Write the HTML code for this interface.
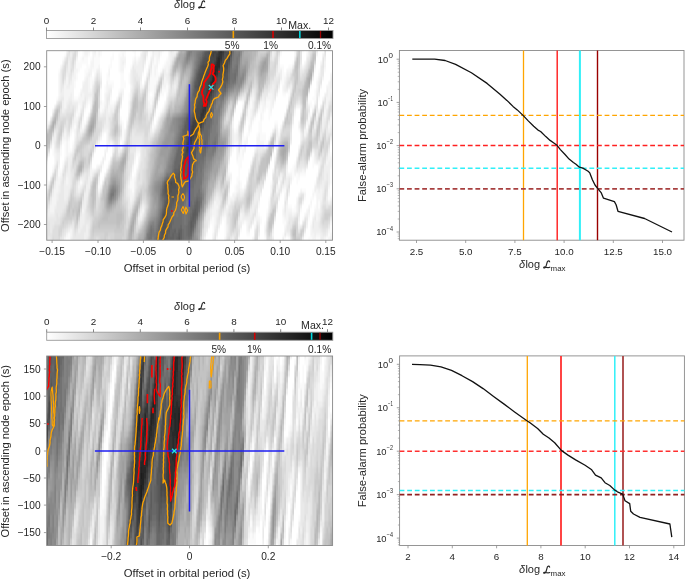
<!DOCTYPE html><html><head><meta charset="utf-8"><style>html,body{margin:0;padding:0;background:#fff;overflow:hidden}svg{display:block;will-change:transform}</style></head><body><svg width="685" height="579" viewBox="0 0 685 579" style="font-family:&quot;Liberation Sans&quot;,sans-serif" fill="#262626">
<rect width="685" height="579" fill="#fff"/>
<text x="174" y="8" font-size="11" font-style="italic">δ</text>
<text x="180.38" y="8" font-size="11">log</text>
<path transform="translate(198.35,0.6) scale(1)" d="M6.3 1.2 C6.0 -0.1 4.4 -0.1 3.9 1.4 L2.7 5.6 C2.4 6.7 1.4 7.6 0.6 7.3 C-0.1 7.0 0.6 6.1 1.8 6.4 C3.2 6.8 4.6 7.5 6.5 6.6" fill="none" stroke="#262626" stroke-width="1.15" stroke-linecap="round"/>
<linearGradient id="cbA" x1="0" x2="1" y1="0" y2="0"><stop offset="0" stop-color="#ffffff"/><stop offset="1" stop-color="#000000"/></linearGradient>
<rect x="46.5" y="30.5" width="286.5" height="8" fill="url(#cbA)" stroke="#9a9a9a" stroke-width="0.9"/>
<line x1="233.33" x2="233.33" y1="31" y2="38" stroke="#f5a000" stroke-width="1.6"/>
<line x1="273.04" x2="273.04" y1="31" y2="38" stroke="#d40000" stroke-width="1.6"/>
<line x1="299.83" x2="299.83" y1="31" y2="38" stroke="#00d8e0" stroke-width="1.6"/>
<line x1="320.51" x2="320.51" y1="31" y2="38" stroke="#a00000" stroke-width="1.3"/>
<line x1="46.5" x2="46.5" y1="27.5" y2="30.5" stroke="#707070" stroke-width="0.85"/>
<text x="46.5" y="24" font-size="9.9" text-anchor="middle" >0</text>
<line x1="93.5" x2="93.5" y1="27.5" y2="30.5" stroke="#707070" stroke-width="0.85"/>
<text x="93.5" y="24" font-size="9.9" text-anchor="middle" >2</text>
<line x1="140.5" x2="140.5" y1="27.5" y2="30.5" stroke="#707070" stroke-width="0.85"/>
<text x="140.5" y="24" font-size="9.9" text-anchor="middle" >4</text>
<line x1="187.5" x2="187.5" y1="27.5" y2="30.5" stroke="#707070" stroke-width="0.85"/>
<text x="187.5" y="24" font-size="9.9" text-anchor="middle" >6</text>
<line x1="234.5" x2="234.5" y1="27.5" y2="30.5" stroke="#707070" stroke-width="0.85"/>
<text x="234.5" y="24" font-size="9.9" text-anchor="middle" >8</text>
<line x1="281.5" x2="281.5" y1="27.5" y2="30.5" stroke="#707070" stroke-width="0.85"/>
<text x="281.5" y="24" font-size="9.9" text-anchor="middle" >10</text>
<line x1="328.5" x2="328.5" y1="27.5" y2="30.5" stroke="#707070" stroke-width="0.85"/>
<text x="328.5" y="24" font-size="9.9" text-anchor="middle" >12</text>
<text x="239.6" y="48.8" font-size="10.2" text-anchor="end" >5%</text>
<text x="278" y="48.8" font-size="10.2" text-anchor="end" >1%</text>
<text x="331.2" y="48.8" font-size="10.2" text-anchor="end" >0.1%</text>
<text x="288.3" y="28.7" font-size="10.6" text-anchor="start" >Max.</text>
<clipPath id="hA"><rect x="46.7" y="50.7" width="285.8" height="189.5"/></clipPath>
<filter id="hAf" x="-2%" y="-2%" width="104%" height="104%"><feGaussianBlur stdDeviation="0.6 1.2"/></filter>
<g clip-path="url(#hA)"><rect x="46.7" y="50.7" width="285.8" height="189.5" fill="#cccccc"/>
<g filter="url(#hAf)" stroke-width="4.5">
<path stroke="#262626" d="M214 70.7h2.4M214 74.7h2.4M212 78.7h2.4M212 82.7h2.4"/>
<path stroke="#2b2b2b" d="M220 50.7h2.4M218 58.7h2.4M216 62.7h4.4M214 66.7h6.4M216 70.7h2.4M212 74.7h2.4M214 78.7h2.4M210 82.7h2.4M210 86.7h2.4"/>
<path stroke="#313131" d="M218 50.7h2.4M222 50.7h2.4M218 54.7h4.4M216 58.7h2.4M220 58.7h2.4M210 90.7h2.4M204 106.7h2.4M202 110.7h2.4"/>
<path stroke="#363636" d="M216 74.7h2.4M212 86.7h2.4M208 90.7h2.4M208 94.7h2.4M206 98.7h2.4M204 102.7h2.4M204 110.7h2.4M200 114.7h4.4M200 118.7h2.4"/>
<path stroke="#3c3c3c" d="M216 54.7h2.4M222 54.7h2.4M214 62.7h2.4M220 62.7h2.4M212 70.7h2.4M210 78.7h2.4M208 86.7h2.4M206 94.7h2.4M208 98.7h2.4M206 102.7h2.4M202 106.7h2.4M202 118.7h2.4M200 122.7h2.4M192 126.7h2.4M192 130.7h2.4M190 134.7h2.4M188 138.7h4.4M188 142.7h2.4M186 150.7h2.4"/>
<path stroke="#414141" d="M212 50.7h4.4M230 50.7h2.4M212 54.7h2.4M228 58.7h2.4M218 70.7h2.4M210 74.7h2.4M208 82.7h2.4M214 82.7h2.4M206 90.7h2.4M210 94.7h2.4M204 98.7h2.4M206 106.7h2.4M200 110.7h2.4M204 114.7h2.4M194 118.7h2.4M198 118.7h2.4M192 122.7h4.4M198 122.7h2.4M194 126.7h2.4M198 126.7h2.4M190 130.7h2.4M192 134.7h2.4M190 142.7h2.4M186 146.7h4.4"/>
<path stroke="#474747" d="M216 50.7h2.4M224 50.7h2.4M210 54.7h2.4M214 54.7h2.4M228 54.7h2.4M210 58.7h6.4M222 58.7h2.4M208 62.7h4.4M226 62.7h2.4M208 66.7h2.4M212 66.7h2.4M220 66.7h2.4M224 66.7h4.4M204 70.7h2.4M208 70.7h4.4M222 70.7h2.4M202 74.7h2.4M206 74.7h4.4M200 78.7h4.4M206 78.7h4.4M200 82.7h2.4M206 82.7h2.4M206 86.7h2.4M212 90.7h2.4M204 94.7h2.4M202 102.7h2.4M208 102.7h2.4M200 106.7h2.4M196 110.7h4.4M194 114.7h6.4M196 118.7h2.4M196 122.7h2.4M190 126.7h2.4M196 126.7h2.4M200 126.7h2.4M194 130.7h2.4M188 134.7h2.4M192 138.7h2.4M186 142.7h2.4M188 150.7h2.4M184 154.7h4.4M184 158.7h2.4"/>
<path stroke="#4c4c4c" d="M210 50.7h2.4M228 50.7h2.4M226 54.7h2.4M208 58.7h2.4M226 58.7h2.4M206 62.7h2.4M212 62.7h2.4M222 62.7h4.4M202 66.7h6.4M210 66.7h2.4M222 66.7h2.4M202 70.7h2.4M206 70.7h2.4M220 70.7h2.4M224 70.7h2.4M200 74.7h2.4M204 74.7h2.4M218 74.7h6.4M204 78.7h2.4M216 78.7h2.4M220 78.7h2.4M198 82.7h2.4M202 82.7h4.4M198 86.7h8.4M214 86.7h2.4M200 90.7h6.4M202 94.7h2.4M200 98.7h4.4M210 98.7h2.4M198 102.7h4.4M196 106.7h4.4M194 110.7h2.4M206 110.7h2.4M192 118.7h2.4M202 122.7h2.4M196 130.7h4.4M194 134.7h4.4M190 146.7h2.4M184 150.7h2.4M182 162.7h2.4M170 182.7h2.4"/>
<path stroke="#515151" d="M208 50.7h2.4M226 50.7h2.4M208 54.7h2.4M224 54.7h2.4M230 54.7h2.4M204 58.7h4.4M224 58.7h2.4M202 62.7h4.4M228 62.7h2.4M200 66.7h2.4M200 70.7h2.4M226 70.7h2.4M198 74.7h2.4M224 74.7h2.4M198 78.7h2.4M218 78.7h2.4M222 78.7h2.4M216 82.7h2.4M196 86.7h2.4M198 90.7h2.4M198 94.7h4.4M212 94.7h2.4M198 98.7h2.4M196 102.7h2.4M208 106.7h2.4M204 118.7h2.4M190 122.7h2.4M188 130.7h2.4M198 134.7h2.4M186 138.7h2.4M194 138.7h4.4M192 142.7h2.4M188 154.7h2.4M182 158.7h2.4M186 158.7h2.4M184 162.7h2.4M182 166.7h2.4M180 170.7h2.4M188 170.7h2.4M172 182.7h4.4M168 186.7h8.4M168 190.7h4.4M168 194.7h2.4M164 210.7h2.4M162 214.7h4.4M162 218.7h4.4M162 222.7h4.4M162 226.7h4.4M162 230.7h2.4M162 234.7h2.4M160 238.7h2.4M160 242.7h4.4"/>
<path stroke="#575757" d="M206 50.7h2.4M204 54.7h4.4M202 58.7h2.4M198 70.7h2.4M226 74.7h2.4M196 78.7h2.4M224 78.7h4.4M196 82.7h2.4M218 82.7h4.4M194 86.7h2.4M216 86.7h2.4M196 90.7h2.4M214 90.7h2.4M196 94.7h2.4M196 98.7h2.4M212 98.7h2.4M210 102.7h2.4M208 110.7h2.4M192 114.7h2.4M206 114.7h2.4M190 118.7h2.4M188 122.7h2.4M188 126.7h2.4M202 126.7h2.4M200 130.7h2.4M186 134.7h2.4M194 142.7h4.4M184 146.7h2.4M192 146.7h4.4M190 150.7h6.4M182 154.7h2.4M190 154.7h6.4M188 158.7h6.4M186 162.7h8.4M180 166.7h2.4M184 166.7h8.4M182 170.7h6.4M190 170.7h2.4M178 174.7h4.4M186 174.7h4.4M172 178.7h8.4M186 178.7h2.4M166 182.7h4.4M176 182.7h4.4M164 186.7h4.4M176 186.7h2.4M164 190.7h4.4M172 190.7h6.4M166 194.7h2.4M170 194.7h6.4M166 198.7h4.4M172 198.7h2.4M166 202.7h2.4M164 206.7h4.4M166 210.7h2.4M166 214.7h2.4M166 218.7h2.4M166 222.7h2.4M160 230.7h2.4M164 230.7h2.4M160 234.7h2.4M164 234.7h2.4M162 238.7h4.4M178 238.7h2.4M158 242.7h2.4M164 242.7h2.4M176 242.7h4.4"/>
<path stroke="#5c5c5c" d="M204 50.7h2.4M200 62.7h2.4M228 66.7h2.4M196 74.7h2.4M194 82.7h2.4M222 82.7h4.4M218 86.7h2.4M224 86.7h2.4M194 90.7h2.4M216 90.7h2.4M194 94.7h2.4M214 94.7h2.4M212 102.7h2.4M194 106.7h2.4M210 106.7h2.4M210 110.7h2.4M208 114.7h2.4M186 118.7h4.4M186 122.7h2.4M204 122.7h2.4M184 126.7h4.4M184 130.7h4.4M184 134.7h2.4M198 138.7h2.4M184 142.7h2.4M196 146.7h2.4M194 158.7h2.4M180 162.7h2.4M192 166.7h2.4M178 170.7h2.4M192 170.7h2.4M174 174.7h4.4M182 174.7h4.4M190 174.7h2.4M170 178.7h2.4M180 178.7h2.4M188 178.7h2.4M164 182.7h2.4M186 182.7h2.4M178 186.7h2.4M184 186.7h2.4M178 190.7h2.4M164 194.7h2.4M176 194.7h4.4M170 198.7h2.4M174 198.7h2.4M164 202.7h2.4M168 202.7h6.4M168 206.7h4.4M162 210.7h2.4M168 210.7h2.4M194 210.7h2.4M168 214.7h2.4M192 214.7h4.4M168 218.7h2.4M192 218.7h2.4M160 222.7h2.4M168 222.7h2.4M190 222.7h2.4M160 226.7h2.4M166 226.7h4.4M190 226.7h2.4M166 230.7h4.4M166 234.7h2.4M178 234.7h2.4M158 238.7h2.4M166 238.7h2.4"/>
<path stroke="#626262" d="M202 54.7h2.4M230 58.7h2.4M198 66.7h2.4M228 70.7h2.4M226 82.7h2.4M220 86.7h4.4M192 94.7h2.4M194 98.7h2.4M194 102.7h2.4M192 110.7h2.4M190 114.7h2.4M210 114.7h2.4M206 118.7h2.4M184 122.7h2.4M182 130.7h2.4M202 130.7h2.4M182 134.7h2.4M200 134.7h2.4M182 138.7h4.4M182 142.7h2.4M204 142.7h2.4M182 146.7h2.4M204 146.7h2.4M182 150.7h2.4M196 150.7h2.4M180 158.7h2.4M194 162.7h2.4M178 166.7h2.4M194 166.7h2.4M174 170.7h4.4M172 174.7h2.4M192 174.7h2.4M168 178.7h2.4M182 178.7h4.4M180 182.7h2.4M184 182.7h2.4M180 186.7h4.4M186 186.7h2.4M162 190.7h2.4M180 190.7h6.4M162 194.7h2.4M180 194.7h4.4M164 198.7h2.4M176 198.7h4.4M174 202.7h4.4M196 202.7h2.4M172 206.7h2.4M194 206.7h4.4M170 210.7h2.4M192 210.7h2.4M196 210.7h2.4M170 214.7h2.4M196 214.7h2.4M160 218.7h2.4M170 218.7h2.4M190 218.7h2.4M194 218.7h2.4M170 222.7h2.4M192 222.7h2.4M170 226.7h2.4M192 226.7h2.4M174 230.7h2.4M178 230.7h4.4M190 230.7h2.4M158 234.7h2.4M168 234.7h2.4M172 234.7h2.4M180 234.7h2.4M168 238.7h6.4M176 238.7h2.4M180 238.7h2.4M156 242.7h2.4M166 242.7h2.4M170 242.7h4.4M180 242.7h2.4"/>
<path stroke="#676767" d="M232 50.7h2.4M200 58.7h2.4M230 62.7h2.4M196 70.7h2.4M228 74.7h2.4M194 78.7h2.4M228 78.7h2.4M192 90.7h2.4M218 90.7h2.4M222 90.7h4.4M216 94.7h2.4M192 98.7h2.4M214 98.7h2.4M192 102.7h2.4M192 106.7h2.4M212 106.7h2.4M212 110.7h2.4M188 114.7h2.4M208 118.7h4.4M206 122.7h4.4M204 126.7h6.4M204 130.7h4.4M204 134.7h4.4M180 138.7h2.4M200 138.7h2.4M204 138.7h4.4M180 142.7h2.4M198 142.7h2.4M206 142.7h2.4M178 146.7h4.4M198 146.7h2.4M202 146.7h2.4M178 150.7h4.4M202 150.7h4.4M176 154.7h6.4M196 154.7h2.4M202 154.7h2.4M176 158.7h4.4M196 158.7h2.4M174 162.7h6.4M196 162.7h2.4M174 166.7h4.4M194 170.7h2.4M194 174.7h2.4M166 178.7h2.4M190 178.7h4.4M182 182.7h2.4M188 182.7h2.4M162 186.7h2.4M186 190.7h2.4M184 194.7h2.4M180 198.7h4.4M196 198.7h2.4M178 202.7h6.4M194 202.7h2.4M198 202.7h2.4M162 206.7h2.4M174 206.7h4.4M180 206.7h2.4M198 206.7h2.4M172 210.7h4.4M180 210.7h2.4M160 214.7h2.4M172 214.7h2.4M190 214.7h2.4M172 218.7h2.4M172 222.7h2.4M188 222.7h2.4M194 222.7h2.4M158 226.7h2.4M180 226.7h2.4M188 226.7h2.4M158 230.7h2.4M170 230.7h4.4M188 230.7h2.4M170 234.7h2.4M174 234.7h4.4M188 234.7h4.4M156 238.7h2.4M174 238.7h2.4M168 242.7h2.4M174 242.7h2.4"/>
<path stroke="#6d6d6d" d="M202 50.7h2.4M198 62.7h2.4M230 66.7h2.4M234 74.7h2.4M234 78.7h2.4M228 82.7h2.4M192 86.7h2.4M226 86.7h2.4M220 90.7h2.4M222 94.7h2.4M190 102.7h2.4M214 102.7h2.4M190 106.7h2.4M190 110.7h2.4M186 114.7h2.4M184 118.7h2.4M210 122.7h2.4M182 126.7h2.4M208 130.7h2.4M180 134.7h2.4M202 134.7h2.4M208 134.7h2.4M202 138.7h2.4M178 142.7h2.4M200 142.7h4.4M200 146.7h2.4M206 146.7h2.4M176 150.7h2.4M198 150.7h4.4M198 154.7h4.4M204 154.7h2.4M174 158.7h2.4M198 158.7h6.4M198 162.7h2.4M196 166.7h2.4M172 170.7h2.4M196 170.7h2.4M170 174.7h2.4M194 178.7h2.4M190 182.7h4.4M188 186.7h6.4M162 198.7h2.4M184 198.7h2.4M198 198.7h2.4M162 202.7h2.4M190 202.7h2.4M178 206.7h2.4M182 206.7h2.4M190 206.7h4.4M176 210.7h4.4M190 210.7h2.4M198 210.7h2.4M174 214.7h2.4M178 214.7h4.4M188 214.7h2.4M174 218.7h8.4M188 218.7h2.4M158 222.7h2.4M174 222.7h8.4M172 226.7h8.4M186 226.7h2.4M176 230.7h2.4M182 230.7h2.4M186 230.7h2.4M192 230.7h2.4M156 234.7h2.4M182 234.7h2.4M186 234.7h2.4M182 238.7h2.4M188 238.7h2.4M154 242.7h2.4M188 242.7h2.4"/>
<path stroke="#727272" d="M200 54.7h2.4M232 54.7h2.4M198 58.7h2.4M196 66.7h2.4M236 66.7h2.4M230 70.7h2.4M234 70.7h4.4M194 74.7h2.4M230 74.7h4.4M230 78.7h4.4M192 82.7h2.4M232 82.7h2.4M218 94.7h4.4M190 98.7h2.4M188 110.7h2.4M212 114.7h2.4M182 122.7h2.4M210 126.7h2.4M180 130.7h2.4M178 138.7h2.4M208 138.7h2.4M214 142.7h2.4M214 146.7h2.4M200 162.7h4.4M172 166.7h2.4M198 166.7h4.4M200 170.7h2.4M196 174.7h2.4M164 178.7h2.4M162 182.7h2.4M194 182.7h2.4M188 190.7h6.4M198 190.7h2.4M160 194.7h2.4M186 194.7h2.4M190 194.7h4.4M196 194.7h4.4M190 198.7h6.4M200 198.7h2.4M184 202.7h2.4M192 202.7h2.4M200 202.7h2.4M188 206.7h2.4M160 210.7h2.4M182 210.7h2.4M188 210.7h2.4M176 214.7h2.4M182 214.7h2.4M186 214.7h2.4M182 218.7h2.4M186 218.7h2.4M196 218.7h2.4M182 222.7h2.4M186 222.7h2.4M182 226.7h4.4M150 230.7h2.4M156 230.7h2.4M184 230.7h2.4M150 234.7h2.4M184 234.7h2.4M148 238.7h4.4M154 238.7h2.4M184 238.7h4.4M190 238.7h2.4M148 242.7h2.4M182 242.7h2.4M186 242.7h2.4"/>
<path stroke="#777777" d="M200 50.7h2.4M198 54.7h2.4M238 54.7h2.4M232 58.7h2.4M236 58.7h2.4M196 62.7h2.4M236 62.7h2.4M234 66.7h2.4M194 70.7h2.4M232 70.7h2.4M236 74.7h2.4M230 82.7h2.4M234 82.7h2.4M228 86.7h2.4M226 90.7h2.4M190 94.7h2.4M224 94.7h2.4M216 98.7h2.4M220 98.7h4.4M188 106.7h2.4M214 106.7h2.4M182 118.7h2.4M212 118.7h2.4M212 122.7h2.4M180 126.7h2.4M210 130.7h2.4M178 134.7h2.4M214 138.7h2.4M176 142.7h2.4M208 142.7h2.4M212 142.7h2.4M176 146.7h2.4M208 146.7h2.4M212 146.7h2.4M206 150.7h2.4M212 150.7h2.4M174 154.7h2.4M204 158.7h2.4M172 162.7h2.4M202 166.7h2.4M198 170.7h2.4M166 174.7h4.4M198 174.7h4.4M196 178.7h6.4M196 182.7h6.4M194 186.7h6.4M160 190.7h2.4M194 190.7h4.4M110 194.7h4.4M188 194.7h2.4M194 194.7h2.4M200 194.7h2.4M160 198.7h2.4M186 198.7h4.4M188 202.7h2.4M184 206.7h2.4M186 210.7h2.4M184 214.7h2.4M158 218.7h2.4M184 218.7h2.4M184 222.7h2.4M150 226.7h2.4M156 226.7h2.4M194 226.7h2.4M152 230.7h2.4M148 234.7h2.4M152 234.7h4.4M146 242.7h2.4M152 242.7h2.4M184 242.7h2.4"/>
<path stroke="#7d7d7d" d="M188 50.7h4.4M198 50.7h2.4M234 50.7h2.4M238 50.7h2.4M188 54.7h2.4M196 54.7h2.4M234 54.7h4.4M196 58.7h2.4M234 58.7h2.4M238 58.7h2.4M232 62.7h4.4M232 66.7h2.4M192 78.7h2.4M230 86.7h2.4M190 90.7h2.4M218 98.7h2.4M188 102.7h2.4M216 102.7h2.4M220 102.7h2.4M218 106.7h2.4M214 110.7h6.4M184 114.7h2.4M214 114.7h4.4M180 118.7h2.4M214 118.7h4.4M180 122.7h2.4M214 122.7h4.4M178 126.7h2.4M212 126.7h4.4M178 130.7h2.4M212 130.7h4.4M210 134.7h8.4M176 138.7h2.4M210 138.7h4.4M216 138.7h2.4M210 142.7h2.4M216 142.7h2.4M174 146.7h2.4M210 146.7h2.4M174 150.7h2.4M208 150.7h4.4M214 150.7h2.4M206 154.7h8.4M172 158.7h2.4M204 162.7h2.4M170 166.7h2.4M170 170.7h2.4M202 170.7h2.4M202 174.7h2.4M160 186.7h2.4M200 186.7h2.4M112 190.7h2.4M200 190.7h2.4M110 198.7h2.4M160 202.7h2.4M186 202.7h2.4M160 206.7h2.4M186 206.7h2.4M200 206.7h2.4M184 210.7h2.4M158 214.7h2.4M156 222.7h2.4M152 226.7h2.4M148 230.7h2.4M154 230.7h2.4M146 234.7h2.4M192 234.7h2.4M146 238.7h2.4M152 238.7h2.4M150 242.7h2.4M190 242.7h2.4"/>
<path stroke="#828282" d="M196 50.7h2.4M236 50.7h2.4M186 54.7h2.4M186 58.7h2.4M194 62.7h2.4M238 62.7h2.4M194 66.7h2.4M236 78.7h2.4M190 86.7h2.4M232 86.7h2.4M188 98.7h2.4M218 102.7h2.4M216 106.7h2.4M220 106.7h2.4M186 110.7h2.4M218 114.7h2.4M178 118.7h2.4M178 122.7h2.4M216 126.7h2.4M216 130.7h2.4M176 134.7h2.4M174 142.7h2.4M172 150.7h2.4M172 154.7h2.4M170 158.7h2.4M206 158.7h6.4M170 162.7h2.4M168 166.7h2.4M204 166.7h2.4M168 170.7h2.4M202 178.7h2.4M110 190.7h2.4M114 190.7h2.4M202 194.7h2.4M202 198.7h2.4M158 210.7h2.4M198 214.7h2.4M156 218.7h2.4M152 222.7h2.4M154 226.7h2.4M144 242.7h2.4"/>
<path stroke="#888888" d="M192 50.7h4.4M240 50.7h2.4M190 54.7h2.4M194 54.7h2.4M188 58.7h2.4M194 58.7h2.4M238 66.7h2.4M192 74.7h2.4M242 74.7h2.4M240 78.7h4.4M190 82.7h2.4M236 82.7h2.4M240 82.7h2.4M228 90.7h2.4M188 94.7h2.4M226 94.7h2.4M222 102.7h2.4M186 106.7h2.4M182 114.7h2.4M176 118.7h2.4M218 118.7h2.4M176 122.7h2.4M176 126.7h2.4M176 130.7h2.4M174 138.7h2.4M172 146.7h2.4M216 146.7h2.4M170 154.7h2.4M168 162.7h2.4M206 162.7h4.4M206 166.7h2.4M166 170.7h2.4M204 170.7h2.4M164 174.7h2.4M162 178.7h2.4M160 182.7h2.4M202 182.7h2.4M112 186.7h2.4M158 186.7h2.4M158 190.7h2.4M202 190.7h2.4M114 194.7h2.4M158 194.7h2.4M108 198.7h2.4M112 198.7h2.4M158 198.7h2.4M158 202.7h2.4M158 206.7h2.4M150 222.7h2.4M154 222.7h2.4M196 222.7h2.4M148 226.7h2.4M194 230.7h2.4M192 238.7h2.4"/>
<path stroke="#8d8d8d" d="M186 50.7h2.4M192 54.7h2.4M240 54.7h2.4M186 62.7h2.4M192 70.7h2.4M238 70.7h2.4M238 74.7h2.4M238 78.7h2.4M238 82.7h2.4M234 86.7h2.4M238 86.7h2.4M188 90.7h2.4M230 90.7h2.4M224 98.7h2.4M186 102.7h2.4M184 110.7h2.4M220 110.7h2.4M174 118.7h2.4M172 122.7h4.4M218 122.7h2.4M174 126.7h2.4M218 126.7h2.4M174 130.7h2.4M218 130.7h2.4M174 134.7h2.4M218 134.7h2.4M170 150.7h2.4M214 154.7h2.4M168 158.7h2.4M212 158.7h2.4M210 162.7h2.4M166 166.7h2.4M208 166.7h2.4M206 170.7h2.4M204 174.7h2.4M204 178.7h2.4M158 182.7h2.4M114 186.7h2.4M156 186.7h2.4M202 186.7h2.4M156 190.7h2.4M108 194.7h2.4M202 202.7h2.4M200 210.7h2.4M156 214.7h2.4M154 218.7h2.4M146 230.7h2.4M192 242.7h2.4"/>
<path stroke="#929292" d="M184 58.7h2.4M190 58.7h4.4M184 62.7h2.4M192 62.7h2.4M192 66.7h2.4M242 70.7h4.4M240 74.7h2.4M244 74.7h2.4M190 78.7h2.4M236 86.7h2.4M232 90.7h2.4M186 98.7h2.4M184 106.7h2.4M222 106.7h2.4M180 114.7h2.4M220 114.7h2.4M172 118.7h2.4M170 126.7h4.4M170 130.7h4.4M172 138.7h2.4M218 138.7h2.4M172 142.7h2.4M218 142.7h2.4M170 146.7h2.4M216 150.7h2.4M168 154.7h2.4M166 162.7h2.4M210 166.7h2.4M164 170.7h2.4M208 170.7h2.4M206 174.7h2.4M160 178.7h2.4M206 178.7h2.4M156 182.7h2.4M204 182.7h2.4M110 186.7h2.4M154 186.7h2.4M204 186.7h2.4M116 190.7h2.4M154 190.7h2.4M204 190.7h2.4M156 194.7h2.4M204 194.7h2.4M114 198.7h2.4M108 202.7h4.4M202 206.7h2.4M156 210.7h2.4M152 218.7h2.4M198 218.7h2.4M148 222.7h2.4M196 226.7h2.4M194 234.7h2.4M144 238.7h2.4M194 238.7h2.4M194 242.7h2.4"/>
<path stroke="#989898" d="M240 58.7h2.4M188 62.7h2.4M184 66.7h2.4M244 66.7h2.4M240 70.7h2.4M242 82.7h2.4M188 86.7h2.4M240 86.7h2.4M236 90.7h2.4M186 94.7h2.4M228 94.7h2.4M226 98.7h2.4M184 102.7h2.4M224 102.7h2.4M182 110.7h2.4M178 114.7h2.4M170 122.7h2.4M168 130.7h2.4M168 134.7h6.4M166 138.7h6.4M164 142.7h8.4M220 142.7h4.4M164 146.7h4.4M218 146.7h6.4M168 150.7h2.4M218 150.7h4.4M216 154.7h2.4M166 158.7h2.4M214 158.7h2.4M212 162.7h2.4M210 170.7h2.4M162 174.7h2.4M208 174.7h2.4M158 178.7h2.4M112 182.7h4.4M154 182.7h2.4M206 182.7h2.4M116 186.7h2.4M108 190.7h2.4M116 194.7h2.4M154 194.7h2.4M154 198.7h4.4M204 198.7h2.4M156 202.7h2.4M156 206.7h2.4M154 214.7h2.4M200 214.7h2.4M150 218.7h2.4M146 226.7h2.4M196 230.7h2.4M196 238.7h2.4M196 242.7h2.4"/>
<path stroke="#9d9d9d" d="M242 50.7h2.4M184 54.7h2.4M182 62.7h2.4M190 62.7h2.4M240 62.7h2.4M264 62.7h2.4M182 66.7h2.4M240 66.7h4.4M262 66.7h2.4M190 74.7h2.4M244 78.7h2.4M234 90.7h2.4M238 90.7h2.4M222 110.7h2.4M176 114.7h2.4M220 118.7h2.4M168 126.7h2.4M166 134.7h2.4M164 138.7h2.4M220 138.7h2.4M162 142.7h2.4M224 142.7h2.4M162 146.7h2.4M168 146.7h2.4M160 150.7h8.4M222 150.7h2.4M160 154.7h8.4M218 154.7h4.4M164 158.7h2.4M216 158.7h4.4M164 162.7h2.4M214 162.7h2.4M164 166.7h2.4M212 166.7h2.4M160 174.7h2.4M156 178.7h2.4M208 178.7h2.4M152 186.7h2.4M206 186.7h2.4M152 190.7h2.4M152 194.7h2.4M112 202.7h2.4M154 202.7h2.4M204 202.7h2.4M154 210.7h2.4M202 210.7h2.4M152 214.7h2.4M198 222.7h2.4M144 234.7h2.4M196 234.7h2.4M142 242.7h2.4"/>
<path stroke="#a3a3a3" d="M178 58.7h2.4M182 58.7h2.4M244 62.7h4.4M262 62.7h2.4M186 66.7h2.4M190 66.7h2.4M246 66.7h2.4M264 66.7h2.4M182 70.7h2.4M190 70.7h2.4M246 70.7h2.4M260 70.7h4.4M188 82.7h2.4M186 90.7h2.4M230 94.7h2.4M236 94.7h2.4M184 98.7h2.4M182 106.7h2.4M180 110.7h2.4M174 114.7h2.4M166 118.7h6.4M166 122.7h4.4M220 122.7h2.4M90 126.7h2.4M166 126.7h2.4M220 126.7h2.4M90 130.7h2.4M166 130.7h2.4M164 134.7h2.4M220 134.7h2.4M222 138.7h4.4M160 146.7h2.4M224 146.7h2.4M158 154.7h2.4M222 154.7h2.4M158 158.7h6.4M220 158.7h2.4M158 162.7h6.4M216 162.7h4.4M156 166.7h4.4M162 166.7h2.4M214 166.7h4.4M156 170.7h2.4M162 170.7h2.4M212 170.7h6.4M154 174.7h6.4M210 174.7h2.4M214 174.7h2.4M112 178.7h4.4M154 178.7h2.4M110 182.7h2.4M116 182.7h2.4M152 182.7h2.4M108 186.7h2.4M118 186.7h2.4M118 190.7h2.4M206 190.7h2.4M106 198.7h2.4M116 198.7h2.4M152 198.7h2.4M106 202.7h2.4M152 202.7h2.4M108 206.7h2.4M152 206.7h4.4M152 210.7h2.4M150 214.7h2.4M148 218.7h2.4M200 218.7h2.4M198 226.7h2.4M144 230.7h2.4M198 230.7h2.4"/>
<path stroke="#a8a8a8" d="M184 50.7h2.4M178 54.7h6.4M242 54.7h2.4M176 58.7h2.4M180 58.7h2.4M242 58.7h6.4M264 58.7h4.4M176 62.7h2.4M180 62.7h2.4M242 62.7h2.4M266 62.7h2.4M188 66.7h2.4M260 66.7h2.4M266 66.7h2.4M184 70.7h2.4M264 70.7h2.4M260 74.7h2.4M310 74.7h2.4M308 78.7h2.4M308 82.7h2.4M232 94.7h4.4M234 98.7h2.4M224 106.7h2.4M168 114.7h2.4M172 114.7h2.4M222 114.7h2.4M92 122.7h2.4M92 126.7h2.4M164 126.7h2.4M88 130.7h2.4M164 130.7h2.4M220 130.7h2.4M162 138.7h2.4M160 142.7h2.4M158 150.7h2.4M282 150.7h4.4M282 154.7h2.4M156 158.7h2.4M122 162.7h2.4M156 162.7h2.4M160 166.7h2.4M218 166.7h2.4M154 170.7h2.4M158 170.7h4.4M212 174.7h2.4M110 178.7h2.4M116 178.7h2.4M152 178.7h2.4M210 178.7h2.4M214 178.7h2.4M118 182.7h2.4M208 182.7h2.4M150 186.7h2.4M150 190.7h2.4M106 194.7h2.4M118 194.7h2.4M150 194.7h2.4M206 194.7h2.4M114 202.7h2.4M106 206.7h2.4M110 206.7h2.4M150 210.7h2.4M132 222.7h2.4M146 222.7h2.4M130 226.7h2.4M130 230.7h2.4M198 234.7h2.4M142 238.7h2.4M198 238.7h2.4M138 242.7h4.4"/>
<path stroke="#aeaeae" d="M180 50.7h2.4M244 50.7h4.4M244 54.7h6.4M266 54.7h2.4M248 58.7h2.4M178 62.7h2.4M248 62.7h2.4M260 62.7h2.4M174 66.7h4.4M180 66.7h2.4M248 66.7h2.4M266 70.7h2.4M182 74.7h2.4M246 74.7h2.4M262 74.7h2.4M188 78.7h2.4M244 82.7h2.4M186 86.7h2.4M242 86.7h2.4M228 98.7h2.4M182 102.7h2.4M226 102.7h2.4M180 106.7h2.4M178 110.7h2.4M224 110.7h2.4M92 118.7h2.4M52 122.7h2.4M90 122.7h2.4M164 122.7h2.4M52 126.7h2.4M162 130.7h2.4M88 134.7h2.4M162 134.7h2.4M222 134.7h4.4M160 138.7h2.4M226 138.7h2.4M158 142.7h2.4M226 142.7h2.4M158 146.7h2.4M282 146.7h4.4M156 150.7h2.4M224 150.7h2.4M280 150.7h2.4M156 154.7h2.4M280 154.7h2.4M284 154.7h2.4M122 158.7h4.4M222 158.7h2.4M282 158.7h2.4M120 162.7h2.4M154 162.7h2.4M220 162.7h2.4M80 166.7h2.4M120 166.7h4.4M154 166.7h2.4M78 170.7h2.4M120 170.7h2.4M112 174.7h6.4M152 174.7h2.4M216 174.7h2.4M118 178.7h2.4M212 178.7h2.4M150 182.7h2.4M210 182.7h4.4M208 186.7h2.4M208 190.7h2.4M150 198.7h2.4M206 198.7h2.4M150 202.7h2.4M150 206.7h2.4M204 206.7h2.4M134 214.7h2.4M148 214.7h2.4M202 214.7h2.4M132 218.7h2.4M200 222.7h2.4M132 226.7h2.4M144 226.7h2.4M130 234.7h2.4M142 234.7h2.4M138 238.7h4.4M136 242.7h2.4M198 242.7h2.4"/>
<path stroke="#b3b3b3" d="M182 50.7h2.4M248 50.7h4.4M250 54.7h2.4M250 58.7h2.4M262 58.7h2.4M174 62.7h2.4M258 66.7h2.4M174 70.7h2.4M180 70.7h2.4M186 70.7h4.4M258 70.7h2.4M310 70.7h2.4M180 74.7h2.4M188 74.7h2.4M258 74.7h2.4M264 74.7h2.4M308 74.7h2.4M180 78.7h2.4M260 78.7h4.4M306 78.7h2.4M310 78.7h2.4M180 82.7h2.4M306 82.7h2.4M306 86.7h4.4M306 90.7h2.4M184 94.7h2.4M234 102.7h2.4M178 106.7h2.4M168 110.7h2.4M174 110.7h4.4M94 114.7h2.4M166 114.7h2.4M170 114.7h2.4M54 118.7h2.4M94 118.7h2.4M222 118.7h2.4M54 122.7h2.4M94 122.7h2.4M88 126.7h2.4M92 130.7h2.4M90 134.7h2.4M160 134.7h2.4M226 134.7h2.4M158 138.7h2.4M156 146.7h2.4M286 146.7h2.4M286 150.7h2.4M124 154.7h2.4M154 158.7h2.4M284 158.7h2.4M124 162.7h2.4M78 166.7h2.4M118 166.7h2.4M80 170.7h2.4M112 170.7h2.4M116 170.7h4.4M122 170.7h2.4M152 170.7h2.4M218 170.7h2.4M110 174.7h2.4M118 174.7h4.4M120 178.7h2.4M150 178.7h2.4M222 178.7h2.4M108 182.7h2.4M120 182.7h2.4M120 186.7h2.4M148 186.7h2.4M210 186.7h4.4M106 190.7h2.4M120 190.7h2.4M148 190.7h2.4M210 190.7h2.4M208 194.7h2.4M206 202.7h2.4M112 206.7h2.4M136 206.7h2.4M106 210.7h4.4M134 210.7h4.4M132 214.7h2.4M134 218.7h2.4M146 218.7h2.4M130 222.7h2.4M200 226.7h2.4M132 230.7h2.4M142 230.7h2.4M128 234.7h2.4M140 234.7h2.4M128 238.7h4.4M128 242.7h2.4"/>
<path stroke="#b8b8b8" d="M252 50.7h4.4M252 54.7h4.4M268 54.7h2.4M252 58.7h2.4M250 62.7h2.4M178 66.7h2.4M310 66.7h4.4M172 70.7h2.4M248 70.7h2.4M308 70.7h2.4M184 74.7h4.4M182 78.7h2.4M246 78.7h2.4M258 78.7h2.4M264 78.7h2.4M186 82.7h2.4M258 82.7h6.4M258 86.7h2.4M304 86.7h2.4M184 90.7h2.4M240 90.7h2.4M248 90.7h2.4M304 90.7h2.4M304 94.7h4.4M182 98.7h2.4M230 98.7h4.4M94 102.7h2.4M180 102.7h2.4M94 106.7h2.4M174 106.7h4.4M226 106.7h2.4M232 106.7h2.4M94 110.7h2.4M92 114.7h2.4M90 118.7h2.4M164 118.7h2.4M50 126.7h2.4M162 126.7h2.4M50 130.7h2.4M160 130.7h2.4M222 130.7h6.4M86 134.7h2.4M156 142.7h2.4M284 142.7h4.4M226 146.7h2.4M280 146.7h2.4M154 150.7h2.4M154 154.7h2.4M224 154.7h2.4M270 154.7h2.4M280 158.7h2.4M80 162.7h2.4M222 162.7h2.4M282 162.7h2.4M152 166.7h2.4M220 166.7h2.4M114 170.7h2.4M224 170.7h2.4M150 174.7h2.4M222 174.7h2.4M214 182.7h2.4M148 194.7h2.4M210 194.7h2.4M104 198.7h2.4M118 198.7h2.4M208 198.7h2.4M104 202.7h2.4M116 202.7h2.4M138 202.7h2.4M104 206.7h2.4M114 206.7h2.4M78 210.7h2.4M110 210.7h2.4M148 210.7h2.4M204 210.7h2.4M202 218.7h2.4M144 222.7h2.4M128 230.7h2.4M200 230.7h2.4M138 234.7h2.4M130 242.7h2.4"/>
<path stroke="#bebebe" d="M178 50.7h2.4M256 50.7h2.4M268 50.7h2.4M254 58.7h2.4M260 58.7h2.4M268 58.7h2.4M296 58.7h2.4M312 58.7h2.4M252 62.7h2.4M258 62.7h2.4M296 62.7h2.4M310 62.7h4.4M334 62.7h2.4M172 66.7h2.4M250 66.7h4.4M296 66.7h2.4M334 66.7h2.4M250 70.7h2.4M312 70.7h2.4M172 74.7h2.4M248 74.7h2.4M266 74.7h2.4M186 78.7h2.4M250 82.7h2.4M304 82.7h2.4M158 86.7h2.4M178 86.7h4.4M184 86.7h2.4M250 86.7h2.4M260 86.7h4.4M178 90.7h2.4M258 90.7h4.4M302 90.7h2.4M156 94.7h2.4M178 94.7h2.4M182 94.7h2.4M238 94.7h2.4M248 94.7h2.4M258 94.7h2.4M302 94.7h2.4M96 98.7h2.4M134 98.7h2.4M176 98.7h2.4M180 98.7h2.4M236 98.7h2.4M246 98.7h2.4M302 98.7h4.4M96 102.7h2.4M134 102.7h2.4M176 102.7h4.4M228 102.7h2.4M232 102.7h2.4M302 102.7h4.4M96 106.7h2.4M132 106.7h4.4M56 110.7h2.4M92 110.7h2.4M96 110.7h2.4M132 110.7h2.4M170 110.7h4.4M232 110.7h2.4M54 114.7h4.4M132 114.7h2.4M224 114.7h2.4M162 122.7h2.4M222 122.7h2.4M94 126.7h2.4M222 126.7h2.4M48 130.7h2.4M52 130.7h2.4M86 130.7h2.4M114 130.7h2.4M46 134.7h6.4M158 134.7h2.4M46 138.7h4.4M86 138.7h4.4M272 138.7h2.4M46 142.7h4.4M270 142.7h4.4M282 142.7h2.4M154 146.7h2.4M268 146.7h6.4M124 150.7h2.4M268 150.7h4.4M278 150.7h2.4M122 154.7h2.4M152 154.7h2.4M268 154.7h2.4M278 154.7h2.4M286 154.7h2.4M120 158.7h2.4M152 158.7h2.4M266 158.7h4.4M82 162.7h2.4M118 162.7h2.4M152 162.7h2.4M266 162.7h2.4M280 162.7h2.4M82 166.7h2.4M112 166.7h6.4M222 166.7h4.4M76 170.7h2.4M110 170.7h2.4M150 170.7h2.4M220 170.7h4.4M76 174.7h4.4M122 174.7h2.4M218 174.7h2.4M224 174.7h2.4M108 178.7h2.4M216 178.7h2.4M258 178.7h2.4M94 182.7h2.4M148 182.7h2.4M222 182.7h2.4M92 186.7h4.4M106 186.7h2.4M92 190.7h2.4M212 190.7h2.4M92 194.7h2.4M104 194.7h2.4M120 194.7h2.4M224 194.7h2.4M92 198.7h2.4M138 198.7h2.4M148 198.7h2.4M248 198.7h2.4M92 202.7h2.4M136 202.7h2.4M148 202.7h2.4M78 206.7h2.4M134 206.7h2.4M148 206.7h2.4M104 210.7h2.4M112 210.7h2.4M76 214.7h2.4M104 214.7h6.4M116 214.7h6.4M146 214.7h2.4M76 218.7h2.4M102 218.7h6.4M116 218.7h6.4M130 218.7h2.4M116 222.7h4.4M134 222.7h2.4M142 226.7h2.4M140 230.7h2.4M294 230.7h2.4M132 234.7h2.4M200 234.7h2.4M292 234.7h4.4M136 238.7h2.4M126 242.7h2.4M134 242.7h2.4"/>
<path stroke="#c3c3c3" d="M176 54.7h2.4M256 54.7h2.4M264 54.7h2.4M312 54.7h4.4M314 58.7h2.4M254 62.7h2.4M268 62.7h2.4M254 66.7h4.4M294 66.7h2.4M176 70.7h4.4M252 70.7h2.4M256 70.7h2.4M294 70.7h4.4M250 74.7h2.4M256 74.7h2.4M296 74.7h2.4M306 74.7h2.4M184 78.7h2.4M296 78.7h2.4M178 82.7h2.4M182 82.7h4.4M246 82.7h2.4M264 82.7h2.4M294 82.7h2.4M182 86.7h2.4M244 86.7h2.4M248 86.7h2.4M294 86.7h2.4M96 90.7h2.4M156 90.7h4.4M180 90.7h4.4M242 90.7h2.4M94 94.7h4.4M176 94.7h2.4M180 94.7h2.4M246 94.7h2.4M292 94.7h2.4M94 98.7h2.4M136 98.7h2.4M142 98.7h2.4M178 98.7h2.4M132 102.7h2.4M136 102.7h2.4M142 102.7h2.4M174 102.7h2.4M246 102.7h2.4M290 102.7h2.4M92 106.7h2.4M136 106.7h2.4M168 106.7h4.4M244 106.7h2.4M288 106.7h2.4M302 106.7h4.4M134 110.7h2.4M288 110.7h2.4M302 110.7h2.4M134 114.7h2.4M230 114.7h2.4M242 114.7h2.4M286 114.7h2.4M302 114.7h2.4M314 114.7h2.4M320 114.7h2.4M52 118.7h2.4M56 118.7h2.4M130 118.7h4.4M242 118.7h2.4M286 118.7h2.4M302 118.7h2.4M312 118.7h2.4M318 118.7h2.4M88 122.7h2.4M130 122.7h2.4M284 122.7h2.4M310 122.7h4.4M318 122.7h2.4M114 126.7h4.4M226 126.7h2.4M310 126.7h2.4M318 126.7h2.4M116 130.7h2.4M228 130.7h2.4M310 130.7h2.4M316 130.7h2.4M114 134.7h2.4M228 134.7h2.4M316 134.7h2.4M50 138.7h2.4M84 138.7h2.4M156 138.7h2.4M44 142.7h2.4M154 142.7h2.4M308 142.7h4.4M322 142.7h2.4M46 146.7h2.4M152 146.7h2.4M308 146.7h4.4M320 146.7h2.4M76 150.7h2.4M126 150.7h2.4M152 150.7h2.4M306 150.7h4.4M320 150.7h2.4M90 154.7h2.4M126 154.7h2.4M150 154.7h2.4M266 154.7h2.4M306 154.7h4.4M150 158.7h2.4M224 158.7h2.4M262 158.7h4.4M278 158.7h2.4M78 162.7h2.4M112 162.7h6.4M150 162.7h2.4M224 162.7h2.4M260 162.7h6.4M268 162.7h2.4M284 162.7h2.4M124 166.7h2.4M150 166.7h2.4M260 166.7h8.4M258 170.7h8.4M220 174.7h2.4M258 174.7h4.4M94 178.7h2.4M122 178.7h2.4M148 178.7h2.4M256 178.7h2.4M92 182.7h2.4M104 182.7h2.4M122 182.7h2.4M220 182.7h2.4M50 186.7h2.4M104 186.7h2.4M122 186.7h2.4M214 186.7h2.4M94 190.7h2.4M102 190.7h4.4M146 190.7h2.4M224 190.7h2.4M48 194.7h2.4M90 194.7h2.4M94 194.7h2.4M102 194.7h2.4M146 194.7h2.4M248 194.7h2.4M94 198.7h2.4M102 198.7h2.4M120 198.7h2.4M224 198.7h2.4M246 198.7h2.4M78 202.7h4.4M118 202.7h2.4M246 202.7h4.4M68 206.7h2.4M92 206.7h2.4M116 206.7h4.4M138 206.7h2.4M206 206.7h2.4M68 210.7h2.4M72 210.7h2.4M76 210.7h2.4M102 210.7h2.4M114 210.7h8.4M132 210.7h2.4M272 210.7h2.4M78 214.7h2.4M102 214.7h2.4M110 214.7h6.4M122 214.7h2.4M136 214.7h2.4M236 214.7h2.4M270 214.7h4.4M100 218.7h2.4M108 218.7h8.4M122 218.7h2.4M234 218.7h2.4M270 218.7h4.4M98 222.7h18.4M120 222.7h2.4M234 222.7h2.4M268 222.7h4.4M98 226.7h2.4M116 226.7h4.4M128 226.7h2.4M268 226.7h4.4M292 230.7h2.4M126 238.7h2.4M132 238.7h2.4M294 238.7h2.4M132 242.7h2.4M294 242.7h2.4"/>
<path stroke="#c9c9c9" d="M266 50.7h2.4M298 50.7h2.4M260 54.7h4.4M298 54.7h2.4M174 58.7h2.4M256 58.7h4.4M298 58.7h2.4M334 58.7h2.4M256 62.7h2.4M298 62.7h2.4M268 66.7h2.4M254 70.7h2.4M334 70.7h2.4M174 74.7h2.4M252 74.7h2.4M294 74.7h2.4M248 78.7h6.4M256 78.7h2.4M266 78.7h2.4M294 78.7h2.4M160 82.7h2.4M248 82.7h2.4M296 82.7h2.4M302 86.7h2.4M292 90.7h4.4M134 94.7h4.4M144 94.7h2.4M156 98.7h2.4M258 98.7h2.4M290 98.7h2.4M140 102.7h2.4M154 102.7h2.4M170 102.7h2.4M140 106.7h4.4M172 106.7h2.4M58 110.7h2.4M116 110.7h2.4M136 110.7h2.4M140 110.7h2.4M166 110.7h2.4M226 110.7h2.4M230 110.7h2.4M244 110.7h2.4M314 110.7h2.4M90 114.7h2.4M96 114.7h2.4M114 114.7h2.4M130 114.7h2.4M140 114.7h2.4M312 114.7h2.4M114 118.7h2.4M230 118.7h2.4M300 118.7h2.4M320 118.7h2.4M116 122.7h2.4M132 122.7h2.4M228 122.7h2.4M240 122.7h4.4M286 122.7h4.4M302 122.7h2.4M130 126.7h2.4M160 126.7h2.4M224 126.7h2.4M228 126.7h2.4M240 126.7h2.4M60 130.7h2.4M318 130.7h2.4M84 134.7h2.4M92 134.7h2.4M44 138.7h2.4M82 138.7h2.4M90 138.7h2.4M154 138.7h2.4M228 138.7h2.4M284 138.7h4.4M316 138.7h2.4M322 138.7h2.4M80 142.7h8.4M152 142.7h2.4M228 142.7h2.4M280 142.7h2.4M288 142.7h2.4M48 146.7h2.4M78 146.7h4.4M126 146.7h2.4M278 146.7h2.4M288 146.7h2.4M46 150.7h2.4M78 150.7h2.4M150 150.7h2.4M226 150.7h2.4M266 150.7h2.4M300 150.7h2.4M74 154.7h2.4M264 154.7h2.4M74 158.7h2.4M80 158.7h4.4M88 158.7h2.4M126 158.7h2.4M286 158.7h2.4M306 158.7h2.4M88 162.7h2.4M148 162.7h2.4M76 166.7h2.4M110 166.7h2.4M148 166.7h2.4M258 166.7h2.4M280 166.7h2.4M148 170.7h2.4M252 170.7h2.4M108 174.7h2.4M148 174.7h2.4M52 178.7h2.4M96 178.7h2.4M106 178.7h2.4M218 178.7h4.4M52 182.7h2.4M106 182.7h2.4M216 182.7h2.4M256 182.7h2.4M146 186.7h2.4M220 186.7h2.4M226 186.7h2.4M48 190.7h4.4M90 190.7h2.4M122 190.7h2.4M226 190.7h2.4M248 190.7h2.4M138 194.7h4.4M250 194.7h2.4M70 198.7h2.4M80 198.7h2.4M90 198.7h2.4M100 198.7h2.4M136 198.7h2.4M140 198.7h2.4M146 198.7h2.4M210 198.7h2.4M222 198.7h2.4M250 198.7h2.4M68 202.7h4.4M90 202.7h2.4M94 202.7h2.4M102 202.7h2.4M120 202.7h2.4M208 202.7h2.4M222 202.7h2.4M70 206.7h2.4M74 206.7h4.4M90 206.7h2.4M102 206.7h2.4M120 206.7h2.4M246 206.7h2.4M66 210.7h2.4M74 210.7h2.4M92 210.7h2.4M122 210.7h2.4M146 210.7h2.4M236 210.7h2.4M274 210.7h2.4M66 214.7h4.4M72 214.7h2.4M100 214.7h2.4M234 214.7h2.4M98 218.7h2.4M144 218.7h2.4M236 218.7h2.4M76 222.7h2.4M96 222.7h2.4M122 222.7h2.4M202 222.7h2.4M272 222.7h2.4M92 226.7h6.4M100 226.7h16.4M120 226.7h4.4M134 226.7h2.4M294 226.7h2.4M92 230.7h2.4M114 230.7h8.4M138 230.7h2.4M268 230.7h2.4M126 234.7h2.4M136 234.7h2.4M300 234.7h2.4M134 238.7h2.4M200 238.7h2.4M292 238.7h2.4M296 242.7h2.4"/>
<path stroke="#cecece" d="M258 50.7h2.4M314 50.7h2.4M258 54.7h2.4M296 54.7h2.4M310 58.7h2.4M294 62.7h2.4M298 66.7h2.4M308 66.7h2.4M268 70.7h2.4M170 74.7h2.4M178 74.7h2.4M254 74.7h2.4M292 74.7h2.4M160 78.7h2.4M172 78.7h2.4M178 78.7h2.4M304 78.7h2.4M158 82.7h2.4M252 82.7h2.4M256 82.7h2.4M96 86.7h4.4M246 86.7h2.4M98 90.7h2.4M136 90.7h2.4M144 90.7h2.4M176 90.7h2.4M250 90.7h2.4M298 90.7h4.4M142 94.7h2.4M256 94.7h2.4M260 94.7h2.4M300 94.7h2.4M132 98.7h2.4M144 98.7h2.4M154 98.7h2.4M174 98.7h2.4M256 98.7h2.4M292 98.7h2.4M138 102.7h2.4M172 102.7h2.4M230 102.7h2.4M244 102.7h2.4M58 106.7h2.4M116 106.7h2.4M138 106.7h2.4M154 106.7h2.4M234 106.7h2.4M290 106.7h2.4M54 110.7h2.4M130 110.7h2.4M138 110.7h2.4M142 110.7h2.4M304 110.7h2.4M320 110.7h2.4M116 114.7h2.4M138 114.7h2.4M164 114.7h2.4M232 114.7h2.4M244 114.7h2.4M288 114.7h4.4M304 114.7h2.4M96 118.7h2.4M116 118.7h2.4M134 118.7h2.4M138 118.7h4.4M162 118.7h2.4M224 118.7h2.4M284 118.7h2.4M288 118.7h4.4M304 118.7h2.4M50 122.7h2.4M114 122.7h2.4M300 122.7h2.4M54 126.7h2.4M60 126.7h2.4M86 126.7h2.4M128 126.7h2.4M284 126.7h2.4M316 126.7h2.4M94 130.7h2.4M112 130.7h2.4M128 130.7h2.4M158 130.7h2.4M240 130.7h2.4M308 130.7h2.4M58 134.7h4.4M112 134.7h2.4M116 134.7h2.4M128 134.7h2.4M156 134.7h2.4M308 134.7h4.4M318 134.7h2.4M58 138.7h2.4M282 138.7h2.4M288 138.7h2.4M308 138.7h4.4M314 138.7h2.4M88 142.7h2.4M126 142.7h2.4M316 142.7h2.4M320 142.7h2.4M44 146.7h2.4M76 146.7h2.4M82 146.7h2.4M92 146.7h2.4M124 146.7h2.4M150 146.7h2.4M302 146.7h2.4M306 146.7h2.4M322 146.7h2.4M80 150.7h2.4M90 150.7h2.4M310 150.7h2.4M46 154.7h2.4M76 154.7h2.4M80 154.7h2.4M88 154.7h2.4M148 154.7h2.4M226 154.7h2.4M300 154.7h2.4M318 154.7h2.4M84 158.7h2.4M112 158.7h4.4M118 158.7h2.4M148 158.7h2.4M226 158.7h2.4M260 158.7h2.4M276 158.7h2.4M298 158.7h2.4M84 162.7h2.4M226 162.7h2.4M276 162.7h4.4M252 166.7h2.4M282 166.7h2.4M82 170.7h2.4M124 170.7h2.4M146 170.7h2.4M74 174.7h2.4M96 174.7h2.4M146 174.7h2.4M250 174.7h4.4M256 174.7h2.4M262 174.7h4.4M76 178.7h2.4M146 178.7h2.4M224 178.7h2.4M250 178.7h2.4M260 178.7h2.4M50 182.7h2.4M96 182.7h2.4M146 182.7h2.4M250 182.7h2.4M258 182.7h2.4M90 186.7h2.4M102 186.7h2.4M222 186.7h2.4M248 186.7h4.4M140 190.7h2.4M144 190.7h2.4M250 190.7h2.4M70 194.7h2.4M122 194.7h2.4M212 194.7h2.4M222 194.7h2.4M226 194.7h2.4M246 194.7h2.4M48 198.7h2.4M72 198.7h2.4M72 202.7h6.4M100 202.7h2.4M134 202.7h2.4M146 202.7h2.4M72 206.7h2.4M80 206.7h2.4M94 206.7h2.4M100 206.7h2.4M122 206.7h2.4M234 206.7h2.4M238 206.7h2.4M248 206.7h2.4M274 206.7h2.4M70 210.7h2.4M90 210.7h2.4M100 210.7h2.4M124 210.7h2.4M234 210.7h2.4M238 210.7h2.4M70 214.7h2.4M74 214.7h2.4M92 214.7h2.4M98 214.7h2.4M124 214.7h2.4M130 214.7h2.4M204 214.7h2.4M232 214.7h2.4M324 214.7h6.4M64 218.7h8.4M94 218.7h4.4M124 218.7h2.4M232 218.7h2.4M268 218.7h2.4M324 218.7h4.4M62 222.7h2.4M92 222.7h4.4M124 222.7h2.4M128 222.7h2.4M142 222.7h2.4M232 222.7h2.4M140 226.7h2.4M202 226.7h2.4M232 226.7h4.4M292 226.7h2.4M94 230.7h20.4M122 230.7h2.4M126 230.7h2.4M134 230.7h2.4M270 230.7h2.4M300 230.7h4.4M92 234.7h2.4M104 234.7h4.4M114 234.7h10.4M134 234.7h2.4M268 234.7h2.4M104 238.7h2.4M114 238.7h8.4M296 238.7h4.4M102 242.7h4.4M116 242.7h6.4M124 242.7h2.4M292 242.7h2.4"/>
<path stroke="#d4d4d4" d="M260 50.7h6.4M270 50.7h2.4M276 50.7h2.4M312 50.7h2.4M276 54.7h2.4M334 54.7h2.4M172 62.7h2.4M274 62.7h2.4M314 62.7h2.4M274 66.7h2.4M170 70.7h2.4M292 70.7h2.4M298 70.7h2.4M306 70.7h2.4M268 74.7h2.4M298 74.7h2.4M334 74.7h2.4M170 78.7h2.4M254 78.7h2.4M268 78.7h2.4M298 78.7h2.4M96 82.7h2.4M266 82.7h2.4M298 82.7h6.4M310 82.7h2.4M160 86.7h2.4M256 86.7h2.4M292 86.7h2.4M296 86.7h6.4M94 90.7h2.4M134 90.7h2.4M244 90.7h4.4M256 90.7h2.4M262 90.7h2.4M296 90.7h2.4M98 94.7h2.4M240 94.7h2.4M294 94.7h6.4M138 98.7h4.4M248 98.7h2.4M294 98.7h2.4M300 98.7h2.4M306 98.7h2.4M92 102.7h2.4M118 102.7h2.4M144 102.7h2.4M168 102.7h2.4M256 102.7h2.4M292 102.7h2.4M56 106.7h2.4M118 106.7h2.4M228 106.7h4.4M292 106.7h2.4M322 106.7h2.4M114 110.7h2.4M152 110.7h2.4M286 110.7h2.4M290 110.7h2.4M322 110.7h2.4M58 114.7h2.4M136 114.7h2.4M142 114.7h2.4M152 114.7h2.4M300 114.7h2.4M70 118.7h2.4M112 118.7h2.4M136 118.7h2.4M142 118.7h4.4M150 118.7h2.4M228 118.7h2.4M56 122.7h2.4M60 122.7h4.4M96 122.7h2.4M112 122.7h2.4M128 122.7h2.4M138 122.7h4.4M160 122.7h2.4M224 122.7h4.4M230 122.7h2.4M290 122.7h2.4M304 122.7h2.4M320 122.7h2.4M48 126.7h2.4M62 126.7h2.4M112 126.7h2.4M242 126.7h2.4M282 126.7h2.4M286 126.7h4.4M302 126.7h2.4M312 126.7h2.4M46 130.7h2.4M58 130.7h2.4M118 130.7h2.4M130 130.7h2.4M282 130.7h2.4M154 134.7h2.4M272 134.7h4.4M286 134.7h4.4M324 134.7h2.4M114 138.7h2.4M126 138.7h4.4M152 138.7h2.4M270 138.7h2.4M274 138.7h2.4M280 138.7h2.4M324 138.7h2.4M58 142.7h2.4M78 142.7h2.4M128 142.7h2.4M150 142.7h2.4M306 142.7h2.4M312 142.7h4.4M84 146.7h2.4M228 146.7h2.4M300 146.7h2.4M326 146.7h2.4M74 150.7h2.4M82 150.7h2.4M92 150.7h2.4M122 150.7h2.4M148 150.7h2.4M288 150.7h2.4M302 150.7h2.4M318 150.7h2.4M78 154.7h2.4M82 154.7h2.4M114 154.7h2.4M120 154.7h2.4M262 154.7h2.4M276 154.7h2.4M298 154.7h2.4M304 154.7h2.4M72 158.7h2.4M78 158.7h2.4M86 158.7h2.4M90 158.7h2.4M116 158.7h2.4M254 158.7h2.4M304 158.7h2.4M72 162.7h2.4M86 162.7h2.4M126 162.7h2.4M146 162.7h2.4M252 162.7h4.4M306 162.7h2.4M84 166.7h4.4M146 166.7h2.4M226 166.7h2.4M254 166.7h2.4M278 166.7h2.4M284 166.7h2.4M108 170.7h2.4M250 170.7h2.4M54 174.7h2.4M80 174.7h2.4M106 174.7h2.4M124 174.7h2.4M74 178.7h2.4M92 178.7h2.4M104 178.7h2.4M124 178.7h2.4M248 178.7h2.4M252 178.7h2.4M124 182.7h2.4M218 182.7h2.4M248 182.7h2.4M252 182.7h4.4M142 186.7h4.4M216 186.7h2.4M224 186.7h2.4M252 186.7h4.4M274 186.7h2.4M72 190.7h2.4M142 190.7h2.4M214 190.7h2.4M220 190.7h2.4M246 190.7h2.4M252 190.7h2.4M272 190.7h2.4M72 194.7h2.4M80 194.7h4.4M100 194.7h2.4M142 194.7h4.4M252 194.7h2.4M272 194.7h2.4M46 198.7h2.4M74 198.7h2.4M78 198.7h2.4M88 198.7h2.4M122 198.7h2.4M244 198.7h2.4M46 202.7h2.4M88 202.7h2.4M122 202.7h2.4M140 202.7h2.4M224 202.7h2.4M244 202.7h2.4M250 202.7h2.4M46 206.7h2.4M66 206.7h2.4M88 206.7h2.4M98 206.7h2.4M124 206.7h2.4M132 206.7h2.4M146 206.7h2.4M222 206.7h2.4M236 206.7h2.4M244 206.7h2.4M272 206.7h2.4M94 210.7h2.4M98 210.7h2.4M232 210.7h2.4M324 210.7h6.4M64 214.7h2.4M90 214.7h2.4M94 214.7h4.4M274 214.7h2.4M62 218.7h2.4M72 218.7h4.4M78 218.7h2.4M92 218.7h2.4M136 218.7h2.4M322 218.7h2.4M328 218.7h2.4M64 222.7h4.4M74 222.7h2.4M294 222.7h2.4M322 222.7h2.4M60 226.7h4.4M74 226.7h2.4M124 226.7h2.4M296 226.7h2.4M302 226.7h2.4M58 230.7h4.4M90 230.7h2.4M124 230.7h2.4M232 230.7h2.4M266 230.7h2.4M290 230.7h2.4M296 230.7h2.4M58 234.7h2.4M90 234.7h2.4M94 234.7h10.4M108 234.7h6.4M124 234.7h2.4M290 234.7h2.4M296 234.7h4.4M90 238.7h4.4M100 238.7h4.4M106 238.7h2.4M110 238.7h4.4M122 238.7h4.4M300 238.7h2.4M100 242.7h2.4M110 242.7h6.4M122 242.7h2.4M200 242.7h2.4M298 242.7h2.4"/>
<path stroke="#d9d9d9" d="M278 50.7h2.4M296 50.7h2.4M334 50.7h2.4M74 54.7h2.4M310 54.7h2.4M72 58.7h2.4M274 58.7h4.4M72 62.7h2.4M276 62.7h2.4M308 62.7h2.4M64 66.7h2.4M272 66.7h2.4M64 70.7h2.4M270 70.7h6.4M62 74.7h2.4M176 74.7h2.4M270 74.7h4.4M304 74.7h2.4M312 74.7h2.4M332 74.7h2.4M62 78.7h2.4M290 78.7h4.4M302 78.7h2.4M98 82.7h2.4M146 82.7h2.4M170 82.7h2.4M254 82.7h2.4M268 82.7h2.4M292 82.7h2.4M94 86.7h2.4M136 86.7h2.4M144 86.7h4.4M156 86.7h2.4M252 86.7h2.4M264 86.7h4.4M138 90.7h2.4M308 90.7h2.4M132 94.7h2.4M138 94.7h2.4M158 94.7h2.4M290 94.7h2.4M98 98.7h2.4M170 98.7h4.4M296 98.7h2.4M98 102.7h2.4M288 102.7h2.4M294 102.7h2.4M300 102.7h2.4M60 106.7h2.4M98 106.7h2.4M130 106.7h2.4M144 106.7h2.4M166 106.7h2.4M246 106.7h2.4M256 106.7h2.4M228 110.7h2.4M242 110.7h2.4M292 110.7h2.4M328 110.7h2.4M52 114.7h2.4M70 114.7h4.4M144 114.7h2.4M226 114.7h4.4M306 114.7h2.4M328 114.7h2.4M58 118.7h2.4M62 118.7h4.4M68 118.7h2.4M80 118.7h2.4M88 118.7h2.4M128 118.7h2.4M160 118.7h2.4M240 118.7h2.4M244 118.7h2.4M314 118.7h2.4M64 122.7h2.4M68 122.7h4.4M78 122.7h2.4M134 122.7h4.4M142 122.7h4.4M148 122.7h2.4M58 126.7h2.4M68 126.7h2.4M78 126.7h2.4M96 126.7h2.4M118 126.7h2.4M132 126.7h2.4M138 126.7h12.4M158 126.7h2.4M300 126.7h2.4M62 130.7h2.4M84 130.7h2.4M96 130.7h4.4M110 130.7h2.4M144 130.7h4.4M156 130.7h2.4M238 130.7h2.4M284 130.7h6.4M324 130.7h2.4M44 134.7h2.4M52 134.7h2.4M82 134.7h2.4M94 134.7h4.4M110 134.7h2.4M118 134.7h2.4M126 134.7h2.4M144 134.7h4.4M240 134.7h2.4M280 134.7h6.4M314 134.7h2.4M322 134.7h2.4M56 138.7h2.4M60 138.7h2.4M80 138.7h2.4M92 138.7h6.4M112 138.7h2.4M116 138.7h2.4M306 138.7h2.4M312 138.7h2.4M318 138.7h2.4M328 138.7h2.4M56 142.7h2.4M90 142.7h6.4M278 142.7h2.4M302 142.7h4.4M324 142.7h6.4M86 146.7h2.4M90 146.7h2.4M128 146.7h2.4M148 146.7h2.4M304 146.7h2.4M312 146.7h6.4M324 146.7h2.4M44 150.7h2.4M84 150.7h6.4M114 150.7h2.4M128 150.7h2.4M146 150.7h2.4M228 150.7h2.4M304 150.7h2.4M324 150.7h4.4M84 154.7h4.4M146 154.7h2.4M302 154.7h2.4M320 154.7h2.4M324 154.7h2.4M76 158.7h2.4M146 158.7h2.4M300 158.7h2.4M308 158.7h2.4M74 162.7h4.4M110 162.7h2.4M258 162.7h2.4M298 162.7h2.4M72 166.7h2.4M88 166.7h2.4M126 166.7h2.4M274 166.7h4.4M54 170.7h2.4M74 170.7h2.4M144 170.7h2.4M254 170.7h4.4M266 170.7h2.4M274 170.7h2.4M278 170.7h4.4M94 174.7h2.4M144 174.7h2.4M254 174.7h2.4M54 178.7h2.4M78 178.7h2.4M144 178.7h2.4M254 178.7h2.4M262 178.7h2.4M72 182.7h4.4M142 182.7h4.4M224 182.7h4.4M262 182.7h2.4M274 182.7h2.4M48 186.7h2.4M52 186.7h2.4M72 186.7h2.4M96 186.7h2.4M124 186.7h2.4M140 186.7h2.4M218 186.7h2.4M246 186.7h2.4M256 186.7h2.4M70 190.7h2.4M82 190.7h2.4M138 190.7h2.4M222 190.7h2.4M254 190.7h2.4M274 190.7h2.4M50 194.7h2.4M88 194.7h2.4M136 194.7h2.4M244 194.7h2.4M68 198.7h2.4M76 198.7h2.4M142 198.7h4.4M212 198.7h2.4M300 198.7h2.4M98 202.7h2.4M124 202.7h2.4M210 202.7h2.4M234 202.7h10.4M274 202.7h2.4M208 206.7h2.4M220 206.7h2.4M240 206.7h2.4M88 210.7h2.4M96 210.7h2.4M126 210.7h2.4M138 210.7h2.4M206 210.7h2.4M244 210.7h4.4M270 210.7h2.4M330 210.7h2.4M126 214.7h2.4M144 214.7h2.4M238 214.7h2.4M322 214.7h2.4M330 214.7h2.4M126 218.7h4.4M230 218.7h2.4M296 218.7h2.4M60 222.7h2.4M68 222.7h4.4M126 222.7h2.4M136 222.7h2.4M230 222.7h2.4M236 222.7h2.4M296 222.7h2.4M324 222.7h4.4M58 226.7h2.4M64 226.7h2.4M76 226.7h2.4M90 226.7h2.4M126 226.7h2.4M230 226.7h2.4M266 226.7h2.4M136 230.7h2.4M202 230.7h2.4M230 230.7h2.4M256 230.7h2.4M60 234.7h2.4M236 234.7h2.4M256 234.7h2.4M266 234.7h2.4M302 234.7h2.4M52 238.7h2.4M58 238.7h2.4M94 238.7h2.4M98 238.7h2.4M108 238.7h2.4M254 238.7h4.4M90 242.7h4.4M98 242.7h2.4M106 242.7h4.4M254 242.7h2.4"/>
<path stroke="#dedede" d="M68 50.7h2.4M74 50.7h2.4M324 50.7h2.4M72 54.7h2.4M270 54.7h2.4M66 58.7h2.4M74 58.7h2.4M64 62.7h4.4M270 62.7h4.4M72 66.7h2.4M170 66.7h2.4M270 66.7h2.4M306 66.7h2.4M62 70.7h2.4M70 70.7h2.4M304 70.7h2.4M332 70.7h2.4M64 74.7h2.4M148 74.7h2.4M162 74.7h2.4M274 74.7h2.4M290 74.7h2.4M302 74.7h2.4M96 78.7h2.4M146 78.7h2.4M162 78.7h2.4M174 78.7h2.4M270 78.7h4.4M300 78.7h2.4M332 78.7h2.4M62 82.7h2.4M94 82.7h2.4M136 82.7h2.4M172 82.7h2.4M288 82.7h2.4M134 86.7h2.4M138 86.7h2.4M170 86.7h2.4M176 86.7h2.4M254 86.7h2.4M276 86.7h2.4M142 90.7h2.4M146 90.7h2.4M140 94.7h2.4M154 94.7h2.4M174 94.7h2.4M242 94.7h2.4M92 98.7h2.4M118 98.7h2.4M168 98.7h2.4M298 98.7h2.4M58 102.7h4.4M116 102.7h2.4M130 102.7h2.4M156 102.7h2.4M254 102.7h2.4M258 102.7h2.4M322 102.7h2.4M152 106.7h2.4M254 106.7h2.4M314 106.7h2.4M328 106.7h4.4M72 110.7h2.4M90 110.7h2.4M118 110.7h2.4M144 110.7h2.4M164 110.7h2.4M254 110.7h2.4M300 110.7h2.4M306 110.7h2.4M330 110.7h2.4M66 114.7h4.4M80 114.7h2.4M112 114.7h2.4M146 114.7h2.4M150 114.7h2.4M162 114.7h2.4M292 114.7h2.4M318 114.7h2.4M60 118.7h2.4M66 118.7h2.4M146 118.7h2.4M226 118.7h2.4M306 118.7h2.4M310 118.7h2.4M326 118.7h4.4M58 122.7h2.4M98 122.7h4.4M110 122.7h2.4M146 122.7h2.4M150 122.7h2.4M158 122.7h2.4M316 122.7h2.4M326 122.7h2.4M56 126.7h2.4M98 126.7h4.4M110 126.7h2.4M134 126.7h4.4M230 126.7h2.4M238 126.7h2.4M290 126.7h2.4M308 126.7h2.4M320 126.7h2.4M68 130.7h2.4M100 130.7h2.4M126 130.7h2.4M136 130.7h8.4M148 130.7h2.4M230 130.7h2.4M274 130.7h2.4M302 130.7h2.4M56 134.7h2.4M98 134.7h2.4M130 134.7h2.4M230 134.7h2.4M238 134.7h2.4M144 138.7h4.4M150 138.7h2.4M230 138.7h2.4M240 138.7h2.4M50 142.7h2.4M76 142.7h2.4M114 142.7h4.4M124 142.7h2.4M144 142.7h6.4M230 142.7h2.4M268 142.7h2.4M56 146.7h4.4M88 146.7h2.4M144 146.7h4.4M318 146.7h2.4M48 150.7h2.4M116 150.7h2.4M264 150.7h2.4M272 150.7h2.4M276 150.7h2.4M322 150.7h2.4M44 154.7h2.4M112 154.7h2.4M116 154.7h2.4M128 154.7h2.4M228 154.7h2.4M254 154.7h4.4M260 154.7h2.4M44 158.7h2.4M128 158.7h2.4M144 158.7h2.4M256 158.7h2.4M302 158.7h2.4M318 158.7h2.4M322 158.7h4.4M44 162.7h2.4M144 162.7h2.4M256 162.7h2.4M286 162.7h2.4M296 162.7h2.4M304 162.7h2.4M322 162.7h2.4M56 166.7h2.4M64 166.7h2.4M74 166.7h2.4M144 166.7h2.4M250 166.7h2.4M256 166.7h2.4M296 166.7h2.4M320 166.7h4.4M64 170.7h2.4M84 170.7h4.4M98 170.7h2.4M126 170.7h2.4M142 170.7h2.4M226 170.7h2.4M282 170.7h4.4M320 170.7h2.4M52 174.7h2.4M62 174.7h2.4M98 174.7h2.4M126 174.7h2.4M138 174.7h2.4M142 174.7h2.4M248 174.7h2.4M274 174.7h2.4M278 174.7h2.4M284 174.7h2.4M318 174.7h4.4M72 178.7h2.4M126 178.7h2.4M138 178.7h2.4M142 178.7h2.4M264 178.7h2.4M272 178.7h6.4M282 178.7h2.4M318 178.7h2.4M90 182.7h2.4M228 182.7h2.4M260 182.7h2.4M276 182.7h2.4M282 182.7h2.4M74 186.7h2.4M84 186.7h2.4M138 186.7h2.4M228 186.7h2.4M272 186.7h2.4M288 186.7h2.4M74 190.7h2.4M96 190.7h2.4M124 190.7h2.4M136 190.7h2.4M216 190.7h4.4M286 190.7h2.4M324 190.7h2.4M46 194.7h2.4M74 194.7h2.4M96 194.7h2.4M124 194.7h2.4M214 194.7h2.4M220 194.7h2.4M286 194.7h2.4M324 194.7h2.4M82 198.7h2.4M96 198.7h4.4M124 198.7h2.4M134 198.7h2.4M226 198.7h2.4M236 198.7h2.4M242 198.7h2.4M252 198.7h2.4M270 198.7h4.4M276 198.7h2.4M298 198.7h2.4M324 198.7h2.4M48 202.7h2.4M96 202.7h2.4M126 202.7h2.4M144 202.7h2.4M220 202.7h2.4M270 202.7h4.4M276 202.7h2.4M298 202.7h4.4M44 206.7h2.4M86 206.7h2.4M96 206.7h2.4M126 206.7h2.4M232 206.7h2.4M270 206.7h2.4M322 206.7h4.4M328 206.7h6.4M44 210.7h4.4M64 210.7h2.4M80 210.7h2.4M86 210.7h2.4M130 210.7h2.4M144 210.7h2.4M220 210.7h2.4M248 210.7h2.4M322 210.7h2.4M44 214.7h2.4M62 214.7h2.4M88 214.7h2.4M228 214.7h4.4M268 214.7h2.4M44 218.7h2.4M60 218.7h2.4M90 218.7h2.4M142 218.7h2.4M204 218.7h2.4M294 218.7h2.4M320 218.7h2.4M44 222.7h2.4M90 222.7h2.4M140 222.7h2.4M266 222.7h2.4M292 222.7h2.4M304 222.7h2.4M320 222.7h2.4M328 222.7h2.4M54 226.7h4.4M66 226.7h2.4M136 226.7h4.4M236 226.7h2.4M256 226.7h2.4M272 226.7h2.4M304 226.7h2.4M322 226.7h6.4M46 230.7h2.4M52 230.7h6.4M62 230.7h2.4M74 230.7h2.4M234 230.7h4.4M46 234.7h2.4M52 234.7h6.4M202 234.7h2.4M230 234.7h2.4M254 234.7h2.4M270 234.7h2.4M46 238.7h2.4M54 238.7h4.4M88 238.7h2.4M96 238.7h2.4M228 238.7h2.4M234 238.7h4.4M266 238.7h4.4M290 238.7h2.4M50 242.7h4.4M56 242.7h2.4M88 242.7h2.4M94 242.7h2.4M226 242.7h2.4M234 242.7h2.4M256 242.7h2.4M270 242.7h2.4"/>
<path stroke="#e4e4e4" d="M76 50.7h2.4M300 50.7h2.4M310 50.7h2.4M66 54.7h4.4M144 54.7h2.4M274 54.7h2.4M278 54.7h2.4M300 54.7h2.4M324 54.7h2.4M144 58.7h2.4M172 58.7h2.4M270 58.7h2.4M294 58.7h2.4M300 58.7h2.4M308 58.7h2.4M322 58.7h2.4M70 62.7h2.4M306 62.7h2.4M322 62.7h2.4M62 66.7h2.4M66 66.7h2.4M70 66.7h2.4M276 66.7h2.4M322 66.7h2.4M72 70.7h2.4M148 70.7h2.4M70 74.7h2.4M96 74.7h2.4M160 74.7h2.4M168 74.7h2.4M300 74.7h2.4M64 78.7h2.4M98 78.7h2.4M134 78.7h2.4M148 78.7h2.4M158 78.7h2.4M176 78.7h2.4M278 78.7h2.4M288 78.7h2.4M320 78.7h2.4M134 82.7h2.4M138 82.7h2.4M176 82.7h2.4M270 82.7h2.4M276 82.7h4.4M286 82.7h2.4M290 82.7h2.4M320 82.7h2.4M268 86.7h2.4M286 86.7h2.4M318 86.7h2.4M92 90.7h2.4M132 90.7h2.4M170 90.7h2.4M254 90.7h2.4M264 90.7h4.4M274 90.7h4.4M318 90.7h2.4M92 94.7h2.4M146 94.7h2.4M168 94.7h6.4M244 94.7h2.4M250 94.7h2.4M254 94.7h2.4M274 94.7h2.4M120 98.7h2.4M238 98.7h2.4M244 98.7h2.4M254 98.7h2.4M260 98.7h2.4M316 98.7h2.4M324 98.7h2.4M166 102.7h2.4M236 102.7h2.4M296 102.7h2.4M306 102.7h2.4M316 102.7h2.4M324 102.7h2.4M330 102.7h4.4M68 106.7h2.4M72 106.7h2.4M82 106.7h2.4M114 106.7h2.4M294 106.7h2.4M300 106.7h2.4M306 106.7h2.4M316 106.7h2.4M332 106.7h2.4M60 110.7h2.4M66 110.7h6.4M82 110.7h2.4M146 110.7h2.4M154 110.7h2.4M60 114.7h6.4M118 114.7h2.4M128 114.7h2.4M322 114.7h2.4M326 114.7h2.4M50 118.7h2.4M72 118.7h2.4M78 118.7h2.4M98 118.7h8.4M108 118.7h4.4M118 118.7h2.4M148 118.7h2.4M152 118.7h2.4M66 122.7h2.4M80 122.7h2.4M86 122.7h2.4M102 122.7h2.4M118 122.7h2.4M282 122.7h2.4M64 126.7h4.4M70 126.7h2.4M102 126.7h2.4M126 126.7h2.4M156 126.7h2.4M304 126.7h2.4M324 126.7h4.4M54 130.7h4.4M66 130.7h2.4M76 130.7h4.4M120 130.7h2.4M132 130.7h4.4M154 130.7h2.4M242 130.7h2.4M280 130.7h2.4M290 130.7h2.4M300 130.7h2.4M312 130.7h4.4M320 130.7h2.4M76 134.7h2.4M108 134.7h2.4M134 134.7h10.4M148 134.7h2.4M152 134.7h2.4M302 134.7h2.4M306 134.7h2.4M312 134.7h2.4M328 134.7h4.4M76 138.7h4.4M110 138.7h2.4M118 138.7h2.4M130 138.7h2.4M142 138.7h2.4M148 138.7h2.4M238 138.7h2.4M302 138.7h4.4M320 138.7h2.4M326 138.7h2.4M130 142.7h2.4M142 142.7h2.4M238 142.7h2.4M274 142.7h2.4M300 142.7h2.4M318 142.7h2.4M74 146.7h2.4M94 146.7h2.4M114 146.7h4.4M122 146.7h2.4M130 146.7h2.4M142 146.7h2.4M230 146.7h2.4M238 146.7h2.4M266 146.7h2.4M328 146.7h2.4M142 150.7h4.4M256 150.7h2.4M262 150.7h2.4M298 150.7h2.4M314 150.7h4.4M72 154.7h2.4M118 154.7h2.4M130 154.7h4.4M142 154.7h4.4M258 154.7h2.4M316 154.7h2.4M322 154.7h2.4M326 154.7h2.4M46 158.7h2.4M130 158.7h4.4M142 158.7h2.4M228 158.7h2.4M252 158.7h2.4M258 158.7h2.4M270 158.7h2.4M316 158.7h2.4M56 162.7h2.4M66 162.7h2.4M90 162.7h2.4M128 162.7h4.4M140 162.7h4.4M274 162.7h2.4M300 162.7h4.4M324 162.7h2.4M66 166.7h2.4M70 166.7h2.4M108 166.7h2.4M128 166.7h4.4M140 166.7h4.4M298 166.7h2.4M304 166.7h2.4M56 170.7h2.4M70 170.7h4.4M88 170.7h2.4M96 170.7h2.4M128 170.7h2.4M138 170.7h4.4M276 170.7h2.4M322 170.7h2.4M64 174.7h2.4M72 174.7h2.4M82 174.7h2.4M86 174.7h2.4M128 174.7h2.4M140 174.7h2.4M272 174.7h2.4M276 174.7h2.4M282 174.7h2.4M50 178.7h2.4M62 178.7h2.4M86 178.7h2.4M136 178.7h2.4M140 178.7h2.4M284 178.7h2.4M320 178.7h2.4M62 182.7h2.4M76 182.7h2.4M84 182.7h2.4M102 182.7h2.4M126 182.7h2.4M136 182.7h6.4M246 182.7h2.4M272 182.7h2.4M288 182.7h2.4M316 182.7h4.4M326 182.7h2.4M70 186.7h2.4M82 186.7h2.4M136 186.7h2.4M258 186.7h4.4M280 186.7h2.4M324 186.7h4.4M80 190.7h2.4M84 190.7h2.4M88 190.7h2.4M100 190.7h2.4M244 190.7h2.4M260 190.7h2.4M326 190.7h2.4M68 194.7h2.4M76 194.7h4.4M134 194.7h2.4M218 194.7h2.4M274 194.7h2.4M278 194.7h2.4M300 194.7h4.4M126 198.7h2.4M220 198.7h2.4M238 198.7h4.4M274 198.7h2.4M286 198.7h2.4M302 198.7h2.4M322 198.7h2.4M334 198.7h2.4M66 202.7h2.4M86 202.7h2.4M132 202.7h2.4M142 202.7h2.4M212 202.7h2.4M284 202.7h2.4M322 202.7h4.4M332 202.7h4.4M64 206.7h2.4M140 206.7h2.4M144 206.7h2.4M210 206.7h2.4M224 206.7h2.4M230 206.7h2.4M242 206.7h2.4M250 206.7h2.4M298 206.7h2.4M326 206.7h2.4M62 210.7h2.4M128 210.7h2.4M208 210.7h2.4M218 210.7h2.4M222 210.7h2.4M228 210.7h4.4M254 210.7h2.4M298 210.7h2.4M332 210.7h2.4M46 214.7h2.4M56 214.7h2.4M60 214.7h2.4M86 214.7h2.4M128 214.7h2.4M138 214.7h2.4M206 214.7h2.4M218 214.7h4.4M244 214.7h4.4M252 214.7h4.4M296 214.7h2.4M320 214.7h2.4M46 218.7h2.4M56 218.7h4.4M86 218.7h4.4M218 218.7h2.4M228 218.7h2.4M252 218.7h2.4M304 218.7h2.4M46 222.7h4.4M54 222.7h6.4M72 222.7h2.4M78 222.7h2.4M204 222.7h2.4M228 222.7h2.4M250 222.7h2.4M288 222.7h2.4M302 222.7h2.4M44 226.7h6.4M52 226.7h2.4M68 226.7h2.4M204 226.7h2.4M216 226.7h2.4M228 226.7h2.4M290 226.7h2.4M320 226.7h2.4M44 230.7h2.4M48 230.7h2.4M64 230.7h2.4M76 230.7h2.4M88 230.7h2.4M228 230.7h2.4M238 230.7h2.4M254 230.7h2.4M298 230.7h2.4M322 230.7h4.4M44 234.7h2.4M48 234.7h4.4M62 234.7h2.4M74 234.7h2.4M88 234.7h2.4M214 234.7h2.4M228 234.7h2.4M232 234.7h4.4M44 238.7h2.4M50 238.7h2.4M60 238.7h2.4M202 238.7h2.4M214 238.7h2.4M226 238.7h2.4M270 238.7h2.4M44 242.7h4.4M54 242.7h2.4M58 242.7h2.4M78 242.7h6.4M96 242.7h2.4M268 242.7h2.4M290 242.7h2.4M330 242.7h2.4"/>
<path stroke="#e9e9e9" d="M70 50.7h4.4M144 50.7h4.4M170 50.7h2.4M176 50.7h2.4M274 50.7h2.4M308 50.7h2.4M316 50.7h2.4M76 54.7h2.4M142 54.7h2.4M174 54.7h2.4M308 54.7h2.4M64 58.7h2.4M68 58.7h4.4M142 58.7h2.4M272 58.7h2.4M306 58.7h2.4M74 62.7h2.4M142 62.7h2.4M150 62.7h2.4M170 62.7h2.4M300 62.7h2.4M132 66.7h2.4M142 66.7h2.4M150 66.7h2.4M292 66.7h2.4M304 66.7h2.4M320 66.7h2.4M332 66.7h2.4M60 70.7h2.4M66 70.7h2.4M132 70.7h4.4M162 70.7h2.4M168 70.7h2.4M276 70.7h2.4M300 70.7h4.4M320 70.7h4.4M60 74.7h2.4M68 74.7h2.4M98 74.7h2.4M132 74.7h6.4M278 74.7h2.4M320 74.7h4.4M60 78.7h2.4M68 78.7h4.4M94 78.7h2.4M132 78.7h2.4M136 78.7h4.4M168 78.7h2.4M274 78.7h4.4M286 78.7h2.4M334 78.7h2.4M60 82.7h2.4M68 82.7h2.4M100 82.7h2.4M132 82.7h2.4M144 82.7h2.4M162 82.7h2.4M168 82.7h2.4M174 82.7h2.4M272 82.7h4.4M318 82.7h2.4M332 82.7h2.4M60 86.7h4.4M92 86.7h2.4M132 86.7h2.4M172 86.7h2.4M270 86.7h2.4M274 86.7h2.4M288 86.7h2.4M60 90.7h2.4M140 90.7h2.4M160 90.7h2.4M168 90.7h2.4M172 90.7h4.4M252 90.7h2.4M268 90.7h2.4M290 90.7h2.4M108 94.7h2.4M120 94.7h2.4M262 94.7h6.4M316 94.7h2.4M60 98.7h4.4M84 98.7h2.4M106 98.7h4.4M130 98.7h2.4M146 98.7h2.4M166 98.7h2.4M240 98.7h2.4M264 98.7h2.4M274 98.7h2.4M330 98.7h6.4M56 102.7h2.4M68 102.7h4.4M82 102.7h4.4M106 102.7h2.4M120 102.7h2.4M146 102.7h2.4M152 102.7h2.4M248 102.7h2.4M298 102.7h2.4M328 102.7h2.4M334 102.7h2.4M54 106.7h2.4M66 106.7h2.4M70 106.7h2.4M74 106.7h2.4M106 106.7h2.4M146 106.7h2.4M164 106.7h2.4M320 106.7h2.4M64 110.7h2.4M74 110.7h2.4M80 110.7h2.4M98 110.7h2.4M104 110.7h2.4M246 110.7h2.4M252 110.7h2.4M256 110.7h2.4M308 110.7h2.4M312 110.7h2.4M316 110.7h2.4M326 110.7h2.4M82 114.7h2.4M98 114.7h2.4M102 114.7h4.4M110 114.7h2.4M148 114.7h2.4M160 114.7h2.4M252 114.7h4.4M330 114.7h2.4M158 118.7h2.4M232 118.7h2.4M292 118.7h2.4M104 122.7h2.4M108 122.7h2.4M244 122.7h2.4M314 122.7h2.4M324 122.7h2.4M76 126.7h2.4M84 126.7h2.4M108 126.7h2.4M120 126.7h2.4M150 126.7h2.4M108 130.7h2.4M322 130.7h2.4M326 130.7h2.4M330 130.7h2.4M62 134.7h2.4M66 134.7h4.4M78 134.7h4.4M100 134.7h2.4M120 134.7h2.4M132 134.7h2.4M150 134.7h2.4M290 134.7h2.4M320 134.7h2.4M326 134.7h2.4M98 138.7h2.4M108 138.7h2.4M124 138.7h2.4M132 138.7h10.4M278 138.7h2.4M290 138.7h2.4M54 142.7h2.4M60 142.7h2.4M74 142.7h2.4M96 142.7h2.4M112 142.7h2.4M118 142.7h2.4M132 142.7h10.4M240 142.7h2.4M54 146.7h2.4M132 146.7h4.4M140 146.7h2.4M56 150.7h4.4M120 150.7h2.4M130 150.7h6.4M140 150.7h2.4M238 150.7h2.4M258 150.7h4.4M334 150.7h2.4M92 154.7h2.4M140 154.7h2.4M310 154.7h2.4M314 154.7h2.4M334 154.7h2.4M66 158.7h2.4M110 158.7h2.4M140 158.7h2.4M296 158.7h2.4M320 158.7h2.4M64 162.7h2.4M70 162.7h2.4M132 162.7h2.4M320 162.7h2.4M54 166.7h2.4M100 166.7h2.4M138 166.7h2.4M300 166.7h4.4M306 166.7h2.4M62 170.7h2.4M66 170.7h2.4M106 170.7h2.4M130 170.7h2.4M296 170.7h2.4M318 170.7h2.4M56 174.7h2.4M70 174.7h2.4M84 174.7h2.4M88 174.7h2.4M92 174.7h2.4M136 174.7h2.4M226 174.7h2.4M322 174.7h2.4M326 174.7h2.4M64 178.7h2.4M70 178.7h2.4M84 178.7h2.4M128 178.7h2.4M226 178.7h4.4M288 178.7h2.4M316 178.7h2.4M322 178.7h2.4M326 178.7h2.4M54 182.7h2.4M60 182.7h2.4M70 182.7h2.4M86 182.7h2.4M280 182.7h2.4M320 182.7h2.4M324 182.7h2.4M60 186.7h4.4M76 186.7h2.4M126 186.7h2.4M262 186.7h2.4M286 186.7h2.4M316 186.7h4.4M46 190.7h2.4M52 190.7h2.4M60 190.7h4.4M68 190.7h2.4M76 190.7h2.4M126 190.7h2.4M134 190.7h2.4M228 190.7h2.4M256 190.7h4.4M278 190.7h4.4M288 190.7h2.4M58 194.7h6.4M98 194.7h2.4M126 194.7h2.4M216 194.7h2.4M236 194.7h4.4M242 194.7h2.4M254 194.7h2.4M258 194.7h2.4M270 194.7h2.4M276 194.7h2.4M322 194.7h2.4M326 194.7h2.4M334 194.7h2.4M50 198.7h2.4M58 198.7h6.4M66 198.7h2.4M86 198.7h2.4M128 198.7h2.4M214 198.7h2.4M218 198.7h2.4M234 198.7h2.4M258 198.7h2.4M44 202.7h2.4M56 202.7h10.4M82 202.7h2.4M128 202.7h2.4M226 202.7h2.4M230 202.7h4.4M252 202.7h2.4M256 202.7h2.4M326 202.7h2.4M330 202.7h2.4M48 206.7h2.4M56 206.7h8.4M128 206.7h4.4M218 206.7h2.4M228 206.7h2.4M254 206.7h4.4M276 206.7h2.4M284 206.7h2.4M320 206.7h2.4M334 206.7h2.4M54 210.7h8.4M84 210.7h2.4M240 210.7h4.4M268 210.7h2.4M284 210.7h2.4M320 210.7h2.4M54 214.7h2.4M58 214.7h2.4M80 214.7h2.4M84 214.7h2.4M142 214.7h2.4M208 214.7h2.4M226 214.7h2.4M248 214.7h2.4M298 214.7h2.4M48 218.7h8.4M84 218.7h2.4M206 218.7h4.4M216 218.7h2.4M226 218.7h2.4M238 218.7h2.4M250 218.7h2.4M266 218.7h2.4M274 218.7h2.4M288 218.7h6.4M306 218.7h2.4M314 218.7h2.4M330 218.7h2.4M50 222.7h4.4M84 222.7h6.4M138 222.7h2.4M206 222.7h2.4M216 222.7h4.4M226 222.7h2.4M256 222.7h2.4M290 222.7h2.4M312 222.7h2.4M318 222.7h2.4M50 226.7h2.4M70 226.7h4.4M78 226.7h2.4M82 226.7h4.4M88 226.7h2.4M206 226.7h2.4M238 226.7h2.4M248 226.7h2.4M258 226.7h2.4M286 226.7h4.4M300 226.7h2.4M312 226.7h2.4M318 226.7h2.4M328 226.7h2.4M50 230.7h2.4M66 230.7h2.4M72 230.7h2.4M80 230.7h6.4M204 230.7h2.4M214 230.7h4.4M258 230.7h2.4M286 230.7h4.4M304 230.7h2.4M320 230.7h2.4M326 230.7h2.4M64 234.7h2.4M72 234.7h2.4M76 234.7h8.4M204 234.7h2.4M226 234.7h2.4M238 234.7h2.4M284 234.7h2.4M322 234.7h4.4M48 238.7h2.4M62 238.7h2.4M72 238.7h12.4M86 238.7h2.4M230 238.7h2.4M48 242.7h2.4M60 242.7h2.4M70 242.7h8.4M84 242.7h4.4M212 242.7h2.4M224 242.7h2.4M228 242.7h2.4M236 242.7h2.4M266 242.7h2.4M272 242.7h2.4M300 242.7h2.4M328 242.7h2.4"/>
<path stroke="#efefef" d="M66 50.7h2.4M94 50.7h2.4M142 50.7h2.4M152 50.7h2.4M158 50.7h2.4M172 50.7h2.4M272 50.7h2.4M332 50.7h2.4M70 54.7h2.4M140 54.7h2.4M146 54.7h2.4M152 54.7h2.4M158 54.7h2.4M170 54.7h4.4M272 54.7h2.4M322 54.7h2.4M140 58.7h2.4M150 58.7h4.4M170 58.7h2.4M278 58.7h2.4M324 58.7h2.4M62 62.7h2.4M68 62.7h2.4M122 62.7h2.4M134 62.7h2.4M138 62.7h4.4M144 62.7h2.4M68 66.7h2.4M74 66.7h2.4M134 66.7h8.4M148 66.7h2.4M168 66.7h2.4M300 66.7h2.4M314 66.7h2.4M68 70.7h2.4M96 70.7h4.4M130 70.7h2.4M136 70.7h8.4M150 70.7h2.4M164 70.7h2.4M280 70.7h2.4M290 70.7h2.4M66 74.7h2.4M72 74.7h2.4M88 74.7h2.4M130 74.7h2.4M138 74.7h4.4M146 74.7h2.4M164 74.7h4.4M276 74.7h2.4M280 74.7h2.4M286 74.7h4.4M86 78.7h2.4M100 78.7h2.4M130 78.7h2.4M140 78.7h2.4M166 78.7h2.4M280 78.7h2.4M312 78.7h2.4M318 78.7h2.4M330 78.7h2.4M64 82.7h2.4M70 82.7h2.4M84 82.7h4.4M130 82.7h2.4M148 82.7h2.4M156 82.7h2.4M284 82.7h2.4M330 82.7h2.4M66 86.7h4.4M82 86.7h6.4M100 86.7h2.4M168 86.7h2.4M174 86.7h2.4M272 86.7h2.4M278 86.7h2.4M284 86.7h2.4M290 86.7h2.4M330 86.7h2.4M62 90.7h2.4M82 90.7h6.4M108 90.7h4.4M130 90.7h2.4M154 90.7h2.4M270 90.7h4.4M284 90.7h4.4M316 90.7h2.4M326 90.7h2.4M60 94.7h4.4M70 94.7h2.4M80 94.7h2.4M84 94.7h8.4M106 94.7h2.4M118 94.7h2.4M130 94.7h2.4M252 94.7h2.4M272 94.7h2.4M318 94.7h2.4M324 94.7h4.4M330 94.7h2.4M334 94.7h2.4M58 98.7h2.4M68 98.7h4.4M86 98.7h2.4M158 98.7h2.4M242 98.7h2.4M262 98.7h2.4M272 98.7h2.4M288 98.7h2.4M62 102.7h2.4M66 102.7h2.4M72 102.7h6.4M108 102.7h2.4M252 102.7h2.4M264 102.7h2.4M272 102.7h2.4M62 106.7h2.4M76 106.7h2.4M84 106.7h2.4M90 106.7h2.4M104 106.7h2.4M242 106.7h2.4M252 106.7h2.4M258 106.7h2.4M308 106.7h2.4M324 106.7h2.4M334 106.7h2.4M52 110.7h2.4M62 110.7h2.4M106 110.7h2.4M110 110.7h4.4M128 110.7h2.4M148 110.7h4.4M162 110.7h2.4M234 110.7h2.4M332 110.7h2.4M74 114.7h2.4M88 114.7h2.4M100 114.7h2.4M106 114.7h4.4M246 114.7h2.4M284 114.7h2.4M106 118.7h2.4M250 118.7h4.4M316 118.7h2.4M322 118.7h4.4M48 122.7h2.4M72 122.7h2.4M76 122.7h2.4M106 122.7h2.4M126 122.7h2.4M156 122.7h2.4M238 122.7h2.4M250 122.7h2.4M292 122.7h2.4M322 122.7h2.4M328 122.7h2.4M80 126.7h2.4M104 126.7h4.4M274 126.7h2.4M298 126.7h2.4M314 126.7h2.4M322 126.7h2.4M330 126.7h2.4M44 130.7h2.4M64 130.7h2.4M82 130.7h2.4M102 130.7h2.4M150 130.7h2.4M232 130.7h2.4M272 130.7h2.4M276 130.7h2.4M328 130.7h2.4M54 134.7h2.4M124 134.7h2.4M232 134.7h2.4M236 134.7h2.4M276 134.7h2.4M300 134.7h2.4M52 138.7h4.4M66 138.7h2.4M74 138.7h2.4M232 138.7h2.4M236 138.7h2.4M300 138.7h2.4M330 138.7h2.4M108 142.7h2.4M232 142.7h2.4M290 142.7h2.4M50 146.7h2.4M106 146.7h2.4M118 146.7h2.4M136 146.7h4.4M244 146.7h2.4M256 146.7h8.4M276 146.7h2.4M54 150.7h2.4M72 150.7h2.4M112 150.7h2.4M118 150.7h2.4M230 150.7h2.4M254 150.7h2.4M312 150.7h2.4M328 150.7h2.4M56 154.7h4.4M70 154.7h2.4M104 154.7h2.4M134 154.7h2.4M288 154.7h2.4M56 158.7h4.4M68 158.7h4.4M102 158.7h2.4M274 158.7h2.4M314 158.7h2.4M326 158.7h2.4M334 158.7h2.4M58 162.7h2.4M68 162.7h2.4M102 162.7h2.4M138 162.7h2.4M228 162.7h2.4M316 162.7h2.4M328 162.7h2.4M44 166.7h2.4M68 166.7h2.4M90 166.7h2.4M98 166.7h2.4M268 166.7h2.4M286 166.7h2.4M324 166.7h6.4M68 170.7h2.4M94 170.7h2.4M100 170.7h2.4M136 170.7h2.4M294 170.7h2.4M298 170.7h4.4M304 170.7h2.4M324 170.7h6.4M66 174.7h4.4M104 174.7h2.4M130 174.7h2.4M280 174.7h2.4M324 174.7h2.4M328 174.7h2.4M56 178.7h2.4M60 178.7h2.4M68 178.7h2.4M80 178.7h4.4M88 178.7h4.4M98 178.7h2.4M278 178.7h2.4M286 178.7h2.4M290 178.7h2.4M324 178.7h2.4M328 178.7h2.4M48 182.7h2.4M64 182.7h2.4M68 182.7h2.4M78 182.7h2.4M82 182.7h2.4M88 182.7h2.4M128 182.7h2.4M134 182.7h2.4M284 182.7h4.4M322 182.7h2.4M328 182.7h2.4M54 186.7h2.4M58 186.7h2.4M64 186.7h6.4M80 186.7h2.4M86 186.7h4.4M134 186.7h2.4M276 186.7h2.4M282 186.7h2.4M314 186.7h2.4M320 186.7h4.4M58 190.7h2.4M64 190.7h4.4M78 190.7h2.4M86 190.7h2.4M128 190.7h2.4M238 190.7h2.4M314 190.7h2.4M318 190.7h2.4M322 190.7h2.4M334 190.7h2.4M52 194.7h2.4M56 194.7h2.4M64 194.7h4.4M84 194.7h4.4M128 194.7h2.4M240 194.7h2.4M256 194.7h2.4M298 194.7h2.4M44 198.7h2.4M56 198.7h2.4M64 198.7h2.4M84 198.7h2.4M132 198.7h2.4M216 198.7h2.4M254 198.7h4.4M278 198.7h2.4M284 198.7h2.4M326 198.7h2.4M332 198.7h2.4M50 202.7h2.4M84 202.7h2.4M130 202.7h2.4M216 202.7h4.4M254 202.7h2.4M286 202.7h2.4M296 202.7h2.4M320 202.7h2.4M328 202.7h2.4M54 206.7h2.4M82 206.7h4.4M142 206.7h2.4M212 206.7h2.4M252 206.7h2.4M268 206.7h2.4M296 206.7h2.4M300 206.7h2.4M48 210.7h2.4M140 210.7h2.4M210 210.7h2.4M216 210.7h2.4M224 210.7h4.4M250 210.7h4.4M256 210.7h2.4M296 210.7h2.4M308 210.7h2.4M334 210.7h2.4M48 214.7h6.4M82 214.7h2.4M210 214.7h2.4M216 214.7h2.4M222 214.7h2.4M242 214.7h2.4M250 214.7h2.4M284 214.7h2.4M288 214.7h4.4M294 214.7h2.4M306 214.7h2.4M314 214.7h2.4M318 214.7h2.4M332 214.7h2.4M80 218.7h4.4M138 218.7h4.4M220 218.7h2.4M242 218.7h8.4M298 218.7h2.4M312 218.7h2.4M318 218.7h2.4M80 222.7h4.4M208 222.7h2.4M238 222.7h4.4M248 222.7h2.4M252 222.7h2.4M258 222.7h2.4M286 222.7h2.4M306 222.7h2.4M314 222.7h4.4M80 226.7h2.4M86 226.7h2.4M214 226.7h2.4M218 226.7h2.4M226 226.7h2.4M240 226.7h2.4M250 226.7h2.4M298 226.7h2.4M314 226.7h4.4M68 230.7h2.4M78 230.7h2.4M86 230.7h2.4M206 230.7h2.4M226 230.7h2.4M248 230.7h2.4M264 230.7h2.4M272 230.7h2.4M284 230.7h2.4M312 230.7h8.4M84 234.7h4.4M216 234.7h2.4M258 234.7h2.4M288 234.7h2.4M314 234.7h2.4M320 234.7h2.4M326 234.7h2.4M70 238.7h2.4M84 238.7h2.4M212 238.7h2.4M232 238.7h2.4M272 238.7h2.4M282 238.7h2.4M302 238.7h2.4M320 238.7h4.4M330 238.7h2.4M62 242.7h2.4M202 242.7h2.4M214 242.7h2.4M252 242.7h2.4M282 242.7h2.4"/>
<path stroke="#f4f4f4" d="M84 50.7h6.4M92 50.7h2.4M98 50.7h2.4M154 50.7h4.4M160 50.7h2.4M168 50.7h2.4M174 50.7h2.4M280 50.7h2.4M294 50.7h2.4M84 54.7h4.4M92 54.7h4.4M98 54.7h2.4M122 54.7h2.4M154 54.7h4.4M168 54.7h2.4M294 54.7h2.4M306 54.7h2.4M316 54.7h2.4M332 54.7h2.4M76 58.7h2.4M82 58.7h2.4M92 58.7h2.4M120 58.7h6.4M134 58.7h2.4M138 58.7h2.4M156 58.7h4.4M168 58.7h2.4M90 62.7h4.4M120 62.7h2.4M124 62.7h2.4M132 62.7h2.4M136 62.7h2.4M152 62.7h2.4M156 62.7h2.4M166 62.7h4.4M278 62.7h2.4M304 62.7h2.4M320 62.7h2.4M324 62.7h2.4M332 62.7h2.4M60 66.7h2.4M90 66.7h4.4M98 66.7h2.4M120 66.7h4.4M154 66.7h4.4M164 66.7h4.4M278 66.7h2.4M302 66.7h2.4M324 66.7h2.4M74 70.7h4.4M88 70.7h4.4M108 70.7h2.4M120 70.7h4.4M154 70.7h2.4M166 70.7h2.4M278 70.7h2.4M286 70.7h4.4M58 74.7h2.4M74 74.7h2.4M86 74.7h2.4M90 74.7h2.4M94 74.7h2.4M100 74.7h2.4M108 74.7h2.4M150 74.7h2.4M154 74.7h2.4M318 74.7h2.4M330 74.7h2.4M58 78.7h2.4M66 78.7h2.4M72 78.7h4.4M84 78.7h2.4M88 78.7h2.4M164 78.7h2.4M284 78.7h2.4M322 78.7h2.4M58 82.7h2.4M66 82.7h2.4M72 82.7h2.4M82 82.7h2.4M88 82.7h2.4M92 82.7h2.4M106 82.7h2.4M140 82.7h2.4M164 82.7h4.4M316 82.7h2.4M328 82.7h2.4M58 86.7h2.4M64 86.7h2.4M70 86.7h4.4M88 86.7h2.4M106 86.7h6.4M130 86.7h2.4M140 86.7h4.4M148 86.7h2.4M154 86.7h2.4M162 86.7h4.4M282 86.7h2.4M316 86.7h2.4M320 86.7h2.4M326 86.7h4.4M332 86.7h2.4M58 90.7h2.4M64 90.7h10.4M80 90.7h2.4M88 90.7h4.4M106 90.7h2.4M120 90.7h4.4M148 90.7h2.4M282 90.7h2.4M328 90.7h6.4M58 94.7h2.4M64 94.7h6.4M72 94.7h2.4M82 94.7h2.4M104 94.7h2.4M110 94.7h2.4M122 94.7h2.4M166 94.7h2.4M268 94.7h4.4M276 94.7h2.4M328 94.7h2.4M332 94.7h2.4M64 98.7h4.4M72 98.7h2.4M78 98.7h6.4M88 98.7h4.4M104 98.7h2.4M116 98.7h2.4M152 98.7h2.4M250 98.7h4.4M266 98.7h6.4M322 98.7h2.4M326 98.7h4.4M64 102.7h2.4M78 102.7h4.4M86 102.7h2.4M90 102.7h2.4M100 102.7h2.4M104 102.7h2.4M114 102.7h2.4M128 102.7h2.4M148 102.7h2.4M164 102.7h2.4M260 102.7h4.4M270 102.7h2.4M314 102.7h2.4M326 102.7h2.4M64 106.7h2.4M80 106.7h2.4M108 106.7h6.4M120 106.7h2.4M128 106.7h2.4M148 106.7h4.4M156 106.7h2.4M248 106.7h2.4M262 106.7h4.4M270 106.7h4.4M286 106.7h2.4M296 106.7h4.4M326 106.7h2.4M76 110.7h2.4M102 110.7h2.4M108 110.7h2.4M250 110.7h2.4M262 110.7h2.4M270 110.7h2.4M294 110.7h2.4M318 110.7h2.4M324 110.7h2.4M334 110.7h2.4M78 114.7h2.4M154 114.7h2.4M240 114.7h2.4M250 114.7h2.4M260 114.7h2.4M308 114.7h2.4M316 114.7h2.4M324 114.7h2.4M332 114.7h2.4M74 118.7h4.4M82 118.7h2.4M86 118.7h2.4M260 118.7h2.4M330 118.7h4.4M74 122.7h2.4M120 122.7h2.4M152 122.7h2.4M232 122.7h2.4M298 122.7h2.4M306 122.7h4.4M330 122.7h4.4M46 126.7h2.4M72 126.7h2.4M154 126.7h2.4M232 126.7h2.4M248 126.7h4.4M276 126.7h2.4M280 126.7h2.4M328 126.7h2.4M332 126.7h2.4M70 130.7h2.4M74 130.7h2.4M80 130.7h2.4M104 130.7h4.4M124 130.7h2.4M152 130.7h2.4M236 130.7h2.4M248 130.7h2.4M304 130.7h4.4M64 134.7h2.4M74 134.7h2.4M106 134.7h2.4M234 134.7h2.4M242 134.7h2.4M258 134.7h2.4M270 134.7h2.4M278 134.7h2.4M304 134.7h2.4M62 138.7h4.4M68 138.7h2.4M100 138.7h2.4M106 138.7h2.4M120 138.7h2.4M234 138.7h2.4M246 138.7h2.4M256 138.7h4.4M276 138.7h2.4M52 142.7h2.4M66 142.7h2.4M98 142.7h2.4M106 142.7h2.4M110 142.7h2.4M122 142.7h2.4M234 142.7h4.4M244 142.7h4.4M256 142.7h8.4M276 142.7h2.4M60 146.7h2.4M66 146.7h2.4M72 146.7h2.4M112 146.7h2.4M232 146.7h2.4M236 146.7h2.4M240 146.7h2.4M264 146.7h2.4M274 146.7h2.4M298 146.7h2.4M334 146.7h2.4M66 150.7h2.4M94 150.7h2.4M104 150.7h4.4M136 150.7h4.4M236 150.7h2.4M242 150.7h4.4M48 154.7h2.4M54 154.7h2.4M66 154.7h4.4M230 154.7h2.4M236 154.7h4.4M242 154.7h2.4M328 154.7h2.4M332 154.7h2.4M54 158.7h2.4M64 158.7h2.4M104 158.7h2.4M134 158.7h2.4M138 158.7h2.4M236 158.7h2.4M328 158.7h6.4M54 162.7h2.4M100 162.7h2.4M108 162.7h2.4M250 162.7h2.4M314 162.7h2.4M318 162.7h2.4M326 162.7h2.4M330 162.7h2.4M58 166.7h2.4M62 166.7h2.4M96 166.7h2.4M132 166.7h2.4M294 166.7h2.4M318 166.7h2.4M330 166.7h2.4M52 170.7h2.4M90 170.7h4.4M248 170.7h2.4M272 170.7h2.4M286 170.7h2.4M302 170.7h2.4M60 174.7h2.4M90 174.7h2.4M228 174.7h4.4M266 174.7h2.4M286 174.7h6.4M294 174.7h2.4M298 174.7h2.4M58 178.7h2.4M66 178.7h2.4M130 178.7h2.4M134 178.7h2.4M230 178.7h2.4M246 178.7h2.4M280 178.7h2.4M56 182.7h4.4M66 182.7h2.4M98 182.7h2.4M238 182.7h2.4M290 182.7h2.4M56 186.7h2.4M78 186.7h2.4M100 186.7h2.4M128 186.7h2.4M236 186.7h4.4M244 186.7h2.4M270 186.7h2.4M278 186.7h2.4M284 186.7h2.4M328 186.7h2.4M334 186.7h2.4M54 190.7h4.4M98 190.7h2.4M130 190.7h2.4M236 190.7h2.4M240 190.7h4.4M270 190.7h2.4M276 190.7h2.4M300 190.7h2.4M316 190.7h2.4M320 190.7h2.4M44 194.7h2.4M54 194.7h2.4M130 194.7h4.4M228 194.7h2.4M232 194.7h4.4M260 194.7h2.4M284 194.7h2.4M288 194.7h2.4M304 194.7h2.4M312 194.7h2.4M316 194.7h6.4M332 194.7h2.4M52 198.7h4.4M130 198.7h2.4M228 198.7h6.4M296 198.7h2.4M316 198.7h6.4M330 198.7h2.4M52 202.7h4.4M214 202.7h2.4M228 202.7h2.4M258 202.7h2.4M268 202.7h2.4M302 202.7h2.4M310 202.7h2.4M316 202.7h2.4M50 206.7h4.4M214 206.7h4.4M226 206.7h2.4M286 206.7h2.4M308 206.7h2.4M316 206.7h2.4M50 210.7h4.4M82 210.7h2.4M142 210.7h2.4M212 210.7h4.4M276 210.7h2.4M282 210.7h2.4M286 210.7h6.4M306 210.7h2.4M314 210.7h6.4M140 214.7h2.4M212 214.7h4.4M224 214.7h2.4M240 214.7h2.4M256 214.7h2.4M266 214.7h2.4M282 214.7h2.4M286 214.7h2.4M292 214.7h2.4M304 214.7h2.4M308 214.7h2.4M316 214.7h2.4M210 218.7h2.4M214 218.7h2.4M240 218.7h2.4M254 218.7h6.4M284 218.7h4.4M316 218.7h2.4M332 218.7h2.4M214 222.7h2.4M220 222.7h2.4M242 222.7h2.4M246 222.7h2.4M298 222.7h2.4M330 222.7h2.4M208 226.7h2.4M246 226.7h2.4M254 226.7h2.4M264 226.7h2.4M284 226.7h2.4M306 226.7h2.4M310 226.7h2.4M70 230.7h2.4M246 230.7h2.4M310 230.7h2.4M328 230.7h2.4M66 234.7h2.4M70 234.7h2.4M212 234.7h2.4M264 234.7h2.4M272 234.7h2.4M286 234.7h2.4M310 234.7h4.4M316 234.7h4.4M330 234.7h4.4M64 238.7h2.4M204 238.7h2.4M224 238.7h2.4M252 238.7h2.4M312 238.7h4.4M324 238.7h2.4M328 238.7h2.4M332 238.7h2.4M68 242.7h2.4M232 242.7h2.4M320 242.7h2.4M332 242.7h2.4"/>
<path stroke="#fafafa" d="M78 50.7h2.4M82 50.7h2.4M90 50.7h2.4M96 50.7h2.4M100 50.7h2.4M120 50.7h6.4M132 50.7h4.4M140 50.7h2.4M148 50.7h4.4M162 50.7h2.4M302 50.7h2.4M306 50.7h2.4M64 54.7h2.4M82 54.7h2.4M88 54.7h2.4M96 54.7h2.4M100 54.7h2.4M112 54.7h2.4M118 54.7h4.4M124 54.7h2.4M134 54.7h2.4M150 54.7h2.4M160 54.7h2.4M280 54.7h2.4M44 58.7h2.4M62 58.7h2.4M80 58.7h2.4M84 58.7h4.4M90 58.7h2.4M94 58.7h6.4M110 58.7h4.4M118 58.7h2.4M132 58.7h2.4M136 58.7h2.4M146 58.7h2.4M154 58.7h2.4M166 58.7h2.4M332 58.7h2.4M76 62.7h12.4M94 62.7h6.4M110 62.7h2.4M118 62.7h2.4M148 62.7h2.4M154 62.7h2.4M158 62.7h2.4M164 62.7h2.4M292 62.7h2.4M76 66.7h6.4M86 66.7h4.4M94 66.7h4.4M108 66.7h4.4M118 66.7h2.4M124 66.7h2.4M130 66.7h2.4M144 66.7h2.4M152 66.7h2.4M162 66.7h2.4M280 66.7h4.4M288 66.7h4.4M58 70.7h2.4M78 70.7h2.4M84 70.7h4.4M92 70.7h4.4M100 70.7h2.4M118 70.7h2.4M146 70.7h2.4M152 70.7h2.4M156 70.7h2.4M160 70.7h2.4M282 70.7h2.4M314 70.7h2.4M318 70.7h2.4M324 70.7h2.4M76 74.7h2.4M84 74.7h2.4M106 74.7h2.4M120 74.7h4.4M128 74.7h2.4M142 74.7h2.4M152 74.7h2.4M156 74.7h4.4M282 74.7h4.4M76 78.7h2.4M90 78.7h4.4M106 78.7h4.4M120 78.7h4.4M128 78.7h2.4M144 78.7h2.4M150 78.7h8.4M282 78.7h2.4M316 78.7h2.4M74 82.7h2.4M90 82.7h2.4M108 82.7h6.4M120 82.7h6.4M128 82.7h2.4M150 82.7h6.4M280 82.7h4.4M334 82.7h2.4M74 86.7h2.4M90 86.7h2.4M104 86.7h2.4M112 86.7h2.4M120 86.7h6.4M150 86.7h4.4M166 86.7h2.4M310 86.7h2.4M100 90.7h2.4M104 90.7h2.4M118 90.7h2.4M150 90.7h4.4M162 90.7h6.4M278 90.7h2.4M288 90.7h2.4M314 90.7h2.4M334 90.7h2.4M78 94.7h2.4M100 94.7h2.4M128 94.7h2.4M148 94.7h2.4M152 94.7h2.4M160 94.7h4.4M282 94.7h4.4M288 94.7h2.4M308 94.7h2.4M314 94.7h2.4M56 98.7h2.4M74 98.7h4.4M100 98.7h2.4M110 98.7h2.4M122 98.7h2.4M128 98.7h2.4M148 98.7h4.4M312 98.7h4.4M318 98.7h2.4M88 102.7h2.4M102 102.7h2.4M110 102.7h4.4M150 102.7h2.4M242 102.7h2.4M250 102.7h2.4M266 102.7h4.4M274 102.7h2.4M308 102.7h4.4M78 106.7h2.4M86 106.7h2.4M100 106.7h4.4M162 106.7h2.4M250 106.7h2.4M260 106.7h2.4M266 106.7h4.4M310 106.7h4.4M78 110.7h2.4M84 110.7h2.4M100 110.7h2.4M160 110.7h2.4M248 110.7h2.4M258 110.7h4.4M264 110.7h2.4M268 110.7h2.4M76 114.7h2.4M158 114.7h2.4M248 114.7h2.4M256 114.7h2.4M262 114.7h2.4M268 114.7h4.4M294 114.7h2.4M310 114.7h2.4M334 114.7h2.4M120 118.7h2.4M126 118.7h2.4M156 118.7h2.4M246 118.7h4.4M254 118.7h2.4M262 118.7h2.4M268 118.7h2.4M308 118.7h2.4M82 122.7h4.4M122 122.7h2.4M248 122.7h2.4M252 122.7h2.4M258 122.7h4.4M274 122.7h4.4M74 126.7h2.4M82 126.7h2.4M122 126.7h2.4M152 126.7h2.4M236 126.7h2.4M244 126.7h2.4M258 126.7h4.4M292 126.7h2.4M306 126.7h2.4M72 130.7h2.4M122 130.7h2.4M234 130.7h2.4M250 130.7h2.4M258 130.7h4.4M278 130.7h2.4M298 130.7h2.4M332 130.7h2.4M70 134.7h2.4M102 134.7h2.4M122 134.7h2.4M246 134.7h4.4M256 134.7h2.4M260 134.7h6.4M122 138.7h2.4M242 138.7h4.4M260 138.7h6.4M268 138.7h2.4M62 142.7h4.4M68 142.7h2.4M72 142.7h2.4M242 142.7h2.4M264 142.7h4.4M330 142.7h2.4M52 146.7h2.4M64 146.7h2.4M68 146.7h2.4M96 146.7h2.4M108 146.7h2.4M120 146.7h2.4M234 146.7h2.4M242 146.7h2.4M254 146.7h2.4M52 150.7h2.4M60 150.7h2.4M64 150.7h2.4M68 150.7h4.4M232 150.7h2.4M240 150.7h2.4M332 150.7h2.4M52 154.7h2.4M60 154.7h2.4M64 154.7h2.4M136 154.7h4.4M240 154.7h2.4M252 154.7h2.4M272 154.7h4.4M296 154.7h2.4M312 154.7h2.4M330 154.7h2.4M92 158.7h2.4M238 158.7h6.4M312 158.7h2.4M46 162.7h2.4M62 162.7h2.4M134 162.7h2.4M236 162.7h6.4M294 162.7h2.4M308 162.7h2.4M312 162.7h2.4M332 162.7h4.4M52 166.7h2.4M102 166.7h2.4M106 166.7h2.4M136 166.7h2.4M228 166.7h2.4M238 166.7h4.4M292 166.7h2.4M312 166.7h2.4M332 166.7h4.4M58 170.7h4.4M132 170.7h2.4M228 170.7h2.4M238 170.7h2.4M290 170.7h4.4M330 170.7h2.4M334 170.7h2.4M50 174.7h2.4M58 174.7h2.4M134 174.7h2.4M238 174.7h2.4M292 174.7h2.4M296 174.7h2.4M300 174.7h6.4M316 174.7h2.4M330 174.7h2.4M334 174.7h2.4M102 178.7h2.4M132 178.7h2.4M236 178.7h4.4M292 178.7h2.4M296 178.7h4.4M330 178.7h6.4M80 182.7h2.4M130 182.7h4.4M230 182.7h2.4M236 182.7h2.4M240 182.7h2.4M264 182.7h2.4M270 182.7h2.4M278 182.7h2.4M296 182.7h2.4M314 182.7h2.4M330 182.7h6.4M46 186.7h2.4M98 186.7h2.4M130 186.7h4.4M234 186.7h2.4M240 186.7h2.4M332 186.7h2.4M44 190.7h2.4M132 190.7h2.4M234 190.7h2.4M282 190.7h4.4M302 190.7h4.4M312 190.7h2.4M328 190.7h2.4M332 190.7h2.4M280 194.7h2.4M314 194.7h2.4M328 194.7h2.4M268 198.7h2.4M304 198.7h2.4M310 198.7h4.4M328 198.7h2.4M318 202.7h2.4M258 206.7h2.4M282 206.7h2.4M288 206.7h4.4M294 206.7h2.4M310 206.7h2.4M314 206.7h2.4M318 206.7h2.4M266 210.7h2.4M292 210.7h4.4M300 210.7h2.4M258 214.7h2.4M312 214.7h2.4M334 214.7h2.4M212 218.7h2.4M222 218.7h4.4M260 218.7h2.4M282 218.7h2.4M302 218.7h2.4M308 218.7h2.4M334 218.7h2.4M210 222.7h4.4M224 222.7h2.4M244 222.7h2.4M254 222.7h2.4M260 222.7h2.4M264 222.7h2.4M274 222.7h2.4M282 222.7h4.4M310 222.7h2.4M332 222.7h4.4M212 226.7h2.4M224 226.7h2.4M330 226.7h6.4M212 230.7h2.4M218 230.7h2.4M224 230.7h2.4M240 230.7h2.4M330 230.7h6.4M68 234.7h2.4M206 234.7h2.4M224 234.7h2.4M246 234.7h4.4M282 234.7h2.4M304 234.7h2.4M328 234.7h2.4M66 238.7h4.4M216 238.7h2.4M238 238.7h2.4M258 238.7h2.4M264 238.7h2.4M284 238.7h2.4M288 238.7h2.4M308 238.7h4.4M316 238.7h4.4M326 238.7h2.4M64 242.7h2.4M210 242.7h2.4M230 242.7h2.4M258 242.7h2.4M264 242.7h2.4M310 242.7h4.4M322 242.7h2.4M326 242.7h2.4"/>
<path stroke="#ffffff" d="M44 50.7h22.4M80 50.7h2.4M102 50.7h18.4M126 50.7h6.4M136 50.7h4.4M164 50.7h4.4M282 50.7h12.4M304 50.7h2.4M318 50.7h6.4M326 50.7h6.4M44 54.7h20.4M78 54.7h4.4M90 54.7h2.4M102 54.7h10.4M114 54.7h4.4M126 54.7h8.4M136 54.7h4.4M148 54.7h2.4M162 54.7h6.4M282 54.7h12.4M302 54.7h4.4M318 54.7h4.4M326 54.7h6.4M46 58.7h16.4M78 58.7h2.4M88 58.7h2.4M100 58.7h10.4M114 58.7h4.4M126 58.7h6.4M148 58.7h2.4M160 58.7h6.4M280 58.7h14.4M302 58.7h4.4M316 58.7h6.4M326 58.7h6.4M44 62.7h18.4M88 62.7h2.4M100 62.7h10.4M112 62.7h6.4M126 62.7h6.4M146 62.7h2.4M160 62.7h4.4M280 62.7h12.4M302 62.7h2.4M316 62.7h4.4M326 62.7h6.4M44 66.7h16.4M82 66.7h4.4M100 66.7h8.4M112 66.7h6.4M126 66.7h4.4M146 66.7h2.4M158 66.7h4.4M284 66.7h4.4M316 66.7h4.4M326 66.7h6.4M44 70.7h14.4M80 70.7h4.4M102 70.7h6.4M110 70.7h8.4M124 70.7h6.4M144 70.7h2.4M158 70.7h2.4M284 70.7h2.4M316 70.7h2.4M326 70.7h6.4M44 74.7h14.4M78 74.7h6.4M92 74.7h2.4M102 74.7h4.4M110 74.7h10.4M124 74.7h4.4M144 74.7h2.4M314 74.7h4.4M324 74.7h6.4M44 78.7h14.4M78 78.7h6.4M102 78.7h4.4M110 78.7h10.4M124 78.7h4.4M142 78.7h2.4M314 78.7h2.4M324 78.7h6.4M44 82.7h14.4M76 82.7h6.4M102 82.7h4.4M114 82.7h6.4M126 82.7h2.4M142 82.7h2.4M312 82.7h4.4M322 82.7h6.4M44 86.7h14.4M76 86.7h6.4M102 86.7h2.4M114 86.7h6.4M126 86.7h4.4M280 86.7h2.4M312 86.7h4.4M322 86.7h4.4M334 86.7h2.4M44 90.7h14.4M74 90.7h6.4M102 90.7h2.4M112 90.7h6.4M124 90.7h6.4M280 90.7h2.4M310 90.7h4.4M320 90.7h6.4M44 94.7h14.4M74 94.7h4.4M102 94.7h2.4M112 94.7h6.4M124 94.7h4.4M150 94.7h2.4M164 94.7h2.4M278 94.7h4.4M286 94.7h2.4M310 94.7h4.4M320 94.7h4.4M44 98.7h12.4M102 98.7h2.4M112 98.7h4.4M124 98.7h4.4M160 98.7h6.4M276 98.7h12.4M308 98.7h4.4M320 98.7h2.4M44 102.7h12.4M122 102.7h6.4M158 102.7h6.4M238 102.7h4.4M276 102.7h12.4M312 102.7h2.4M318 102.7h4.4M44 106.7h10.4M88 106.7h2.4M122 106.7h6.4M158 106.7h4.4M236 106.7h6.4M274 106.7h12.4M318 106.7h2.4M44 110.7h8.4M86 110.7h4.4M120 110.7h8.4M156 110.7h4.4M236 110.7h6.4M266 110.7h2.4M272 110.7h14.4M296 110.7h4.4M310 110.7h2.4M44 114.7h8.4M84 114.7h4.4M120 114.7h8.4M156 114.7h2.4M234 114.7h6.4M258 114.7h2.4M264 114.7h4.4M272 114.7h12.4M296 114.7h4.4M44 118.7h6.4M84 118.7h2.4M122 118.7h4.4M154 118.7h2.4M234 118.7h6.4M256 118.7h4.4M264 118.7h4.4M270 118.7h14.4M294 118.7h6.4M334 118.7h2.4M44 122.7h4.4M124 122.7h2.4M154 122.7h2.4M234 122.7h4.4M246 122.7h2.4M254 122.7h4.4M262 122.7h12.4M278 122.7h4.4M294 122.7h4.4M334 122.7h2.4M44 126.7h2.4M124 126.7h2.4M234 126.7h2.4M246 126.7h2.4M252 126.7h6.4M262 126.7h12.4M278 126.7h2.4M294 126.7h4.4M334 126.7h2.4M244 130.7h4.4M252 130.7h6.4M262 130.7h10.4M292 130.7h6.4M334 130.7h2.4M72 134.7h2.4M104 134.7h2.4M244 134.7h2.4M250 134.7h6.4M266 134.7h4.4M292 134.7h8.4M332 134.7h4.4M70 138.7h4.4M102 138.7h4.4M248 138.7h8.4M266 138.7h2.4M292 138.7h8.4M332 138.7h4.4M70 142.7h2.4M100 142.7h6.4M120 142.7h2.4M248 142.7h8.4M292 142.7h8.4M332 142.7h4.4M62 146.7h2.4M70 146.7h2.4M98 146.7h8.4M110 146.7h2.4M246 146.7h8.4M290 146.7h8.4M330 146.7h4.4M50 150.7h2.4M62 150.7h2.4M96 150.7h8.4M108 150.7h4.4M234 150.7h2.4M246 150.7h8.4M274 150.7h2.4M290 150.7h8.4M330 150.7h2.4M50 154.7h2.4M62 154.7h2.4M94 154.7h10.4M106 154.7h6.4M232 154.7h4.4M244 154.7h8.4M290 154.7h6.4M48 158.7h6.4M60 158.7h4.4M94 158.7h8.4M106 158.7h4.4M136 158.7h2.4M230 158.7h6.4M244 158.7h8.4M272 158.7h2.4M288 158.7h8.4M310 158.7h2.4M48 162.7h6.4M60 162.7h2.4M92 162.7h8.4M104 162.7h4.4M136 162.7h2.4M230 162.7h6.4M242 162.7h8.4M270 162.7h4.4M288 162.7h6.4M310 162.7h2.4M46 166.7h6.4M60 166.7h2.4M92 166.7h4.4M104 166.7h2.4M134 166.7h2.4M230 166.7h8.4M242 166.7h8.4M270 166.7h4.4M288 166.7h4.4M308 166.7h4.4M314 166.7h4.4M44 170.7h8.4M102 170.7h4.4M134 170.7h2.4M230 170.7h8.4M240 170.7h8.4M268 170.7h4.4M288 170.7h2.4M306 170.7h12.4M332 170.7h2.4M44 174.7h6.4M100 174.7h4.4M132 174.7h2.4M232 174.7h6.4M240 174.7h8.4M268 174.7h4.4M306 174.7h10.4M332 174.7h2.4M44 178.7h6.4M100 178.7h2.4M232 178.7h4.4M240 178.7h6.4M266 178.7h6.4M294 178.7h2.4M300 178.7h16.4M44 182.7h4.4M100 182.7h2.4M232 182.7h4.4M242 182.7h4.4M266 182.7h4.4M292 182.7h4.4M298 182.7h16.4M44 186.7h2.4M230 186.7h4.4M242 186.7h2.4M264 186.7h6.4M290 186.7h24.4M330 186.7h2.4M230 190.7h4.4M262 190.7h8.4M290 190.7h10.4M306 190.7h6.4M330 190.7h2.4M230 194.7h2.4M262 194.7h8.4M282 194.7h2.4M290 194.7h8.4M306 194.7h6.4M330 194.7h2.4M260 198.7h8.4M280 198.7h4.4M288 198.7h8.4M306 198.7h4.4M314 198.7h2.4M260 202.7h8.4M278 202.7h6.4M288 202.7h8.4M304 202.7h6.4M312 202.7h4.4M260 206.7h8.4M278 206.7h4.4M292 206.7h2.4M302 206.7h6.4M312 206.7h2.4M258 210.7h8.4M278 210.7h4.4M302 210.7h4.4M310 210.7h4.4M260 214.7h6.4M276 214.7h6.4M300 214.7h4.4M310 214.7h2.4M262 218.7h4.4M276 218.7h6.4M300 218.7h2.4M310 218.7h2.4M222 222.7h2.4M262 222.7h2.4M276 222.7h6.4M300 222.7h2.4M308 222.7h2.4M210 226.7h2.4M220 226.7h4.4M242 226.7h4.4M252 226.7h2.4M260 226.7h4.4M274 226.7h10.4M308 226.7h2.4M208 230.7h4.4M220 230.7h4.4M242 230.7h4.4M250 230.7h4.4M260 230.7h4.4M274 230.7h10.4M306 230.7h4.4M208 234.7h4.4M218 234.7h6.4M240 234.7h6.4M250 234.7h4.4M260 234.7h4.4M274 234.7h8.4M306 234.7h4.4M334 234.7h2.4M206 238.7h6.4M218 238.7h6.4M240 238.7h12.4M260 238.7h4.4M274 238.7h8.4M286 238.7h2.4M304 238.7h4.4M334 238.7h2.4M66 242.7h2.4M204 242.7h6.4M216 242.7h8.4M238 242.7h14.4M260 242.7h4.4M274 242.7h8.4M284 242.7h6.4M302 242.7h8.4M314 242.7h6.4M324 242.7h2.4M334 242.7h2.4"/>
</g></g>
<g clip-path="url(#hA)">
<path d="M211.24 49 211.17 51.4 210.67 53.8 209.7 56.2 209.28 58.28 209.41 60.35 207.96 62.42 208.35 64.5 207.55 66.83 206.41 69.15 205.46 71.47 204.66 73.8 203.79 75.88 203.16 77.96 202.39 80.04 201.6 82.12 201.25 84.2 200.4 86.26 199.59 88.32 199.38 90.38 197.91 92.44 197.23 94.5 197.1 96.58 195.86 98.66 195.23 100.74 195.14 102.82 194.46 104.9 194.86 107 194.44 109.1 194.22 111.2 194.86 113.63 195.26 116.07 195.66 118.5 196.91 121.05 198.51 123.6 200.57 122.6 203.36 121.6 204 119.5 205.96 117.4 206.25 115.33 207.41 113.27 209.12 111.2 209.51 109.1 210.68 107 211.25 104.9 212.4 102.83 212.72 100.77 214.25 98.7 216.11 97.85 218.41 97 219.3 95.25 221.01 93.5 218.52 90 220.04 88.07 221.14 86.13 222.12 84.2 222.85 81.77 222.37 79.33 223.03 76.9 222.93 74.83 223.28 72.77 223.65 70.7 223.69 68.1 223.12 65.5 224.48 62.95 225.31 60.4 227.04 58.3 228.26 56.2 229.88 53.8 229.72 51.4 230.7 49" fill="none" stroke="#ffa500" stroke-width="1.3" stroke-linejoin="round"/>
<path d="M198.39 124.3 199.28 127 199.64 129 199.15 131 198.29 133 198.23 135.15 197.49 137.3 196.54 139.45 195.28 141.6 194.41 143.75 194.06 145.9 193.97 148.5 192.71 150.65 191.45 152.8 193.02 156.3 193.66 158.9 196.18 160.6 194.26 161.5 192.5 164.9 192.26 167.45 191.99 170 192.68 172 192 174 191.85 176 190.1 178.6 188.78 181 185.38 181.6 184.06 183.4 182.28 186.9 181.54 184.25 181.61 181.6 180.87 178 180.62 176 180.73 174 181.11 172 180.53 170 181.03 167.73 181.37 165.47 181.24 163.2 181.65 161.02 182.14 158.85 182.53 156.68 181.92 154.5 182.98 152.35 182.16 150.2 183.18 148.05 183.44 145.9 182.83 143.53 183.26 141.15 183.82 138.78 183.07 136.4 185.84 135.5 187.82 134.7 187.91 131.2 188.5 133.35 188.3 135.5 190.57 136 193.35 134 194.4 131.5 195.83 129 197.59 126.65Z" fill="none" stroke="#ffa500" stroke-width="1.3" stroke-linejoin="round"/>
<path d="M199.58 130 199.82 132 200.25 134 201.5 136 201.21 138.05 202.08 140.1 201.84 142.15 202.12 144.2 201.74 146 201.4 148.27 201.06 150.53 200.72 152.8 200.42 153 199.77 150.67 200.2 148.33 199.13 146 199.42 144 199.42 142 199.8 140 198.93 138 199.61 136 199.54 134 199.66 132Z" fill="none" stroke="#ffa500" stroke-width="1.1" stroke-linejoin="round"/>
<path d="M211.44 112.5 212.52 115 211.12 118 210.49 115Z" fill="none" stroke="#ffa500" stroke-width="1.1" stroke-linejoin="round"/>
<path d="M173.27 173.3 171.81 174.85 170.68 176.4 169.71 178.6 167.87 180.8 167.17 182.9 167.81 185 167.78 187.1 168 189.2 168.18 191.3 167.99 193.48 168.91 195.65 168.56 197.82 168.94 200 168.75 202.65 168.05 205.3 167.02 207.9 166.5 210.5 166.49 212.75 166.15 215 164.99 217.27 163.24 219.53 163.05 221.8 162.28 223.85 161.72 225.9 160.68 227.95 160.46 230 159.1 232.18 158.68 234.35 158.27 236.52 158.13 238.7 157.52 242 159.96 242 162.87 242 162.94 239.75 164.2 237.5 164.38 235.25 165.6 233 165.57 230.93 166.59 228.85 167.98 226.77 168.24 224.7 169.48 222.8 170.24 220.9 171.12 219 171.96 217 173.68 215 173.79 212.75 175.33 210.5 176.16 207.9 176.69 205.3 176.66 202.65 177.82 200 177.95 197.97 177.87 195.93 178.59 193.9 178.93 191.87 178.55 189.83 179.3 187.8 178.78 185.6 177.59 183.4 175.69 182.5 175.52 179.87 174.47 177.23 174.58 174.6Z" fill="none" stroke="#ffa500" stroke-width="1.3" stroke-linejoin="round"/>
<path d="M182.95 193.5 184.02 195.25 184.56 197 184.08 199 182.95 201 182.16 199 181.13 197 181.61 195.25Z" fill="none" stroke="#ffa500" stroke-width="1.1" stroke-linejoin="round"/>
<path d="M183.04 206.5 184.4 210 183.23 213.5 181.23 210Z" fill="none" stroke="#ffa500" stroke-width="1.1" stroke-linejoin="round"/>
<path d="M185.78 207 187.67 210.5 185.99 214 185.17 210.5Z" fill="none" stroke="#ffa500" stroke-width="1.1" stroke-linejoin="round"/>
<path d="M171.5 197 174 197" fill="none" stroke="#ffa500" stroke-width="1.0" stroke-linejoin="round"/>
<path d="M212.72 64.5 214.03 65.5 213.58 67.58 213.59 69.65 213.6 71.72 212.54 73.8 214.23 75.35 215.19 76.9 215.68 79 215.66 81.1 212.93 84.2 211.89 86.6 211.09 89 209.6 91.4 208.61 93.47 207.7 95.53 206.84 97.6 206.06 99.67 206.75 101.75 206.26 103.83 205.62 105.9 203.71 105.9 204.57 103.84 203.58 101.78 203.49 99.72 203.38 97.66 203.21 95.6 202.27 94.5 201.9 92.22 202.47 89.94 203.73 87.66 203.95 85.38 203.86 83.1 205.51 80.55 207.44 78 208.83 75.9 210.35 73.3 210.54 70.7 211.42 68.63 211.49 66.57 211.56 64.5Z" fill="none" stroke="#ff0000" stroke-width="1.8" stroke-linejoin="round"/>
<circle cx="219.1" cy="71.7" r="0.9" fill="#ff0000"/>
<path d="M188.74 156.5 188.82 160 188.26 162 188.76 164 188.96 166 188.13 168 188.21 170 188.55 172 188.18 174 187.72 176 185.98 178 183.56 179 184.19 177 183.74 175 183.61 173 184.06 170.67 184.05 168.33 183.98 166 184.89 163.5 185.35 161 187.2 158Z" fill="none" stroke="#ff0000" stroke-width="1.7" stroke-linejoin="round"/>
<circle cx="171.9" cy="211" r="0.9" fill="#ff0000"/>
</g>
<rect x="46.7" y="50.7" width="285.8" height="189.5" fill="none" stroke="#8a8a8a" stroke-width="0.9"/>
<line x1="43.9" x2="46.7" y1="66.8" y2="66.8" stroke="#8a8a8a" stroke-width="0.8"/>
<text x="40.6" y="70.3" font-size="10.2" text-anchor="end" >200</text>
<line x1="43.9" x2="46.7" y1="106.5" y2="106.5" stroke="#8a8a8a" stroke-width="0.8"/>
<text x="40.6" y="110" font-size="10.2" text-anchor="end" >100</text>
<line x1="43.9" x2="46.7" y1="145.7" y2="145.7" stroke="#8a8a8a" stroke-width="0.8"/>
<text x="40.6" y="149.2" font-size="10.2" text-anchor="end" >0</text>
<line x1="43.9" x2="46.7" y1="185" y2="185" stroke="#8a8a8a" stroke-width="0.8"/>
<text x="40.6" y="188.5" font-size="10.2" text-anchor="end" >−100</text>
<line x1="43.9" x2="46.7" y1="224.5" y2="224.5" stroke="#8a8a8a" stroke-width="0.8"/>
<text x="40.6" y="228" font-size="10.2" text-anchor="end" >−200</text>
<line x1="52.1" x2="52.1" y1="240.2" y2="243" stroke="#8a8a8a" stroke-width="0.8"/>
<text x="52.1" y="254.8" font-size="10.2" text-anchor="middle" >−0.15</text>
<line x1="98" x2="98" y1="240.2" y2="243" stroke="#8a8a8a" stroke-width="0.8"/>
<text x="98" y="254.8" font-size="10.2" text-anchor="middle" >−0.10</text>
<line x1="143.4" x2="143.4" y1="240.2" y2="243" stroke="#8a8a8a" stroke-width="0.8"/>
<text x="143.4" y="254.8" font-size="10.2" text-anchor="middle" >−0.05</text>
<line x1="189" x2="189" y1="240.2" y2="243" stroke="#8a8a8a" stroke-width="0.8"/>
<text x="189" y="254.8" font-size="10.2" text-anchor="middle" >0</text>
<line x1="234.6" x2="234.6" y1="240.2" y2="243" stroke="#8a8a8a" stroke-width="0.8"/>
<text x="234.6" y="254.8" font-size="10.2" text-anchor="middle" >0.05</text>
<line x1="280.2" x2="280.2" y1="240.2" y2="243" stroke="#8a8a8a" stroke-width="0.8"/>
<text x="280.2" y="254.8" font-size="10.2" text-anchor="middle" >0.10</text>
<line x1="325.8" x2="325.8" y1="240.2" y2="243" stroke="#8a8a8a" stroke-width="0.8"/>
<text x="325.8" y="254.8" font-size="10.2" text-anchor="middle" >0.15</text>
<text transform="translate(8.6,145.7) rotate(-90)" font-size="11.15" text-anchor="middle">Offset in ascending node epoch (s)</text>
<text x="187" y="271.5" font-size="11.3" text-anchor="middle" >Offset in orbital period (s)</text>
<line x1="95" x2="284.4" y1="145.7" y2="145.7" stroke="#1e1ef2" stroke-width="1.5"/>
<line x1="189.4" x2="189.4" y1="84.2" y2="206.7" stroke="#1e1ef2" stroke-width="1.5"/>
<path d="M208.8 85L213.4 89.6M208.8 89.6L213.4 85" stroke="#20e0e8" stroke-width="1.3"/>
<text x="174" y="309.6" font-size="11" font-style="italic">δ</text>
<text x="180.38" y="309.6" font-size="11">log</text>
<path transform="translate(198.35,302.2) scale(1)" d="M6.3 1.2 C6.0 -0.1 4.4 -0.1 3.9 1.4 L2.7 5.6 C2.4 6.7 1.4 7.6 0.6 7.3 C-0.1 7.0 0.6 6.1 1.8 6.4 C3.2 6.8 4.6 7.5 6.5 6.6" fill="none" stroke="#262626" stroke-width="1.15" stroke-linecap="round"/>
<linearGradient id="cbB" x1="0" x2="1" y1="0" y2="0"><stop offset="0" stop-color="#ffffff"/><stop offset="1" stop-color="#000000"/></linearGradient>
<rect x="46.7" y="332.2" width="286.1" height="8.1" fill="url(#cbB)" stroke="#9a9a9a" stroke-width="0.9"/>
<line x1="219.63" x2="219.63" y1="332.7" y2="339.8" stroke="#f5a000" stroke-width="1.6"/>
<line x1="254.73" x2="254.73" y1="332.7" y2="339.8" stroke="#d40000" stroke-width="1.6"/>
<line x1="311.59" x2="311.59" y1="332.7" y2="339.8" stroke="#00d8e0" stroke-width="1.6"/>
<line x1="320.01" x2="320.01" y1="332.7" y2="339.8" stroke="#a00000" stroke-width="1.3"/>
<line x1="46.7" x2="46.7" y1="329.2" y2="332.2" stroke="#707070" stroke-width="0.85"/>
<text x="46.7" y="325.2" font-size="9.9" text-anchor="middle" >0</text>
<line x1="93.5" x2="93.5" y1="329.2" y2="332.2" stroke="#707070" stroke-width="0.85"/>
<text x="93.5" y="325.2" font-size="9.9" text-anchor="middle" >2</text>
<line x1="140.3" x2="140.3" y1="329.2" y2="332.2" stroke="#707070" stroke-width="0.85"/>
<text x="140.3" y="325.2" font-size="9.9" text-anchor="middle" >4</text>
<line x1="187.1" x2="187.1" y1="329.2" y2="332.2" stroke="#707070" stroke-width="0.85"/>
<text x="187.1" y="325.2" font-size="9.9" text-anchor="middle" >6</text>
<line x1="233.9" x2="233.9" y1="329.2" y2="332.2" stroke="#707070" stroke-width="0.85"/>
<text x="233.9" y="325.2" font-size="9.9" text-anchor="middle" >8</text>
<line x1="280.7" x2="280.7" y1="329.2" y2="332.2" stroke="#707070" stroke-width="0.85"/>
<text x="280.7" y="325.2" font-size="9.9" text-anchor="middle" >10</text>
<line x1="327.5" x2="327.5" y1="329.2" y2="332.2" stroke="#707070" stroke-width="0.85"/>
<text x="327.5" y="325.2" font-size="9.9" text-anchor="middle" >12</text>
<text x="226.2" y="352.6" font-size="10.2" text-anchor="end" >5%</text>
<text x="261.7" y="352.6" font-size="10.2" text-anchor="end" >1%</text>
<text x="331.3" y="352.6" font-size="10.2" text-anchor="end" >0.1%</text>
<text x="301.1" y="329.2" font-size="10.6" text-anchor="start" >Max.</text>
<clipPath id="hB"><rect x="46.7" y="356" width="285.9" height="189.5"/></clipPath>
<filter id="hBf" x="-2%" y="-2%" width="104%" height="104%"><feGaussianBlur stdDeviation="0.6 1.2"/></filter>
<g clip-path="url(#hB)"><rect x="46.7" y="356" width="285.9" height="189.5" fill="#ababab"/>
<g filter="url(#hBf)" stroke-width="6.5">
<path stroke="#1b1b1b" d="M178 422h2.4M142 452h2.4M140 476h2.4M140 488h2.4M140 494h2.4"/>
<path stroke="#212121" d="M152 404h2.4M138 416h2.4M150 416h2.4M178 416h2.4M144 422h2.4M150 422h2.4M144 428h2.4M178 428h2.4M148 440h2.4M176 440h2.4M142 446h2.4M140 470h2.4M142 476h2.4M140 482h4.4M140 500h2.4"/>
<path stroke="#262626" d="M176 356h2.4M174 362h2.4M174 368h2.4M174 374h2.4M154 380h2.4M174 380h2.4M154 386h2.4M174 386h2.4M154 392h2.4M172 392h2.4M172 398h2.4M172 404h2.4M180 404h2.4M152 410h2.4M178 410h2.4M144 416h2.4M152 416h2.4M174 416h2.4M138 422h2.4M170 422h2.4M174 422h2.4M150 428h2.4M174 428h2.4M148 434h2.4M176 434h2.4M142 440h2.4M176 446h2.4M146 452h2.4M142 458h2.4M146 458h2.4M140 464h4.4M142 470h4.4M142 488h2.4"/>
<path stroke="#2b2b2b" d="M156 356h2.4M174 356h2.4M156 362h2.4M176 362h2.4M182 362h2.4M156 368h2.4M172 368h2.4M176 368h2.4M182 368h2.4M172 374h2.4M172 380h2.4M172 386h2.4M174 392h2.4M180 392h2.4M152 398h4.4M180 398h2.4M154 404h2.4M176 404h2.4M138 410h2.4M150 410h2.4M154 410h2.4M170 410h8.4M180 410h2.4M170 416h4.4M176 416h2.4M152 422h2.4M176 422h2.4M138 428h2.4M148 428h2.4M170 428h2.4M176 428h2.4M136 434h2.4M142 434h4.4M150 434h2.4M172 434h4.4M178 434h2.4M136 440h2.4M172 440h2.4M148 446h2.4M172 446h2.4M172 452h6.4M172 458h4.4M134 464h2.4M144 464h4.4M174 464h2.4M144 476h2.4M138 488h2.4M170 488h2.4M138 494h2.4M138 500h2.4M138 506h2.4"/>
<path stroke="#313131" d="M172 356h2.4M182 356h2.4M172 362h2.4M156 374h2.4M176 374h2.4M182 374h2.4M156 380h2.4M180 386h2.4M174 398h4.4M138 404h2.4M174 404h2.4M178 404h2.4M154 416h2.4M180 416h2.4M154 422h2.4M172 422h2.4M136 428h2.4M152 428h2.4M172 428h2.4M152 434h2.4M170 434h2.4M150 440h2.4M168 440h2.4M174 440h2.4M44 446h2.4M136 446h2.4M146 446h2.4M168 446h2.4M174 446h2.4M44 452h2.4M136 452h2.4M148 452h2.4M168 452h4.4M140 458h2.4M168 458h4.4M170 464h4.4M134 470h2.4M170 470h6.4M134 476h2.4M170 476h4.4M134 482h2.4M138 482h2.4M170 482h4.4M132 488h2.4M172 488h2.4M170 494h2.4M140 506h2.4M138 512h2.4"/>
<path stroke="#363636" d="M178 356h2.4M184 356h2.4M154 374h2.4M180 374h2.4M140 380h2.4M176 380h2.4M180 380h4.4M140 386h2.4M156 386h2.4M176 386h2.4M140 392h2.4M152 392h2.4M170 392h2.4M176 392h2.4M138 398h2.4M170 398h2.4M178 398h2.4M146 404h2.4M170 404h2.4M144 410h4.4M136 422h2.4M46 428h2.4M142 428h2.4M154 428h2.4M46 434h2.4M138 434h2.4M168 434h2.4M144 440h2.4M152 440h2.4M170 440h2.4M178 440h2.4M150 446h2.4M170 446h2.4M134 458h4.4M144 458h2.4M148 458h2.4M136 464h2.4M168 464h2.4M136 470h2.4M146 470h2.4M168 470h2.4M136 476h2.4M168 476h2.4M132 482h2.4M136 482h2.4M144 482h2.4M168 482h2.4M134 488h2.4M168 488h2.4M132 494h2.4M142 494h2.4M170 500h2.4M138 518h2.4"/>
<path stroke="#3c3c3c" d="M142 356h2.4M180 356h2.4M142 362h2.4M178 362h4.4M142 368h2.4M180 368h2.4M140 374h2.4M178 374h2.4M170 380h2.4M178 380h2.4M170 386h2.4M178 386h2.4M156 392h2.4M178 392h2.4M140 398h2.4M156 398h2.4M146 416h2.4M142 422h2.4M148 422h2.4M180 422h2.4M140 428h2.4M168 428h2.4M44 440h2.4M138 440h2.4M144 446h2.4M152 446h2.4M138 452h4.4M144 452h2.4M150 452h2.4M138 458h2.4M166 458h2.4M176 458h2.4M138 464h2.4M148 464h2.4M166 464h2.4M138 470h2.4M166 470h2.4M132 476h2.4M138 476h2.4M146 476h2.4M166 476h2.4M166 482h2.4M166 488h2.4M134 494h2.4M168 494h2.4M172 494h2.4M132 500h2.4M170 506h2.4M136 518h2.4M136 524h2.4"/>
<path stroke="#414141" d="M158 356h2.4M184 362h2.4M140 368h2.4M178 368h2.4M182 386h2.4M138 392h2.4M146 398h2.4M140 404h2.4M150 404h2.4M156 404h2.4M140 410h2.4M136 416h2.4M142 416h2.4M162 416h2.4M46 422h2.4M140 422h2.4M140 434h2.4M154 434h2.4M46 440h2.4M140 440h2.4M146 440h2.4M138 446h4.4M134 452h2.4M44 458h2.4M146 482h2.4M136 488h2.4M144 488h2.4M134 500h2.4M168 500h2.4M132 506h2.4M130 512h2.4M136 512h2.4M140 512h2.4M168 518h2.4M138 524h2.4M136 530h2.4"/>
<path stroke="#474747" d="M158 362h2.4M154 368h2.4M142 374h2.4M170 374h2.4M138 386h2.4M152 386h2.4M146 392h2.4M48 404h2.4M144 404h2.4M48 410h2.4M136 410h2.4M156 410h2.4M48 416h2.4M140 416h2.4M146 422h2.4M162 422h2.4M168 422h2.4M160 440h2.4M134 446h2.4M178 446h2.4M152 452h2.4M166 452h2.4M150 458h2.4M132 470h2.4M148 470h2.4M174 476h2.4M164 482h2.4M146 488h2.4M160 488h2.4M164 488h2.4M136 494h2.4M144 494h2.4M166 494h2.4M142 500h2.4M130 506h2.4M136 506h2.4M168 506h2.4M168 512h4.4M130 518h2.4M168 524h2.4M128 530h2.4M128 536h2.4M136 536h2.4M126 548h2.4M140 548h2.4"/>
<path stroke="#4c4c4c" d="M48 356h2.4M150 356h2.4M150 362h2.4M158 368h2.4M170 368h2.4M184 368h2.4M158 374h2.4M148 380h2.4M148 386h2.4M182 392h2.4M168 398h2.4M182 398h2.4M136 404h2.4M142 410h2.4M162 410h2.4M168 410h2.4M148 416h2.4M156 416h2.4M168 416h2.4M156 422h2.4M146 428h2.4M162 428h2.4M180 428h2.4M44 434h2.4M146 434h2.4M160 434h2.4M154 440h2.4M160 446h2.4M152 458h2.4M162 476h4.4M160 482h4.4M162 488h2.4M160 494h2.4M164 494h2.4M130 500h2.4M136 500h2.4M132 512h2.4M170 518h2.4M130 524h2.4M134 536h2.4M128 542h2.4M134 542h4.4M134 548h2.4"/>
<path stroke="#515151" d="M56 356h2.4M152 356h2.4M140 362h2.4M150 368h2.4M148 374h2.4M138 380h2.4M142 380h2.4M158 380h2.4M146 386h2.4M50 392h2.4M148 392h2.4M164 392h2.4M168 392h2.4M136 398h2.4M144 398h2.4M150 398h2.4M164 398h2.4M168 404h2.4M182 404h2.4M48 422h2.4M134 428h2.4M156 428h2.4M160 428h2.4M134 434h2.4M162 434h2.4M134 440h2.4M154 446h2.4M166 446h2.4M160 452h2.4M158 458h6.4M44 464h2.4M132 464h2.4M150 464h2.4M158 464h6.4M176 464h2.4M158 470h8.4M148 476h2.4M160 476h2.4M130 494h2.4M162 494h2.4M144 500h2.4M160 500h2.4M164 500h4.4M172 500h2.4M134 506h2.4M132 518h2.4M128 524h2.4M142 524h2.4M138 530h2.4M168 530h2.4M126 542h2.4M140 542h2.4"/>
<path stroke="#575757" d="M50 356h2.4M144 356h2.4M160 356h4.4M48 362h2.4M56 362h2.4M154 362h2.4M170 362h2.4M54 368h2.4M148 368h2.4M150 374h2.4M184 374h2.4M50 386h2.4M48 398h4.4M148 398h2.4M162 404h4.4M148 410h2.4M182 410h2.4M46 416h2.4M166 416h2.4M134 422h2.4M166 422h2.4M156 434h2.4M164 434h2.4M180 434h2.4M162 440h2.4M46 446h2.4M162 446h2.4M158 452h2.4M162 452h2.4M178 452h2.4M164 458h2.4M152 464h2.4M164 464h2.4M130 470h2.4M150 470h2.4M130 476h2.4M156 476h4.4M130 482h2.4M156 482h4.4M130 488h2.4M158 488h2.4M146 494h2.4M158 494h2.4M158 500h2.4M162 500h2.4M142 506h4.4M158 506h4.4M158 512h2.4M140 518h4.4M148 518h2.4M158 518h2.4M148 524h2.4M170 524h2.4M130 530h2.4M134 530h2.4M142 530h2.4"/>
<path stroke="#5c5c5c" d="M186 356h2.4M50 362h2.4M54 362h2.4M152 362h2.4M160 362h4.4M186 362h2.4M48 368h2.4M56 368h2.4M162 368h2.4M46 374h2.4M54 374h2.4M138 374h2.4M46 380h2.4M50 380h2.4M146 380h2.4M152 380h2.4M184 380h2.4M158 386h2.4M164 386h2.4M168 386h2.4M136 392h2.4M158 398h2.4M50 404h2.4M142 404h2.4M148 404h2.4M158 404h2.4M158 410h2.4M164 410h4.4M134 416h2.4M160 422h2.4M164 422h2.4M164 428h4.4M166 434h2.4M164 440h4.4M158 446h2.4M164 446h2.4M132 452h2.4M154 452h2.4M164 452h2.4M132 458h2.4M130 464h2.4M152 470h2.4M156 470h2.4M150 476h2.4M128 482h2.4M174 482h2.4M156 488h2.4M150 494h2.4M156 494h2.4M150 500h2.4M156 500h2.4M150 506h2.4M162 506h6.4M134 512h2.4M142 512h2.4M148 512h2.4M160 512h2.4M128 518h2.4M166 518h2.4M134 524h2.4M158 524h2.4M166 524h2.4M148 530h2.4M126 536h2.4M140 536h4.4M168 536h2.4M128 548h2.4M136 548h2.4"/>
<path stroke="#626262" d="M52 356h4.4M58 356h2.4M140 356h2.4M170 356h2.4M52 362h2.4M58 362h2.4M148 362h2.4M46 368h2.4M50 368h2.4M58 368h2.4M160 368h2.4M186 368h2.4M50 374h4.4M56 374h4.4M160 374h2.4M186 374h2.4M52 380h6.4M150 380h2.4M46 386h2.4M52 386h6.4M142 386h2.4M150 386h2.4M184 386h2.4M44 392h2.4M48 392h2.4M56 392h2.4M144 392h2.4M150 392h2.4M158 392h2.4M44 398h2.4M162 398h2.4M44 404h2.4M166 404h2.4M158 416h2.4M164 416h2.4M182 416h2.4M44 428h2.4M48 428h2.4M132 440h2.4M156 440h2.4M180 440h2.4M132 446h2.4M154 458h2.4M178 458h2.4M128 476h2.4M152 476h2.4M148 482h4.4M128 488h2.4M150 488h2.4M154 488h2.4M154 494h2.4M154 500h2.4M156 506h2.4M172 506h2.4M128 512h2.4M144 512h2.4M150 512h2.4M156 512h2.4M162 512h6.4M134 518h2.4M150 518h2.4M156 518h2.4M160 518h4.4M132 524h2.4M140 524h2.4M158 530h2.4M166 530h2.4M130 536h2.4M138 536h2.4M166 542h4.4M166 548h2.4"/>
<path stroke="#676767" d="M60 356h4.4M154 356h2.4M164 356h2.4M188 356h2.4M60 362h2.4M144 362h2.4M188 362h2.4M52 368h2.4M152 368h2.4M188 368h2.4M48 374h2.4M152 374h2.4M162 374h2.4M58 380h2.4M160 380h2.4M164 380h2.4M168 380h2.4M186 380h2.4M44 386h2.4M136 386h2.4M160 386h2.4M186 386h2.4M52 392h4.4M160 392h2.4M184 392h2.4M54 398h4.4M142 398h2.4M166 398h2.4M184 398h2.4M54 404h4.4M44 410h4.4M54 410h2.4M134 410h2.4M54 416h2.4M44 422h2.4M158 422h2.4M180 446h2.4M46 452h2.4M240 458h2.4M154 464h4.4M240 464h2.4M44 470h2.4M126 482h2.4M152 482h4.4M152 488h2.4M222 488h2.4M128 494h2.4M152 494h2.4M128 500h2.4M152 500h2.4M236 500h2.4M128 506h2.4M148 506h2.4M152 506h4.4M152 512h4.4M234 512h2.4M164 518h2.4M234 518h2.4M156 524h2.4M160 524h4.4M140 530h2.4M156 530h2.4M160 530h2.4M46 536h2.4M148 536h2.4M156 536h4.4M166 536h2.4M46 542h2.4M142 542h2.4M146 542h2.4M156 542h4.4M44 548h2.4M132 548h2.4M146 548h2.4M156 548h2.4M168 548h2.4"/>
<path stroke="#6d6d6d" d="M148 356h2.4M46 362h2.4M164 362h2.4M60 368h2.4M166 368h2.4M60 374h2.4M146 374h2.4M166 374h2.4M188 374h2.4M48 380h2.4M166 380h2.4M188 380h2.4M48 386h2.4M58 386h2.4M46 392h2.4M142 392h2.4M186 392h2.4M160 398h2.4M186 398h2.4M184 404h2.4M44 416h2.4M58 416h2.4M160 416h2.4M52 422h4.4M58 422h2.4M52 428h2.4M58 428h2.4M132 434h2.4M68 440h2.4M158 440h2.4M68 446h2.4M156 446h2.4M130 458h2.4M156 458h2.4M66 464h2.4M128 470h2.4M154 470h2.4M176 470h2.4M230 470h2.4M126 476h2.4M154 476h2.4M230 476h2.4M222 482h2.4M228 482h2.4M126 488h2.4M148 488h2.4M228 488h2.4M44 494h2.4M148 494h2.4M236 494h2.4M44 500h2.4M146 500h4.4M44 506h2.4M236 506h2.4M172 512h2.4M144 518h2.4M152 518h4.4M150 524h2.4M164 524h2.4M46 530h2.4M126 530h2.4M132 530h2.4M146 530h2.4M162 530h2.4M170 530h2.4M146 536h2.4M160 536h4.4M44 542h2.4M132 542h2.4M160 542h2.4M46 548h2.4M142 548h2.4M158 548h4.4"/>
<path stroke="#727272" d="M46 356h2.4M62 362h2.4M166 362h2.4M62 368h2.4M138 368h2.4M164 374h2.4M168 374h2.4M44 380h2.4M60 380h2.4M162 380h2.4M60 386h2.4M144 386h2.4M162 386h2.4M166 386h2.4M188 386h2.4M58 392h4.4M162 392h2.4M166 392h2.4M46 398h2.4M52 398h2.4M60 398h2.4M46 404h2.4M60 404h2.4M134 404h2.4M160 404h2.4M186 404h2.4M50 410h2.4M56 410h6.4M160 410h2.4M184 410h2.4M52 416h2.4M62 416h2.4M62 422h2.4M182 422h2.4M54 428h2.4M158 428h2.4M52 434h2.4M58 434h2.4M158 434h2.4M50 440h2.4M56 440h2.4M56 446h2.4M56 452h2.4M68 452h2.4M156 452h2.4M180 452h2.4M240 452h2.4M48 464h2.4M230 464h2.4M66 470h2.4M46 476h2.4M46 482h2.4M230 482h2.4M174 488h2.4M126 494h2.4M228 494h2.4M220 500h2.4M226 500h2.4M220 506h2.4M226 506h2.4M234 506h2.4M44 512h2.4M144 524h4.4M152 524h4.4M234 524h2.4M150 530h2.4M164 530h2.4M44 536h2.4M132 536h2.4M130 542h2.4M138 542h2.4M148 542h2.4M162 542h2.4M138 548h2.4M172 548h2.4"/>
<path stroke="#777777" d="M44 356h2.4M166 356h4.4M190 356h2.4M44 362h2.4M144 368h4.4M164 368h2.4M238 368h2.4M44 374h2.4M62 374h2.4M238 374h2.4M136 380h2.4M238 380h2.4M64 392h2.4M236 392h2.4M58 398h2.4M64 398h2.4M52 404h2.4M58 404h2.4M64 404h2.4M52 410h2.4M62 410h2.4M56 416h2.4M60 416h2.4M184 416h2.4M56 422h2.4M60 422h2.4M56 428h2.4M62 428h2.4M132 428h2.4M182 428h2.4M48 434h4.4M54 434h4.4M182 434h2.4M58 440h2.4M182 440h2.4M50 446h2.4M182 446h2.4M242 446h2.4M130 452h2.4M182 452h2.4M232 452h2.4M46 458h4.4M56 458h2.4M66 458h2.4M180 458h2.4M232 458h2.4M178 464h2.4M232 464h2.4M238 470h4.4M44 476h2.4M66 476h2.4M222 476h2.4M228 476h2.4M238 476h2.4M238 482h2.4M44 488h4.4M230 488h2.4M222 494h2.4M226 494h2.4M146 506h2.4M220 512h2.4M226 512h2.4M44 518h2.4M48 518h2.4M146 518h2.4M172 518h2.4M46 524h4.4M126 524h2.4M44 530h2.4M154 530h2.4M164 536h2.4M170 536h4.4M164 542h2.4M172 542h2.4M124 548h2.4M148 548h2.4M154 548h2.4M162 548h4.4M170 548h2.4"/>
<path stroke="#7d7d7d" d="M66 356h2.4M70 356h2.4M240 356h2.4M66 362h4.4M146 362h2.4M168 362h2.4M190 362h2.4M238 362h4.4M44 368h2.4M66 368h2.4M168 368h2.4M66 374h2.4M144 374h2.4M62 380h2.4M66 380h2.4M144 380h2.4M62 386h6.4M238 386h2.4M62 392h2.4M188 392h2.4M238 392h2.4M62 398h2.4M134 398h2.4M236 398h4.4M62 404h2.4M238 404h2.4M186 410h2.4M70 416h2.4M70 422h2.4M184 422h2.4M60 428h2.4M70 428h2.4M184 428h2.4M60 434h2.4M68 434h2.4M52 440h2.4M60 440h2.4M58 446h2.4M232 446h2.4M48 452h4.4M186 452h2.4M242 452h2.4M186 458h2.4M230 458h2.4M56 464h2.4M128 464h2.4M224 464h2.4M46 470h4.4M126 470h2.4M224 470h2.4M232 470h2.4M232 476h2.4M44 482h2.4M232 482h2.4M64 488h2.4M236 488h4.4M64 494h2.4M124 494h2.4M220 494h2.4M230 494h2.4M126 500h2.4M228 500h2.4M48 512h2.4M146 512h2.4M174 512h2.4M236 512h2.4M46 518h2.4M126 518h2.4M174 518h2.4M224 518h2.4M44 524h2.4M172 524h4.4M224 524h2.4M48 530h2.4M144 530h2.4M152 530h2.4M172 530h4.4M224 530h2.4M232 530h2.4M48 536h2.4M150 536h2.4M154 536h2.4M174 536h2.4M232 536h2.4M154 542h2.4M170 542h2.4M174 542h2.4M130 548h2.4M144 548h2.4"/>
<path stroke="#828282" d="M64 356h2.4M68 356h2.4M146 356h2.4M230 356h2.4M234 356h2.4M238 356h2.4M64 362h2.4M70 362h2.4M138 362h2.4M64 368h2.4M68 368h2.4M190 368h2.4M240 368h2.4M64 374h2.4M68 374h2.4M240 374h2.4M64 380h2.4M240 380h2.4M236 386h2.4M240 386h2.4M240 392h2.4M240 398h2.4M208 404h2.4M236 404h2.4M240 404h2.4M64 410h2.4M236 410h6.4M50 416h2.4M240 416h2.4M50 422h2.4M132 422h2.4M206 422h2.4M50 428h2.4M206 428h2.4M234 428h2.4M184 434h2.4M234 434h2.4M238 434h2.4M48 440h2.4M54 440h2.4M232 440h2.4M238 440h2.4M242 440h2.4M48 446h2.4M52 446h4.4M60 446h2.4M130 446h2.4M240 446h2.4M54 452h2.4M58 452h2.4M54 458h2.4M68 458h2.4M128 458h2.4M182 458h2.4M46 464h2.4M54 464h2.4M180 464h2.4M238 464h2.4M54 470h2.4M178 470h2.4M176 476h2.4M66 482h2.4M54 488h2.4M124 488h2.4M226 488h2.4M232 488h2.4M46 494h2.4M54 494h2.4M174 494h2.4M54 500h2.4M64 500h2.4M124 500h2.4M174 500h2.4M222 500h2.4M230 500h2.4M234 500h2.4M48 506h2.4M126 506h2.4M174 506h2.4M228 506h4.4M46 512h2.4M126 512h2.4M224 512h2.4M230 512h2.4M52 518h2.4M218 518h4.4M226 518h2.4M52 524h2.4M218 524h2.4M232 524h2.4M52 530h2.4M218 530h2.4M50 536h2.4M144 536h2.4M152 536h2.4M50 542h2.4M144 542h2.4M150 542h4.4M232 542h2.4M50 548h2.4M174 548h2.4"/>
<path stroke="#888888" d="M230 362h2.4M234 362h2.4M242 362h2.4M70 368h2.4M242 368h2.4M136 374h2.4M232 374h2.4M242 374h2.4M232 380h2.4M236 380h2.4M242 380h2.4M242 386h2.4M66 392h2.4M242 392h2.4M208 398h2.4M242 398h2.4M206 416h2.4M234 416h6.4M234 422h8.4M236 428h4.4M62 434h2.4M70 434h2.4M204 434h2.4M184 440h2.4M204 440h2.4M234 440h2.4M184 446h6.4M234 446h2.4M238 446h2.4M52 452h2.4M60 452h2.4M66 452h2.4M128 452h2.4M184 452h2.4M188 452h2.4M234 452h2.4M238 452h2.4M50 458h2.4M58 458h2.4M184 458h2.4M224 458h2.4M238 458h2.4M126 464h2.4M184 464h4.4M236 464h2.4M56 470h2.4M228 470h2.4M48 476h2.4M54 476h2.4M224 476h2.4M240 476h2.4M54 482h2.4M64 482h2.4M236 482h2.4M232 494h4.4M238 494h2.4M46 500h2.4M50 500h2.4M176 500h2.4M232 500h2.4M46 506h2.4M50 506h6.4M176 506h2.4M232 506h2.4M50 512h4.4M228 512h2.4M232 512h2.4M230 518h4.4M226 524h2.4M50 530h2.4M234 530h2.4M52 536h2.4M218 536h2.4M224 536h2.4M48 542h2.4M54 542h2.4M124 542h2.4M214 542h2.4M48 548h2.4M150 548h4.4"/>
<path stroke="#8d8d8d" d="M138 356h2.4M232 356h2.4M242 356h4.4M232 362h2.4M230 368h6.4M228 374h2.4M68 380h2.4M228 380h2.4M210 386h2.4M232 386h2.4M134 392h2.4M210 392h2.4M72 398h2.4M72 404h2.4M220 404h2.4M242 404h2.4M70 410h2.4M208 410h2.4M220 410h2.4M234 410h2.4M64 416h2.4M132 416h2.4M186 416h2.4M218 422h2.4M204 428h2.4M218 428h2.4M240 428h2.4M232 434h2.4M236 434h2.4M62 440h2.4M130 440h2.4M188 440h2.4M216 440h2.4M236 440h2.4M240 440h2.4M98 446h2.4M128 446h2.4M204 446h2.4M216 446h2.4M236 446h2.4M98 452h2.4M236 452h2.4M52 458h2.4M60 458h2.4M234 458h4.4M242 458h2.4M68 464h2.4M182 464h2.4M214 464h2.4M234 464h2.4M180 470h2.4M184 470h2.4M214 470h2.4M222 470h2.4M234 470h4.4M56 476h2.4M178 476h2.4M234 476h4.4M124 482h2.4M176 482h2.4M224 482h4.4M234 482h2.4M176 488h2.4M234 488h2.4M50 494h4.4M58 494h2.4M176 494h2.4M48 500h2.4M52 500h2.4M58 500h2.4M124 506h2.4M222 506h4.4M54 512h2.4M176 512h2.4M50 518h2.4M56 518h2.4M176 518h2.4M228 518h2.4M50 524h2.4M56 524h2.4M220 524h2.4M230 524h2.4M54 530h2.4M240 530h2.4M54 536h2.4M214 536h4.4M240 536h2.4M52 542h2.4M218 542h2.4M222 542h4.4M52 548h4.4M214 548h2.4M218 548h2.4M222 548h2.4M230 548h4.4"/>
<path stroke="#929292" d="M244 362h2.4M136 368h2.4M228 368h2.4M244 368h2.4M70 374h2.4M190 374h2.4M230 374h2.4M244 374h2.4M210 380h2.4M244 380h2.4M68 386h2.4M222 386h2.4M228 386h2.4M72 392h2.4M222 392h2.4M66 398h2.4M220 398h2.4M230 398h2.4M234 404h2.4M72 410h2.4M206 410h2.4M218 416h4.4M68 428h2.4M100 428h2.4M100 434h2.4M130 434h2.4M218 434h2.4M240 434h2.4M186 440h2.4M218 440h2.4M202 452h2.4M216 452h2.4M224 452h2.4M230 452h2.4M126 458h2.4M188 458h2.4M202 458h2.4M214 458h2.4M50 464h4.4M58 464h4.4M96 464h2.4M52 470h2.4M58 470h4.4M182 470h2.4M186 470h2.4M52 476h2.4M60 476h2.4M180 476h2.4M52 482h2.4M56 482h6.4M178 482h2.4M212 482h2.4M52 488h2.4M56 488h4.4M66 488h2.4M178 488h2.4M212 488h2.4M220 488h2.4M224 488h2.4M178 494h2.4M224 494h2.4M118 500h2.4M224 500h2.4M238 500h2.4M58 506h2.4M64 506h2.4M118 506h2.4M56 512h2.4M62 512h2.4M218 512h2.4M54 518h2.4M62 518h2.4M272 518h2.4M54 524h2.4M176 524h2.4M216 524h2.4M228 524h2.4M272 524h2.4M56 530h2.4M122 530h2.4M176 530h2.4M216 530h2.4M220 530h2.4M226 530h6.4M272 530h2.4M122 536h4.4M216 542h2.4M230 542h2.4M240 542h2.4M120 548h2.4M216 548h2.4M224 548h2.4M238 548h2.4"/>
<path stroke="#989898" d="M72 356h2.4M212 356h2.4M212 362h2.4M212 368h2.4M236 374h2.4M74 380h2.4M92 380h2.4M216 380h2.4M230 380h2.4M230 386h2.4M244 386h2.4M68 392h2.4M208 392h2.4M226 392h8.4M188 398h2.4M214 398h2.4M222 398h2.4M226 398h4.4M226 404h2.4M230 404h2.4M132 410h2.4M242 410h2.4M64 422h2.4M204 422h2.4M220 422h2.4M216 434h2.4M242 434h2.4M70 440h2.4M98 440h2.4M128 440h2.4M202 440h2.4M226 440h2.4M62 446h2.4M66 446h2.4M202 446h2.4M218 446h2.4M226 446h2.4M62 452h2.4M226 452h2.4M62 458h2.4M216 458h2.4M72 464h2.4M202 464h2.4M50 470h2.4M58 476h2.4M64 476h2.4M182 476h6.4M214 476h2.4M48 482h4.4M120 482h2.4M180 482h4.4M50 488h2.4M60 488h2.4M120 488h2.4M180 488h4.4M48 494h2.4M56 494h2.4M118 494h2.4M180 494h2.4M56 500h2.4M178 500h4.4M274 500h2.4M56 506h2.4M62 506h2.4M178 506h2.4M274 506h2.4M118 512h2.4M124 512h2.4M178 512h2.4M222 512h2.4M242 512h2.4M272 512h2.4M124 518h2.4M222 518h2.4M236 518h2.4M62 524h2.4M122 524h4.4M240 524h2.4M124 530h2.4M214 530h2.4M222 530h2.4M56 536h2.4M176 536h2.4M222 536h2.4M226 536h6.4M238 536h2.4M272 536h2.4M120 542h4.4M228 542h2.4M238 542h2.4M122 548h2.4M228 548h2.4"/>
<path stroke="#9d9d9d" d="M76 356h2.4M218 356h2.4M246 356h2.4M228 362h2.4M246 362h2.4M94 368h2.4M224 368h2.4M246 368h2.4M74 374h2.4M210 374h2.4M216 374h2.4M224 374h2.4M234 374h2.4M70 380h2.4M222 380h4.4M74 386h2.4M92 386h2.4M134 386h2.4M216 386h2.4M226 386h2.4M214 392h2.4M220 392h2.4M210 398h2.4M234 398h2.4M66 404h2.4M206 404h2.4M214 404h2.4M222 404h2.4M228 404h2.4M218 410h2.4M226 410h2.4M204 416h2.4M208 416h2.4M68 422h2.4M186 422h2.4M130 428h2.4M220 428h2.4M232 428h2.4M188 434h2.4M206 434h2.4M226 434h2.4M100 440h2.4M126 446h2.4M224 446h2.4M78 452h2.4M126 452h2.4M204 452h2.4M214 452h2.4M218 452h2.4M72 458h2.4M78 458h2.4M96 458h4.4M226 458h2.4M62 464h2.4M122 464h2.4M188 464h2.4M216 464h2.4M228 464h2.4M68 470h2.4M72 470h2.4M76 470h2.4M96 470h2.4M122 470h2.4M202 470h2.4M216 470h2.4M50 476h2.4M72 476h2.4M76 476h2.4M120 476h2.4M124 476h2.4M200 476h2.4M212 476h2.4M216 476h2.4M226 476h2.4M70 482h2.4M184 482h2.4M200 482h2.4M214 482h4.4M48 488h2.4M70 488h2.4M200 488h2.4M70 494h2.4M120 494h2.4M182 494h2.4M274 494h2.4M180 506h2.4M198 506h2.4M218 506h2.4M242 506h2.4M272 506h2.4M58 512h2.4M64 512h2.4M122 512h2.4M198 512h2.4M274 512h2.4M116 518h2.4M122 518h2.4M178 518h2.4M216 518h2.4M240 518h2.4M222 524h2.4M120 536h2.4M220 536h2.4M234 536h2.4M226 542h2.4M226 548h2.4M240 548h2.4"/>
<path stroke="#a3a3a3" d="M192 356h2.4M214 356h2.4M236 356h2.4M72 362h2.4M76 362h2.4M94 362h2.4M136 362h2.4M218 362h2.4M224 362h2.4M236 362h2.4M74 368h4.4M216 368h2.4M236 368h2.4M92 374h2.4M212 374h2.4M72 386h2.4M224 386h2.4M74 392h2.4M92 392h2.4M244 392h2.4M68 398h2.4M90 398h2.4M70 404h2.4M90 404h2.4M66 410h2.4M222 410h4.4M228 410h4.4M72 416h2.4M102 416h2.4M194 416h2.4M212 416h2.4M224 416h6.4M242 416h2.4M100 422h2.4M212 422h2.4M224 422h6.4M64 428h2.4M216 428h2.4M226 428h4.4M64 434h2.4M128 434h2.4M186 434h2.4M190 434h4.4M202 434h2.4M220 434h2.4M64 440h2.4M80 440h2.4M126 440h2.4M190 440h2.4M64 446h2.4M74 446h2.4M80 446h2.4M120 446h2.4M190 446h2.4M230 446h2.4M120 452h2.4M124 452h2.4M120 458h6.4M218 458h2.4M76 464h4.4M120 464h2.4M124 464h2.4M222 464h2.4M226 464h2.4M62 470h4.4M120 470h2.4M124 470h2.4M200 470h2.4M226 470h2.4M70 476h2.4M122 476h2.4M186 482h2.4M240 482h2.4M74 488h2.4M118 488h2.4M184 488h2.4M214 488h4.4M274 488h2.4M66 494h2.4M184 494h2.4M188 494h2.4M200 494h2.4M212 494h2.4M62 500h2.4M70 500h2.4M120 500h2.4M182 500h2.4M188 500h2.4M198 500h4.4M122 506h2.4M182 506h2.4M188 506h2.4M238 506h2.4M116 512h2.4M180 512h2.4M186 512h4.4M118 518h2.4M186 518h4.4M198 518h2.4M242 518h2.4M274 518h2.4M116 524h2.4M178 524h2.4M62 530h2.4M120 530h2.4M238 530h2.4M56 542h2.4M60 542h2.4M176 542h2.4M270 542h4.4M280 542h2.4M270 548h2.4M280 548h2.4"/>
<path stroke="#a8a8a8" d="M94 356h4.4M100 356h2.4M226 356h4.4M256 356h2.4M74 362h2.4M100 362h2.4M226 362h2.4M92 368h2.4M98 368h2.4M210 368h2.4M218 368h2.4M94 374h2.4M222 374h2.4M190 380h2.4M226 380h2.4M254 380h2.4M208 386h2.4M214 386h2.4M90 392h2.4M224 392h2.4M206 398h2.4M224 398h2.4M232 398h2.4M68 404h2.4M132 404h2.4M218 404h2.4M224 404h2.4M194 410h2.4M204 410h2.4M212 410h2.4M66 416h2.4M222 416h2.4M66 422h2.4M102 422h2.4M130 422h2.4M194 422h2.4M222 422h2.4M232 422h2.4M66 428h2.4M82 428h2.4M186 428h2.4M190 428h4.4M202 428h2.4M212 428h2.4M224 428h2.4M242 428h2.4M66 434h2.4M80 434h4.4M224 434h2.4M228 434h2.4M66 440h2.4M74 440h2.4M192 440h2.4M210 440h2.4M220 440h2.4M224 440h2.4M70 446h2.4M78 446h2.4M124 446h2.4M210 446h2.4M64 452h2.4M72 452h4.4M80 452h2.4M112 452h2.4M64 458h2.4M190 458h2.4M228 458h2.4M118 464h2.4M190 464h2.4M200 464h2.4M218 464h2.4M242 464h2.4M70 470h2.4M118 470h2.4M188 470h4.4M68 476h2.4M118 476h2.4M190 476h2.4M202 476h2.4M72 482h6.4M94 482h2.4M118 482h2.4M122 482h2.4M188 482h4.4M220 482h2.4M188 488h2.4M60 494h2.4M74 494h2.4M214 494h4.4M122 500h2.4M184 500h2.4M214 500h2.4M272 500h2.4M186 506h2.4M200 506h2.4M214 506h2.4M182 512h2.4M200 512h2.4M216 512h2.4M238 512h4.4M58 518h2.4M180 518h4.4M118 524h2.4M186 524h4.4M196 524h4.4M236 524h4.4M274 524h2.4M60 530h2.4M116 530h2.4M178 530h2.4M184 530h2.4M60 536h2.4M270 536h2.4M118 542h2.4M220 542h2.4M236 542h2.4M330 542h2.4M60 548h2.4M118 548h2.4M220 548h2.4M236 548h2.4M330 548h2.4"/>
<path stroke="#aeaeae" d="M84 356h2.4M98 356h2.4M102 356h2.4M136 356h2.4M224 356h2.4M248 356h2.4M286 356h2.4M96 362h4.4M214 362h2.4M256 362h2.4M72 368h2.4M100 368h2.4M226 368h2.4M76 374h2.4M98 374h4.4M226 374h2.4M246 374h2.4M254 374h2.4M72 380h2.4M134 380h2.4M212 380h4.4M234 380h2.4M70 386h2.4M212 386h2.4M220 386h2.4M234 386h2.4M254 386h2.4M196 392h2.4M206 392h2.4M212 392h2.4M216 392h2.4M234 392h2.4M70 398h2.4M212 398h2.4M244 398h2.4M188 404h2.4M212 404h2.4M68 410h2.4M90 410h2.4M102 410h2.4M214 410h2.4M68 416h2.4M84 416h2.4M230 416h2.4M72 422h2.4M82 422h2.4M190 422h4.4M242 422h2.4M122 428h2.4M188 428h2.4M222 428h2.4M98 434h2.4M210 434h2.4M222 434h2.4M332 434h2.4M82 440h2.4M120 440h2.4M228 440h2.4M332 440h2.4M100 446h2.4M112 446h2.4M122 446h2.4M192 446h2.4M220 446h2.4M96 452h2.4M122 452h2.4M190 452h2.4M210 452h2.4M74 458h2.4M80 458h2.4M118 458h2.4M200 458h2.4M208 458h2.4M222 458h2.4M64 464h2.4M208 464h2.4M78 470h2.4M90 470h2.4M110 470h2.4M212 470h2.4M218 470h2.4M62 476h2.4M94 476h4.4M110 476h2.4M188 476h2.4M276 476h2.4M68 482h2.4M274 482h4.4M72 488h2.4M94 488h2.4M122 488h2.4M186 488h2.4M190 488h2.4M62 494h2.4M122 494h2.4M190 494h2.4M198 494h2.4M66 500h2.4M190 500h2.4M216 500h4.4M242 500h2.4M70 506h2.4M108 506h2.4M116 506h2.4M120 506h2.4M184 506h2.4M190 506h2.4M216 506h2.4M120 512h2.4M214 512h2.4M64 518h2.4M120 518h2.4M196 518h2.4M200 518h2.4M238 518h2.4M120 524h2.4M180 524h6.4M214 524h2.4M242 524h2.4M118 530h2.4M188 530h2.4M196 530h4.4M236 530h2.4M270 530h2.4M334 530h2.4M62 536h2.4M116 536h4.4M184 536h2.4M236 536h2.4M330 536h2.4M116 542h2.4M186 542h2.4M234 542h2.4M332 542h2.4M56 548h2.4M116 548h2.4M176 548h2.4M182 548h2.4M186 548h2.4M212 548h2.4M272 548h2.4M332 548h2.4"/>
<path stroke="#b3b3b3" d="M74 356h2.4M198 356h2.4M92 362h2.4M102 362h2.4M192 362h2.4M198 362h2.4M210 362h2.4M216 362h2.4M286 362h2.4M198 368h2.4M254 368h4.4M286 368h2.4M72 374h2.4M214 374h2.4M218 374h2.4M94 380h2.4M98 380h4.4M208 380h2.4M90 386h2.4M98 386h2.4M196 386h2.4M206 386h2.4M70 392h2.4M98 392h2.4M130 392h2.4M192 392h2.4M252 392h4.4M74 398h2.4M92 398h2.4M130 398h4.4M196 398h2.4M252 398h2.4M102 404h2.4M124 404h2.4M130 404h2.4M194 404h2.4M204 404h2.4M210 404h2.4M334 404h2.4M84 410h2.4M130 410h2.4M334 410h2.4M100 416h2.4M130 416h2.4M190 416h2.4M334 416h2.4M84 422h2.4M122 422h2.4M202 422h2.4M208 422h2.4M216 422h2.4M334 422h2.4M102 428h2.4M114 428h2.4M128 428h2.4M194 428h2.4M210 428h2.4M280 428h2.4M332 428h4.4M74 434h2.4M114 434h2.4M122 434h2.4M244 434h2.4M122 440h4.4M206 440h2.4M222 440h2.4M230 440h2.4M72 446h2.4M200 446h2.4M214 446h2.4M228 446h2.4M332 446h2.4M70 452h2.4M92 452h2.4M192 452h2.4M200 452h2.4M208 452h2.4M228 452h2.4M330 452h2.4M70 458h2.4M76 458h2.4M92 458h2.4M112 458h2.4M204 458h2.4M70 464h2.4M74 464h2.4M90 464h2.4M98 464h2.4M110 464h2.4M208 470h2.4M276 470h2.4M74 476h2.4M90 476h2.4M274 476h2.4M62 482h2.4M90 482h2.4M110 482h2.4M202 482h2.4M256 482h2.4M62 488h2.4M68 488h2.4M76 488h2.4M202 488h2.4M240 488h2.4M276 488h2.4M68 494h2.4M72 494h2.4M186 494h2.4M202 494h2.4M60 500h2.4M68 500h2.4M72 500h4.4M108 500h2.4M186 500h2.4M202 500h2.4M212 500h2.4M68 506h2.4M72 506h2.4M240 506h2.4M68 512h6.4M108 512h2.4M184 512h2.4M190 512h2.4M68 518h2.4M184 518h2.4M214 518h2.4M316 518h2.4M58 524h4.4M68 524h2.4M270 524h2.4M316 524h2.4M334 524h2.4M68 530h2.4M180 530h4.4M186 530h2.4M242 530h2.4M274 530h2.4M68 536h2.4M178 536h6.4M186 536h4.4M196 536h2.4M332 536h4.4M68 542h2.4M178 542h6.4M178 548h4.4M328 548h2.4"/>
<path stroke="#b8b8b8" d="M78 356h2.4M82 356h2.4M92 356h2.4M122 356h2.4M196 356h2.4M202 356h2.4M210 356h2.4M216 356h2.4M288 356h2.4M296 356h2.4M82 362h4.4M202 362h2.4M82 368h2.4M96 368h2.4M132 368h2.4M194 368h2.4M214 368h2.4M222 368h2.4M82 374h2.4M132 374h4.4M194 374h2.4M208 374h2.4M76 380h2.4M126 380h2.4M132 380h2.4M196 380h2.4M206 380h2.4M246 380h2.4M100 386h2.4M126 386h2.4M130 386h4.4M190 386h4.4M96 392h2.4M132 392h2.4M86 398h2.4M98 398h2.4M192 398h2.4M216 398h4.4M334 398h2.4M84 404h4.4M116 404h2.4M196 404h2.4M232 404h2.4M252 404h2.4M282 404h2.4M116 410h2.4M124 410h2.4M188 410h4.4M282 410h2.4M82 416h2.4M88 416h4.4M192 416h2.4M202 416h2.4M232 416h2.4M282 416h2.4M76 422h2.4M88 422h2.4M114 422h2.4M188 422h2.4M230 422h2.4M332 422h2.4M76 428h2.4M80 428h2.4M88 428h2.4M200 428h2.4M244 428h2.4M120 434h2.4M126 434h2.4M200 434h2.4M212 434h2.4M230 434h2.4M280 434h2.4M334 434h2.4M78 440h2.4M112 440h2.4M200 440h2.4M244 440h2.4M82 446h2.4M92 446h2.4M222 446h2.4M330 446h2.4M118 452h2.4M220 452h4.4M278 452h2.4M332 452h2.4M192 458h2.4M330 458h2.4M80 464h2.4M92 464h2.4M112 464h2.4M276 464h2.4M74 470h2.4M94 470h2.4M206 470h2.4M78 476h2.4M116 476h2.4M192 476h2.4M206 476h2.4M218 476h4.4M256 476h2.4M206 482h2.4M218 482h2.4M90 488h2.4M110 488h2.4M198 488h2.4M218 488h2.4M256 488h2.4M108 494h2.4M210 494h2.4M218 494h2.4M272 494h2.4M276 494h2.4M318 494h2.4M116 500h2.4M210 500h2.4M276 500h2.4M318 500h2.4M66 506h2.4M202 506h2.4M276 506h2.4M318 506h2.4M196 512h2.4M276 512h2.4M316 512h4.4M60 518h2.4M70 518h2.4M108 518h2.4M190 518h2.4M270 518h2.4M334 518h2.4M64 524h2.4M70 524h2.4M282 524h2.4M70 530h2.4M282 530h2.4M316 530h2.4M330 530h4.4M94 536h2.4M114 536h2.4M242 536h2.4M280 536h2.4M314 536h2.4M62 542h2.4M114 542h2.4M184 542h2.4M188 542h2.4M196 542h2.4M314 542h2.4M334 542h2.4M58 548h2.4M68 548h2.4M114 548h2.4M188 548h2.4M196 548h2.4M234 548h2.4"/>
<path stroke="#bebebe" d="M194 356h2.4M78 362h2.4M134 362h2.4M194 362h4.4M208 362h2.4M254 362h2.4M296 362h2.4M102 368h2.4M120 368h2.4M134 368h2.4M192 368h2.4M196 368h2.4M202 368h2.4M208 368h2.4M80 374h2.4M96 374h2.4M120 374h2.4M196 374h4.4M206 374h2.4M256 374h2.4M286 374h2.4M80 380h4.4M90 380h2.4M96 380h2.4M192 380h4.4M200 380h2.4M220 380h2.4M284 380h2.4M80 386h2.4M96 386h2.4M118 386h2.4M252 386h2.4M284 386h2.4M86 392h2.4M118 392h2.4M126 392h2.4M202 392h2.4M284 392h2.4M306 392h2.4M334 392h2.4M96 398h2.4M102 398h2.4M116 398h2.4M124 398h2.4M194 398h2.4M202 398h4.4M254 398h2.4M306 398h2.4M74 404h2.4M78 404h2.4M98 404h2.4M190 404h4.4M202 404h2.4M244 404h2.4M86 410h4.4M192 410h2.4M196 410h2.4M200 410h4.4M210 410h2.4M232 410h2.4M252 410h2.4M76 416h2.4M116 416h2.4M122 416h4.4M128 416h2.4M188 416h2.4M200 416h2.4M214 416h2.4M304 416h2.4M332 416h2.4M128 422h2.4M200 422h2.4M210 422h2.4M280 422h2.4M72 428h2.4M84 428h2.4M230 428h2.4M76 434h2.4M88 434h2.4M124 434h2.4M194 434h2.4M72 440h2.4M92 440h2.4M114 440h2.4M280 440h2.4M330 440h2.4M334 440h2.4M208 446h2.4M278 446h2.4M76 452h2.4M90 458h2.4M210 458h2.4M220 458h2.4M278 458h2.4M192 464h2.4M204 464h4.4M330 464h2.4M98 470h2.4M116 470h2.4M192 470h2.4M208 476h2.4M88 482h2.4M116 482h2.4M192 482h2.4M198 482h2.4M204 482h2.4M88 488h2.4M92 488h2.4M108 488h2.4M116 488h2.4M192 488h2.4M204 488h4.4M88 494h6.4M110 494h2.4M116 494h2.4M204 494h2.4M240 494h6.4M88 500h2.4M240 500h2.4M244 500h2.4M60 506h2.4M60 512h2.4M202 512h2.4M72 518h2.4M276 518h2.4M318 518h2.4M332 518h2.4M190 524h2.4M200 524h2.4M332 524h2.4M58 530h2.4M66 530h2.4M94 530h2.4M114 530h2.4M314 530h2.4M58 536h2.4M66 536h2.4M70 536h2.4M80 536h2.4M194 536h2.4M198 536h2.4M274 536h2.4M316 536h2.4M58 542h2.4M66 542h2.4M80 542h2.4M94 542h2.4M194 542h2.4M328 542h2.4M66 548h2.4M78 548h2.4M184 548h2.4M194 548h2.4M314 548h2.4M324 548h2.4M334 548h2.4"/>
<path stroke="#c3c3c3" d="M80 356h2.4M128 356h2.4M134 356h2.4M200 356h2.4M204 356h2.4M208 356h2.4M220 356h2.4M254 356h2.4M258 356h2.4M80 362h2.4M120 362h2.4M128 362h2.4M132 362h2.4M200 362h2.4M204 362h2.4M222 362h2.4M248 362h2.4M80 368h2.4M84 368h2.4M128 368h2.4M200 368h2.4M204 368h4.4M296 368h2.4M90 374h2.4M126 374h2.4M192 374h2.4M200 374h6.4M284 374h2.4M118 380h4.4M130 380h2.4M198 380h2.4M202 380h4.4M218 380h2.4M256 380h2.4M294 380h2.4M76 386h2.4M94 386h2.4M116 386h2.4M194 386h2.4M198 386h8.4M218 386h2.4M78 392h4.4M100 392h2.4M116 392h2.4M190 392h2.4M194 392h2.4M198 392h2.4M204 392h2.4M218 392h2.4M260 392h2.4M78 398h2.4M84 398h2.4M88 398h2.4M114 398h2.4M118 398h2.4M190 398h2.4M198 398h2.4M282 398h2.4M88 404h2.4M96 404h2.4M104 404h2.4M114 404h2.4M128 404h2.4M200 404h2.4M274 404h2.4M306 404h2.4M82 410h2.4M100 410h2.4M104 410h2.4M114 410h2.4M128 410h2.4M244 410h2.4M274 410h2.4M304 410h2.4M114 416h2.4M196 416h2.4M210 416h2.4M216 416h2.4M258 416h2.4M274 416h2.4M90 422h2.4M124 422h2.4M244 422h2.4M272 422h2.4M282 422h2.4M304 422h2.4M74 428h2.4M94 428h2.4M98 428h2.4M124 428h4.4M198 428h2.4M208 428h2.4M250 428h2.4M272 428h2.4M308 428h2.4M72 434h2.4M94 434h2.4M112 434h2.4M198 434h2.4M76 440h2.4M88 440h2.4M198 440h2.4M256 440h2.4M278 440h2.4M306 440h2.4M76 446h2.4M86 446h2.4M96 446h2.4M118 446h2.4M198 446h2.4M206 446h2.4M306 446h2.4M322 446h2.4M82 452h2.4M86 452h2.4M100 452h2.4M198 452h2.4M306 452h2.4M322 452h2.4M86 458h2.4M110 458h2.4M198 458h2.4M276 458h2.4M304 458h2.4M332 458h2.4M86 464h2.4M94 464h2.4M198 464h2.4M220 464h2.4M254 464h2.4M258 464h2.4M278 464h2.4M328 464h2.4M80 470h2.4M86 470h2.4M92 470h2.4M198 470h2.4M204 470h2.4M220 470h2.4M242 470h2.4M254 470h6.4M274 470h2.4M320 470h2.4M328 470h2.4M86 476h4.4M92 476h2.4M198 476h2.4M204 476h2.4M254 476h2.4M258 476h2.4M320 476h2.4M328 476h2.4M78 482h2.4M84 482h2.4M92 482h2.4M96 482h2.4M108 482h2.4M244 482h2.4M254 482h2.4M320 482h2.4M84 488h2.4M244 488h2.4M254 488h2.4M272 488h2.4M278 488h2.4M318 488h4.4M84 494h2.4M94 494h2.4M192 494h2.4M206 494h2.4M254 494h4.4M278 494h2.4M84 500h2.4M90 500h4.4M110 500h2.4M192 500h2.4M204 500h2.4M254 500h2.4M278 500h2.4M74 506h2.4M82 506h2.4M88 506h2.4M204 506h2.4M210 506h4.4M244 506h2.4M316 506h2.4M334 506h2.4M66 512h2.4M82 512h2.4M96 512h2.4M212 512h2.4M332 512h4.4M66 518h2.4M82 518h2.4M96 518h2.4M106 518h2.4M212 518h2.4M282 518h2.4M66 524h2.4M82 524h2.4M106 524h4.4M114 524h2.4M212 524h2.4M318 524h2.4M328 524h4.4M64 530h2.4M80 530h2.4M106 530h2.4M190 530h2.4M326 530h2.4M106 536h2.4M190 536h2.4M282 536h2.4M326 536h4.4M78 542h2.4M106 542h2.4M212 542h2.4M242 542h2.4M316 542h2.4M324 542h4.4M62 548h2.4M80 548h2.4M92 548h4.4M190 548h4.4"/>
<path stroke="#c9c9c9" d="M104 356h2.4M108 356h4.4M120 356h2.4M206 356h2.4M108 362h2.4M122 362h2.4M206 362h2.4M220 362h2.4M258 362h2.4M288 362h2.4M78 368h2.4M90 368h2.4M108 368h2.4M258 368h2.4M78 374h2.4M102 374h2.4M118 374h2.4M220 374h2.4M78 380h2.4M116 380h2.4M252 380h2.4M308 380h2.4M78 386h2.4M82 386h2.4M86 386h4.4M256 386h2.4M260 386h2.4M294 386h2.4M306 386h2.4M88 392h2.4M102 392h4.4M114 392h2.4M124 392h2.4M200 392h2.4M104 398h2.4M200 398h2.4M284 398h2.4M92 404h2.4M118 404h2.4M198 404h2.4M216 404h2.4M304 404h2.4M74 410h6.4M96 410h4.4M198 410h2.4M216 410h2.4M258 410h2.4M332 410h2.4M86 416h2.4M96 416h2.4M126 416h2.4M198 416h2.4M244 416h2.4M252 416h2.4M272 416h2.4M74 422h2.4M80 422h2.4M86 422h2.4M94 422h2.4M116 422h2.4M126 422h2.4M196 422h4.4M214 422h2.4M250 422h2.4M258 422h2.4M308 422h2.4M256 428h2.4M324 428h2.4M78 434h2.4M84 434h4.4M92 434h2.4M102 434h2.4M208 434h2.4M256 434h2.4M272 434h2.4M302 434h2.4M308 434h2.4M330 434h2.4M86 440h2.4M94 440h2.4M194 440h2.4M208 440h2.4M212 440h4.4M302 440h2.4M322 440h2.4M114 446h2.4M244 446h2.4M256 446h2.4M280 446h2.4M334 446h2.4M90 452h2.4M276 452h2.4M296 452h2.4M304 452h2.4M194 458h2.4M206 458h2.4M254 458h2.4M258 458h2.4M296 458h2.4M322 458h2.4M328 458h2.4M116 464h2.4M194 464h2.4M212 464h2.4M256 464h2.4M304 464h2.4M320 464h2.4M332 464h2.4M88 470h2.4M112 470h2.4M194 470h2.4M246 470h2.4M278 470h2.4M316 470h2.4M330 470h2.4M80 476h2.4M84 476h2.4M98 476h2.4M244 476h2.4M252 476h2.4M278 476h2.4M316 476h2.4M80 482h2.4M86 482h2.4M98 482h2.4M208 482h2.4M252 482h2.4M278 482h2.4M314 482h6.4M328 482h2.4M78 488h4.4M96 488h4.4M114 488h2.4M210 488h2.4M314 488h2.4M326 488h2.4M334 488h2.4M76 494h2.4M98 494h2.4M114 494h2.4M314 494h2.4M320 494h2.4M326 494h2.4M334 494h2.4M82 500h2.4M206 500h2.4M334 500h2.4M84 506h4.4M96 506h2.4M192 506h2.4M196 506h2.4M254 506h2.4M278 506h2.4M332 506h2.4M80 512h2.4M86 512h4.4M106 512h2.4M204 512h2.4M270 512h2.4M328 512h2.4M80 518h2.4M86 518h4.4M114 518h2.4M202 518h4.4M328 518h4.4M72 524h2.4M78 524h4.4M86 524h2.4M94 524h4.4M276 524h2.4M314 524h2.4M82 530h6.4M194 530h2.4M318 530h2.4M328 530h2.4M64 536h2.4M78 536h2.4M84 536h4.4M324 536h2.4M64 542h2.4M76 542h2.4M84 542h2.4M190 542h2.4M198 542h2.4M64 548h2.4M76 548h2.4M82 548h4.4M106 548h2.4M112 548h2.4M242 548h2.4M312 548h2.4M322 548h2.4M326 548h2.4"/>
<path stroke="#cecece" d="M132 356h2.4M222 356h2.4M260 356h4.4M330 356h2.4M104 362h2.4M312 362h2.4M118 368h2.4M126 368h2.4M262 368h2.4M284 368h2.4M312 368h2.4M84 374h2.4M106 374h4.4M116 374h2.4M128 374h2.4M252 374h2.4M294 374h2.4M308 374h2.4M88 380h2.4M104 380h2.4M260 380h2.4M286 380h2.4M104 386h2.4M120 386h2.4M246 386h2.4M308 386h2.4M76 392h2.4M84 392h2.4M256 392h2.4M270 392h2.4M276 392h2.4M294 392h2.4M80 398h2.4M100 398h2.4M126 398h4.4M260 398h2.4M274 398h4.4M82 404h2.4M100 404h2.4M254 404h2.4M258 404h2.4M268 404h2.4M310 404h2.4M122 410h2.4M126 410h2.4M268 410h2.4M310 410h2.4M74 416h2.4M78 416h2.4M94 416h2.4M104 416h2.4M112 416h2.4M250 416h2.4M268 416h2.4M280 416h2.4M308 416h2.4M324 416h2.4M96 422h4.4M252 422h2.4M266 422h2.4M274 422h2.4M324 422h2.4M86 428h2.4M90 428h2.4M112 428h2.4M120 428h2.4M196 428h2.4M258 428h2.4M270 428h2.4M282 428h2.4M302 428h4.4M196 434h2.4M214 434h2.4M250 434h2.4M270 434h2.4M278 434h2.4M306 434h2.4M322 434h4.4M84 440h2.4M196 440h2.4M270 440h2.4M324 440h2.4M88 446h2.4M94 446h2.4M194 446h4.4M296 446h2.4M302 446h2.4M94 452h2.4M194 452h4.4M206 452h2.4M254 452h4.4M334 452h2.4M82 458h2.4M94 458h2.4M196 458h2.4M256 458h2.4M320 458h2.4M334 458h2.4M88 464h2.4M196 464h2.4M210 464h2.4M246 464h2.4M274 464h2.4M296 464h2.4M316 464h2.4M322 464h2.4M84 470h2.4M196 470h2.4M280 470h2.4M304 470h2.4M332 470h4.4M108 476h2.4M112 476h2.4M194 476h2.4M242 476h2.4M246 476h2.4M280 476h2.4M314 476h2.4M318 476h2.4M330 476h2.4M334 476h2.4M82 482h2.4M114 482h2.4M194 482h2.4M258 482h2.4M280 482h2.4M326 482h2.4M330 482h2.4M334 482h2.4M82 488h2.4M86 488h2.4M242 488h2.4M252 488h2.4M280 488h2.4M316 488h2.4M78 494h6.4M86 494h2.4M96 494h2.4M250 494h2.4M280 494h2.4M316 494h2.4M80 500h2.4M86 500h2.4M96 500h2.4M114 500h2.4M314 500h4.4M320 500h2.4M326 500h2.4M330 500h4.4M80 506h2.4M90 506h4.4M106 506h2.4M110 506h2.4M320 506h2.4M328 506h4.4M84 512h2.4M90 512h2.4M114 512h2.4M192 512h2.4M210 512h2.4M244 512h2.4M278 512h2.4M330 512h2.4M78 518h2.4M84 518h2.4M84 524h2.4M88 524h2.4M324 524h4.4M78 530h2.4M96 530h2.4M108 530h2.4M200 530h2.4M212 530h2.4M324 530h2.4M76 536h2.4M82 536h2.4M212 536h2.4M70 542h2.4M82 542h2.4M86 542h2.4M92 542h2.4M112 542h2.4M192 542h2.4M274 542h2.4M322 542h2.4M268 548h2.4M316 548h2.4"/>
<path stroke="#d4d4d4" d="M106 356h2.4M118 356h2.4M312 356h2.4M90 362h2.4M106 362h2.4M110 362h2.4M118 362h2.4M260 362h4.4M284 362h2.4M106 368h2.4M116 368h2.4M122 368h2.4M220 368h2.4M252 368h2.4M88 374h2.4M104 374h2.4M130 374h2.4M258 374h4.4M296 374h2.4M310 374h4.4M86 380h2.4M102 380h2.4M106 380h4.4M306 380h2.4M84 386h2.4M102 386h2.4M124 386h2.4M270 386h2.4M276 386h2.4M334 386h2.4M82 392h2.4M94 392h2.4M120 392h2.4M282 392h2.4M310 392h2.4M76 398h2.4M82 398h2.4M94 398h2.4M250 398h2.4M258 398h2.4M268 398h4.4M304 398h2.4M310 398h2.4M76 404h2.4M80 404h2.4M94 404h2.4M126 404h2.4M250 404h2.4M260 404h2.4M270 404h2.4M276 404h2.4M284 404h2.4M332 404h2.4M94 410h2.4M112 410h2.4M118 410h2.4M250 410h2.4M272 410h2.4M324 410h2.4M80 416h2.4M98 416h2.4M266 416h2.4M310 416h2.4M78 422h2.4M112 422h2.4M256 422h2.4M268 422h4.4M78 428h2.4M96 428h2.4M116 428h2.4M214 428h2.4M266 428h2.4M278 428h2.4M322 428h2.4M330 428h2.4M96 434h2.4M96 440h2.4M118 440h2.4M248 440h2.4M272 440h2.4M298 440h2.4M308 440h2.4M84 446h2.4M212 446h2.4M248 446h2.4M270 446h2.4M276 446h2.4M292 446h2.4M298 446h2.4M304 446h2.4M324 446h2.4M84 452h2.4M88 452h2.4M110 452h2.4M114 452h2.4M248 452h2.4M258 452h2.4M280 452h2.4M298 452h2.4M302 452h2.4M316 452h2.4M320 452h2.4M328 452h2.4M84 458h2.4M88 458h2.4M100 458h2.4M116 458h2.4M212 458h2.4M246 458h2.4M280 458h2.4M306 458h2.4M316 458h2.4M82 464h4.4M280 464h2.4M334 464h2.4M82 470h2.4M244 470h2.4M252 470h2.4M314 470h2.4M318 470h2.4M322 470h2.4M82 476h2.4M196 476h2.4M304 476h2.4M332 476h2.4M196 482h2.4M210 482h2.4M242 482h2.4M272 482h2.4M282 482h2.4M194 488h2.4M250 488h2.4M294 488h2.4M328 488h4.4M194 494h2.4M252 494h2.4M312 494h2.4M328 494h6.4M76 500h4.4M98 500h2.4M106 500h2.4M196 500h2.4M250 500h2.4M256 500h2.4M280 500h2.4M284 500h2.4M312 500h2.4M328 500h2.4M112 506h4.4M206 506h2.4M270 506h2.4M284 506h2.4M292 506h2.4M312 506h4.4M324 506h4.4M78 512h2.4M110 512h2.4M282 512h2.4M292 512h2.4M312 512h4.4M320 512h2.4M324 512h4.4M90 518h2.4M192 518h2.4M244 518h2.4M312 518h4.4M324 518h4.4M192 524h4.4M202 524h4.4M312 524h2.4M76 530h2.4M88 530h2.4M192 530h2.4M280 530h2.4M96 536h2.4M192 536h2.4M202 542h2.4M268 542h2.4M282 542h2.4M312 542h2.4M74 548h2.4M86 548h2.4"/>
<path stroke="#d9d9d9" d="M86 356h2.4M90 356h2.4M130 356h2.4M284 356h2.4M332 356h2.4M252 362h2.4M330 362h2.4M88 368h2.4M104 368h2.4M248 368h2.4M260 368h2.4M294 368h2.4M308 368h4.4M316 368h2.4M328 368h2.4M122 374h2.4M262 374h2.4M84 380h2.4M128 380h2.4M258 380h2.4M270 380h2.4M310 380h4.4M106 386h2.4M114 386h2.4M258 386h2.4M282 386h2.4M310 386h2.4M106 392h2.4M128 392h2.4M250 392h2.4M258 392h2.4M268 392h2.4M274 392h2.4M326 392h2.4M120 398h2.4M256 398h2.4M294 398h2.4M324 404h2.4M80 410h2.4M92 410h2.4M254 410h2.4M270 410h2.4M280 410h2.4M306 410h2.4M118 416h2.4M270 416h2.4M120 422h2.4M302 422h2.4M322 422h2.4M92 428h2.4M252 428h2.4M274 428h2.4M90 434h2.4M110 434h2.4M116 434h4.4M248 434h2.4M258 434h2.4M264 434h2.4M282 434h2.4M292 434h2.4M298 434h2.4M304 434h2.4M318 434h2.4M250 440h2.4M264 440h2.4M276 440h2.4M292 440h2.4M296 440h2.4M312 440h2.4M316 440h4.4M90 446h2.4M110 446h2.4M254 446h2.4M258 446h2.4M290 446h2.4M300 446h2.4M312 446h2.4M316 446h6.4M212 452h2.4M244 452h2.4M260 452h2.4M290 452h4.4M312 452h2.4M318 452h2.4M248 458h2.4M260 458h2.4M268 458h2.4M290 458h2.4M298 458h2.4M302 458h2.4M310 458h2.4M314 458h2.4M318 458h2.4M100 464h2.4M260 464h2.4M268 464h2.4M284 464h2.4M302 464h2.4M306 464h2.4M310 464h2.4M314 464h2.4M318 464h2.4M260 470h2.4M282 470h4.4M296 470h2.4M302 470h2.4M310 470h4.4M114 476h2.4M282 476h2.4M294 476h2.4M302 476h2.4M310 476h4.4M322 476h2.4M326 476h2.4M112 482h2.4M294 482h2.4M302 482h4.4M308 482h6.4M332 482h2.4M196 488h2.4M208 488h2.4M258 488h2.4M266 488h2.4M282 488h2.4M302 488h2.4M308 488h2.4M312 488h2.4M332 488h2.4M112 494h2.4M196 494h2.4M284 494h2.4M294 494h2.4M94 500h2.4M112 500h2.4M194 500h2.4M292 500h2.4M78 506h2.4M98 506h2.4M248 506h2.4M280 506h2.4M74 512h2.4M112 512h2.4M248 512h2.4M254 512h2.4M284 512h2.4M94 518h2.4M112 518h2.4M194 518h2.4M210 518h2.4M278 518h2.4M244 524h2.4M290 524h2.4M72 530h2.4M202 530h2.4M244 530h2.4M276 530h2.4M310 530h4.4M88 536h2.4M108 536h2.4M112 536h2.4M202 536h2.4M244 536h2.4M268 536h2.4M302 536h2.4M310 536h4.4M318 536h2.4M322 536h2.4M96 542h2.4M310 542h2.4M70 548h2.4M104 548h2.4M198 548h2.4M202 548h2.4M310 548h2.4"/>
<path stroke="#dedede" d="M252 356h2.4M314 356h6.4M86 362h4.4M126 362h2.4M310 362h2.4M316 362h2.4M328 362h2.4M130 368h2.4M272 368h2.4M288 368h2.4M86 374h2.4M270 374h2.4M328 374h2.4M262 380h2.4M276 380h2.4M326 380h2.4M250 386h2.4M268 386h2.4M286 386h2.4M312 386h2.4M326 386h2.4M246 392h2.4M308 392h2.4M312 392h2.4M106 398h2.4M312 398h2.4M324 398h4.4M120 404h4.4M272 404h2.4M292 404h4.4M326 404h2.4M246 410h2.4M260 410h2.4M266 410h2.4M284 410h2.4M292 410h4.4M308 410h2.4M322 410h2.4M326 410h2.4M120 416h2.4M246 416h2.4M256 416h2.4M292 416h4.4M322 416h2.4M326 416h2.4M92 422h2.4M104 422h2.4M118 422h2.4M246 422h2.4M278 422h2.4M292 422h2.4M310 422h2.4M318 422h4.4M110 428h2.4M118 428h2.4M248 428h2.4M264 428h2.4M268 428h2.4M292 428h2.4M298 428h2.4M318 428h4.4M266 434h4.4M316 434h2.4M320 434h2.4M90 440h2.4M102 440h2.4M110 440h2.4M116 440h2.4M258 440h4.4M268 440h2.4M282 440h2.4M290 440h2.4M300 440h2.4M304 440h2.4M320 440h2.4M116 446h2.4M260 446h2.4M268 446h2.4M308 446h2.4M314 446h2.4M328 446h2.4M116 452h2.4M246 452h2.4M262 452h2.4M268 452h4.4M286 452h2.4M300 452h2.4M310 452h2.4M314 452h2.4M324 452h2.4M114 458h2.4M244 458h2.4M262 458h2.4M274 458h2.4M284 458h2.4M294 458h2.4M300 458h2.4M312 458h2.4M244 464h2.4M252 464h2.4M282 464h2.4M290 464h2.4M294 464h2.4M312 464h2.4M100 470h2.4M108 470h2.4M114 470h2.4M210 470h2.4M268 470h2.4M294 470h2.4M308 470h2.4M326 470h2.4M260 476h2.4M272 476h2.4M284 476h2.4M296 476h2.4M308 476h2.4M246 482h2.4M250 482h2.4M266 482h2.4M284 482h2.4M322 482h2.4M112 488h2.4M284 488h2.4M304 488h4.4M310 488h2.4M106 494h2.4M258 494h2.4M282 494h2.4M292 494h2.4M302 494h2.4M306 494h4.4M252 500h2.4M282 500h2.4M306 500h2.4M324 500h2.4M76 506h2.4M194 506h2.4M250 506h4.4M256 506h2.4M264 506h2.4M282 506h2.4M92 512h2.4M194 512h2.4M252 512h2.4M264 512h2.4M110 518h2.4M248 518h2.4M252 518h2.4M290 518h2.4M304 518h2.4M310 518h2.4M320 518h2.4M76 524h2.4M90 524h2.4M112 524h2.4M210 524h2.4M246 524h2.4M310 524h2.4M112 530h2.4M204 530h2.4M246 530h2.4M290 530h2.4M302 530h2.4M322 530h2.4M72 536h4.4M92 536h2.4M200 536h2.4M246 536h2.4M74 542h2.4M244 542h2.4M302 542h2.4M274 548h2.4M278 548h2.4M282 548h2.4M296 548h2.4M300 548h4.4"/>
<path stroke="#e4e4e4" d="M88 356h2.4M124 356h2.4M270 356h2.4M310 356h2.4M328 356h2.4M116 362h2.4M130 362h2.4M270 362h4.4M314 362h2.4M318 362h2.4M86 368h2.4M110 368h2.4M268 368h4.4M268 374h2.4M272 374h2.4M276 374h2.4M306 374h2.4M314 374h4.4M326 374h2.4M122 380h4.4M250 380h2.4M268 380h2.4M282 380h2.4M296 380h2.4M314 380h2.4M328 380h2.4M108 386h2.4M122 386h2.4M128 386h2.4M262 386h2.4M304 392h2.4M324 392h2.4M122 398h2.4M246 398h2.4M266 398h2.4M272 398h2.4M280 398h2.4M292 398h2.4M308 398h2.4M106 404h2.4M112 404h2.4M246 404h2.4M256 404h2.4M266 404h2.4M280 404h2.4M312 404h2.4M322 404h2.4M120 410h2.4M256 410h2.4M276 410h2.4M320 410h2.4M92 416h2.4M254 416h2.4M278 416h2.4M302 416h2.4M314 416h2.4M318 416h4.4M110 422h2.4M248 422h2.4M264 422h2.4M294 422h2.4M298 422h2.4M314 422h2.4M326 422h2.4M330 422h2.4M246 428h2.4M306 428h2.4M310 428h2.4M314 428h4.4M326 428h2.4M246 434h2.4M260 434h4.4M276 434h2.4M296 434h2.4M300 434h2.4M312 434h4.4M254 440h2.4M262 440h2.4M314 440h2.4M108 446h2.4M246 446h2.4M262 446h4.4M272 446h2.4M282 446h2.4M286 446h2.4M294 446h2.4M310 446h2.4M108 452h2.4M282 452h2.4M288 452h2.4M294 452h2.4M308 452h2.4M270 458h2.4M282 458h2.4M286 458h4.4M292 458h2.4M324 458h2.4M114 464h2.4M248 464h2.4M262 464h2.4M286 464h4.4M298 464h2.4M308 464h2.4M286 470h6.4M306 470h2.4M100 476h2.4M210 476h2.4M266 476h4.4M286 476h2.4M306 476h2.4M260 482h2.4M286 482h2.4M306 482h2.4M106 488h2.4M246 488h2.4M286 488h2.4M322 488h2.4M208 494h2.4M266 494h2.4M304 494h2.4M310 494h2.4M324 494h2.4M248 500h2.4M270 500h2.4M294 500h2.4M302 500h4.4M308 500h4.4M94 506h2.4M304 506h4.4M310 506h2.4M76 512h2.4M94 512h2.4M98 512h2.4M206 512h2.4M256 512h2.4M280 512h2.4M290 512h2.4M304 512h4.4M310 512h2.4M74 518h4.4M104 518h2.4M208 518h2.4M246 518h2.4M254 518h2.4M284 518h2.4M292 518h2.4M104 524h2.4M110 524h2.4M248 524h2.4M252 524h2.4M278 524h4.4M302 524h4.4M74 530h2.4M104 530h2.4M268 530h2.4M298 530h2.4M304 530h2.4M104 536h2.4M276 536h2.4M298 536h2.4M72 542h2.4M88 542h2.4M104 542h2.4M108 542h2.4M246 542h2.4M300 542h2.4M72 548h2.4M96 548h2.4M110 548h2.4M200 548h2.4M210 548h2.4M244 548h4.4M308 548h2.4"/>
<path stroke="#e9e9e9" d="M112 356h2.4M126 356h2.4M264 356h2.4M272 356h2.4M326 356h2.4M124 362h2.4M268 362h2.4M308 362h2.4M326 362h2.4M332 362h2.4M276 368h2.4M314 368h2.4M318 368h2.4M326 368h2.4M330 368h2.4M110 374h2.4M124 374h2.4M248 374h4.4M278 374h2.4M282 374h2.4M272 380h2.4M278 380h2.4M316 380h2.4M324 380h2.4M334 380h2.4M266 386h2.4M272 386h4.4M278 386h2.4M296 386h2.4M314 386h2.4M324 386h2.4M328 386h2.4M108 392h2.4M122 392h2.4M266 392h2.4M280 392h2.4M296 392h2.4M248 398h2.4M296 398h2.4M322 398h2.4M332 398h2.4M248 404h2.4M278 404h2.4M296 404h2.4M300 404h2.4M308 404h2.4M316 404h2.4M106 410h2.4M248 410h2.4M278 410h2.4M318 410h2.4M248 416h2.4M260 416h2.4M264 416h2.4M284 416h2.4M298 416h2.4M306 416h2.4M254 422h2.4M260 422h4.4M306 422h2.4M316 422h2.4M254 428h2.4M260 428h4.4M276 428h2.4M294 428h2.4M312 428h2.4M252 434h4.4M274 434h2.4M290 434h2.4M294 434h2.4M310 434h2.4M326 434h2.4M246 440h2.4M294 440h2.4M250 446h2.4M288 446h2.4M284 452h2.4M108 458h2.4M308 458h2.4M108 464h2.4M270 464h2.4M300 464h2.4M326 464h2.4M106 470h2.4M106 476h2.4M288 476h2.4M100 482h2.4M106 482h2.4M268 482h2.4M296 482h2.4M260 488h2.4M292 488h2.4M246 494h2.4M270 494h2.4M286 494h2.4M300 494h2.4M322 494h2.4M208 500h2.4M246 500h2.4M258 500h2.4M264 500h2.4M300 500h2.4M322 500h2.4M208 506h2.4M246 506h2.4M300 506h4.4M308 506h2.4M208 512h2.4M246 512h2.4M250 512h2.4M300 512h4.4M308 512h2.4M92 518h2.4M98 518h2.4M264 518h2.4M280 518h2.4M300 518h4.4M306 518h4.4M74 524h2.4M98 524h2.4M254 524h2.4M268 524h2.4M300 524h2.4M308 524h2.4M320 524h4.4M90 530h4.4M98 530h2.4M110 530h2.4M210 530h2.4M252 530h2.4M262 530h2.4M308 530h2.4M98 536h2.4M110 536h2.4M262 536h2.4M288 536h4.4M300 536h2.4M304 536h2.4M308 536h2.4M102 542h2.4M110 542h2.4M200 542h2.4M210 542h2.4M288 542h2.4M296 542h4.4M308 542h2.4M318 542h2.4M102 548h2.4M320 548h2.4"/>
<path stroke="#efefef" d="M116 356h2.4M250 356h2.4M268 356h2.4M290 356h2.4M298 356h2.4M304 356h2.4M112 362h2.4M250 362h2.4M264 362h2.4M124 368h2.4M250 368h2.4M282 368h2.4M324 368h2.4M288 374h2.4M318 374h2.4M324 374h2.4M330 374h2.4M110 380h2.4M114 380h2.4M248 380h2.4M266 380h2.4M318 380h2.4M248 386h2.4M280 386h2.4M304 386h2.4M316 386h2.4M248 392h2.4M262 392h2.4M272 392h2.4M278 392h2.4M286 392h2.4M292 392h2.4M300 392h2.4M314 392h4.4M322 392h2.4M328 392h2.4M108 398h2.4M278 398h2.4M300 398h2.4M314 398h4.4M264 404h2.4M318 404h4.4M264 410h2.4M296 410h8.4M312 410h6.4M106 416h2.4M276 416h2.4M316 416h2.4M106 422h2.4M276 422h2.4M312 422h2.4M104 428h2.4M300 428h2.4M108 440h2.4M266 440h2.4M286 440h4.4M310 440h2.4M326 440h4.4M102 446h2.4M274 452h2.4M252 458h2.4M326 458h2.4M106 464h2.4M292 464h2.4M324 464h2.4M248 470h2.4M262 470h2.4M266 470h2.4M270 470h4.4M300 470h2.4M324 470h2.4M250 476h2.4M290 476h2.4M300 476h2.4M288 482h2.4M292 482h2.4M300 482h2.4M324 482h2.4M100 488h2.4M288 488h2.4M300 488h2.4M324 488h2.4M248 494h2.4M260 494h2.4M264 494h2.4M288 494h2.4M266 500h2.4M286 500h2.4M258 506h2.4M290 506h2.4M322 506h2.4M104 512h2.4M258 512h2.4M322 512h2.4M206 518h2.4M256 518h4.4M322 518h2.4M92 524h2.4M208 524h2.4M262 524h2.4M284 524h2.4M298 524h2.4M306 524h2.4M248 530h2.4M254 530h2.4M284 530h2.4M288 530h2.4M300 530h2.4M306 530h2.4M102 536h2.4M204 536h2.4M210 536h2.4M98 542h2.4M262 542h2.4M278 542h2.4M304 542h2.4M88 548h2.4M100 548h2.4M108 548h2.4M208 548h2.4M298 548h2.4M304 548h4.4"/>
<path stroke="#f4f4f4" d="M114 356h2.4M266 356h2.4M278 356h2.4M308 356h2.4M320 356h2.4M276 362h4.4M282 362h2.4M294 362h2.4M298 362h2.4M320 362h2.4M324 362h2.4M112 368h2.4M264 368h2.4M278 368h2.4M306 368h2.4M332 368h2.4M266 374h2.4M280 374h2.4M298 374h2.4M280 380h2.4M298 380h2.4M330 380h2.4M298 386h2.4M318 386h2.4M322 386h2.4M318 392h4.4M112 398h2.4M262 398h4.4M318 398h4.4M328 398h2.4M108 404h2.4M298 404h2.4M314 404h2.4M328 404h2.4M262 410h2.4M110 416h2.4M262 416h2.4M296 416h2.4M300 416h2.4M312 416h2.4M330 416h2.4M284 422h2.4M300 422h2.4M106 428h2.4M290 428h2.4M296 428h2.4M104 434h2.4M288 434h2.4M252 440h2.4M274 446h2.4M284 446h2.4M326 446h2.4M102 452h2.4M250 452h2.4M264 452h2.4M272 452h2.4M326 452h2.4M102 458h2.4M266 464h2.4M292 470h2.4M298 470h2.4M270 476h2.4M292 476h2.4M324 476h2.4M270 482h2.4M290 482h2.4M104 488h2.4M248 488h2.4M268 488h4.4M296 488h2.4M100 494h2.4M104 494h2.4M104 500h2.4M260 500h2.4M288 500h4.4M104 506h2.4M260 506h2.4M286 506h2.4M294 506h2.4M102 512h2.4M260 512h2.4M286 512h2.4M100 518h4.4M250 518h2.4M262 518h2.4M268 518h2.4M100 524h4.4M256 524h4.4M264 524h2.4M292 524h2.4M100 530h4.4M208 530h2.4M250 530h2.4M278 530h2.4M320 530h2.4M90 536h2.4M100 536h2.4M248 536h2.4M252 536h2.4M278 536h2.4M284 536h2.4M306 536h2.4M100 542h2.4M208 542h2.4M276 542h2.4M306 542h2.4M90 548h2.4M98 548h2.4M266 548h2.4M288 548h2.4"/>
<path stroke="#fafafa" d="M274 356h2.4M282 356h2.4M306 356h2.4M324 356h2.4M114 362h2.4M266 362h2.4M304 362h4.4M266 368h2.4M280 368h2.4M298 368h2.4M302 368h2.4M320 368h2.4M114 374h2.4M264 374h2.4M302 374h2.4M320 374h4.4M274 380h2.4M302 380h2.4M320 380h4.4M110 386h2.4M292 386h2.4M300 386h4.4M320 386h2.4M330 386h2.4M264 392h2.4M298 392h2.4M302 392h2.4M298 398h2.4M302 398h2.4M262 404h2.4M302 404h2.4M108 410h2.4M328 410h2.4M290 416h2.4M328 416h2.4M290 422h2.4M296 422h2.4M284 428h2.4M288 428h2.4M108 434h2.4M328 434h2.4M104 440h2.4M274 440h2.4M284 440h2.4M252 446h2.4M266 446h2.4M252 452h2.4M106 458h2.4M250 458h2.4M272 458h2.4M102 464h2.4M272 464h2.4M250 470h2.4M248 476h2.4M262 476h2.4M104 482h2.4M248 482h2.4M264 488h2.4M290 488h2.4M268 494h2.4M290 494h2.4M100 500h4.4M100 506h4.4M266 506h2.4M100 512h2.4M262 512h2.4M268 512h2.4M260 518h2.4M286 518h2.4M298 518h2.4M206 524h2.4M250 524h2.4M288 524h2.4M258 530h2.4M208 536h2.4M250 536h2.4M254 536h2.4M296 536h2.4M320 536h2.4M90 542h2.4M204 542h2.4M248 542h8.4M266 542h2.4M284 542h2.4M290 542h2.4M320 542h2.4M256 548h2.4M260 548h4.4M294 548h2.4M318 548h2.4"/>
<path stroke="#ffffff" d="M276 356h2.4M280 356h2.4M292 356h4.4M300 356h4.4M322 356h2.4M334 356h2.4M274 362h2.4M280 362h2.4M290 362h4.4M300 362h4.4M322 362h2.4M334 362h2.4M114 368h2.4M274 368h2.4M290 368h4.4M300 368h2.4M304 368h2.4M322 368h2.4M334 368h2.4M112 374h2.4M274 374h2.4M290 374h4.4M300 374h2.4M304 374h2.4M332 374h4.4M112 380h2.4M264 380h2.4M288 380h6.4M300 380h2.4M304 380h2.4M332 380h2.4M112 386h2.4M264 386h2.4M288 386h4.4M332 386h2.4M110 392h4.4M288 392h4.4M330 392h4.4M110 398h2.4M286 398h6.4M330 398h2.4M110 404h2.4M286 404h6.4M330 404h2.4M110 410h2.4M286 410h6.4M330 410h2.4M108 416h2.4M286 416h4.4M108 422h2.4M286 422h4.4M328 422h2.4M108 428h2.4M286 428h2.4M328 428h2.4M106 434h2.4M284 434h4.4M106 440h2.4M104 446h4.4M104 452h4.4M266 452h2.4M104 458h2.4M264 458h4.4M104 464h2.4M250 464h2.4M264 464h2.4M102 470h4.4M264 470h2.4M102 476h4.4M264 476h2.4M298 476h2.4M102 482h2.4M262 482h4.4M298 482h2.4M102 488h2.4M262 488h2.4M298 488h2.4M102 494h2.4M262 494h2.4M296 494h4.4M262 500h2.4M268 500h2.4M296 500h4.4M262 506h2.4M268 506h2.4M288 506h2.4M296 506h4.4M266 512h2.4M288 512h2.4M294 512h6.4M266 518h2.4M288 518h2.4M294 518h4.4M260 524h2.4M266 524h2.4M286 524h2.4M294 524h4.4M206 530h2.4M256 530h2.4M260 530h2.4M264 530h4.4M286 530h2.4M292 530h6.4M206 536h2.4M256 536h6.4M264 536h4.4M286 536h2.4M292 536h4.4M206 542h2.4M256 542h6.4M264 542h2.4M286 542h2.4M292 542h4.4M204 548h4.4M248 548h8.4M258 548h2.4M264 548h2.4M276 548h2.4M284 548h4.4M290 548h4.4"/>
</g></g>
<g clip-path="url(#hB)">
<path d="M56.06 354 56.46 356 56.61 358 56.75 360 56.78 362 56.9 364 57.06 366 57.04 368 57.55 370 57.3 372 57.11 374 57.06 376 57.02 378 56.75 380 56.83 382 56.74 384 56.39 386 56.16 388 56.31 390 56.3 392 55.81 394 55.93 396 55.86 398 55.79 400 55.31 402 55.18 404 55.45 406 54.95 408 54.86 410 54.91 412 54.73 414 54.74 416 54.36 418 54.56 420 54.13 422 54.24 424 53.81 426 53.15 428 52.13 430 51.42 432 51.08 434.17 50.93 436.33 50.48 438.5 49.97 440.67 50.05 442.83 49.67 445 49.15 447 48.32 449 47.85 451 47.64 453 47.46 455 47.28 457 47.35 459 47.05 461 46.93 463 47.1 465 46.8 467" fill="none" stroke="#ffa500" stroke-width="1.3" stroke-linejoin="round"/>
<path d="M51.19 391 51.56 389 52.27 387 52.3 389 52.61 391 52.7 393 53.01 395 53.17 397.14 53.24 399.29 53.3 401.43 53.59 403.57 53.74 405.71 53.54 407.86 53.64 410 53.68 412 54.11 414 54.14 416 53.88 418 54.26 420 53.97 422 54.15 424 54.2 426 52.68 426 52.17 424 52.17 422 52.17 420 51.81 418 51.76 416 51.73 414 51.79 412 51.61 410 51.54 408 51.41 406 51.29 404 51.25 402 51.08 400 51.15 397.75 51.01 395.5 51 393.25Z" fill="none" stroke="#ffa500" stroke-width="1.2" stroke-linejoin="round"/>
<path d="M50.14 354 49.75 356 50.11 358 49.87 360 49.65 362 49.93 364 49.43 366 49.57 368 49.27 370 49.64 372 49.29 374 49.3 376 48.88 378 49.04 380 48.86 382 48.71 384 48.75 386 47.46 388 46.5 390" fill="none" stroke="#ff0000" stroke-width="1.4" stroke-linejoin="round"/>
<path d="M140.66 354 140.66 356.1 140.61 358.2 140.27 360.3 140.29 362.4 139.97 364.5 140 366.6 139.98 368.7 139.55 370.8 139.72 372.9 139.29 375 139.58 377 139.25 379 139.1 381 139.12 383 138.91 385 138.88 387 138.48 389 138.57 391 138.45 393 138.49 395 137.96 397.08 138.01 399.17 137.96 401.25 137.79 403.33 137.45 405.42 137.54 407.5 137.24 409.58 137.1 411.67 137.27 413.75 136.83 415.83 136.81 417.92 136.81 420 136.67 422 136.48 424 136.48 426 136.2 428 136.15 430 136.12 432 135.94 434 135.8 436 135.58 438 135.53 440 135.2 442.07 135.11 444.15 134.7 446.23 134.49 448.3 134.61 450.39 134.5 452.47 134.43 454.56 134.64 456.64 134.45 458.73 134.65 460.81 134.63 462.9 134.37 464.91 134.37 466.92 133.97 468.93 134.01 470.94 134.11 472.95 133.87 474.96 133.76 476.97 133.69 478.98 133.59 480.99 133.44 483 133.14 485.1 132.81 487.2 132.63 489.3 132.41 491.4 132.37 493.47 132.52 495.55 132.14 497.62 132.08 499.69 131.94 501.76 131.94 503.84 132 505.91 131.87 507.98 131.55 510.05 131.4 512.13 131.57 514.2 131.05 516.34 130.78 518.48 130.16 520.61 130.16 522.75 129.57 524.89 129.3 527.02 128.82 529.16 128.56 531.3 128.57 533.54 128.4 535.79 128.07 538.03 128.03 540.27 127.72 542.51 127.52 544.76 127.4 547" fill="none" stroke="#ffa500" stroke-width="1.3" stroke-linejoin="round"/>
<path d="M144.6 354 144.3 362" fill="none" stroke="#ffa500" stroke-width="1.3" stroke-linejoin="round"/>
<path d="M139.52 406.6 139.87 410 139.42 413.3 139.09 410Z" fill="none" stroke="#ffa500" stroke-width="1.2" stroke-linejoin="round"/>
<path d="M136.62 547 136.42 545 136.84 543 137 541 136.96 539 136.91 537 139.48 535.9 139.48 533.87 139.84 531.83 139.91 529.8 140.22 527.77 140.24 525.73 140.52 523.7 140.73 521.67 140.97 519.63 140.97 517.6 141.55 515.49 141.49 513.37 141.74 511.26 141.96 509.14 142.12 507.03 142.52 504.91 142.92 502.8 143.74 500.52 144.37 498.25 145.19 495.98 146.12 493.7 146.98 491.74 147.51 489.79 148.36 487.83 148.9 485.87 149.54 483.91 150.26 481.96 150.91 480 150.89 477.95 151.01 475.9 151.25 473.85 151.44 471.8 151.44 469.75 151.73 467.7 151.98 465.65 151.92 463.6 152.08 461.55 152.26 459.5 152.68 457.38 153.36 455.26 153.32 453.13 153.77 451.01 154.14 448.89 154.66 446.77 154.83 444.64 155.4 442.52 155.65 440.4 155.95 438.36 156.44 436.33 156.42 434.29 156.87 432.25 157.03 430.22 157.29 428.18 157.72 426.15 157.69 424.11 158.28 422.07 158.52 420.04 158.67 418 159 420 159.59 417.77 159.87 415.54 160.26 413.31 160.33 411.09 160.97 408.86 161.26 406.63 161.23 404.4 161.78 402.38 162.11 400.36 162.93 398.34 163.42 396.32 163.92 394.3 164.9 392.15 166.07 390 167.43 388.2 168.73 386.4 169.45 389.2 169.85 392 169.73 394.17 169.81 396.33 169.59 398.5 169.9 400.67 169.89 402.83 169.77 405 168.85 407.33 167.71 409.67 166.43 412 166.11 414 165.94 416 165.76 418 165.68 420.11 165.6 422.21 165.68 424.32 165.25 426.43 165.39 428.53 165.15 430.64 165.09 432.74 164.76 434.85 164.44 436.96 164.65 439.06 164.28 441.17 164.09 443.27 164.24 445.38 164.06 447.49 163.71 449.59 163.6 451.7 163.85 453.79 163.52 455.87 163.67 457.96 163.38 460.05 163.64 462.13 163.29 464.22 163.43 466.31 163.18 468.39 163.36 470.48 163.45 472.57 163.08 474.65 163.12 476.74 163.3 478.83 163.19 480.91 163.02 483 164.56 480 165.21 482.27 166.13 484.53 166.61 486.8 166.88 488.82 166.89 490.84 167.01 492.87 166.91 494.89 167.13 496.91 167.19 498.93 167.12 500.96 167.02 502.98 167.5 505 167.46 507.03 167.3 509.07 167.6 511.1 167.47 513.13 167.62 515.17 167.86 517.2 167.74 519.23 167.74 521.27 167.81 523.3 170.01 525 171.78 523.3 172.37 521.03 172.89 518.77 173.41 516.5 173.87 514.22 174.04 511.93 174.56 509.65 174.92 507.37 174.92 505.08 175.33 502.8 175.46 500.73 175.42 498.65 175.6 496.58 176.09 494.51 176.06 492.44 176.36 490.36 176.19 488.29 176.58 486.22 176.85 484.15 177.01 482.07 176.78 480 177.03 477.7 176.98 475.4 177.17 473.1 176.89 470.8 177 468.5 177.66 466.4 177.94 464.3 178.35 462.2 179.01 460.1 179.15 458 179.45 455.9 180.03 453.8 180.35 451.7 180.52 449.59 180.94 447.49 181.32 445.38 181.36 443.27 181.6 441.17 181.66 439.06 181.98 436.96 182.26 434.85 182.4 432.74 182.7 430.64 182.79 428.53 182.84 426.43 183.22 424.32 183.38 422.21 183.45 420.11 183.85 418 183.94 416 183.64 414 183.82 412 183.9 410 183.76 408 183.7 406 183.74 404 183.82 402 184.12 400 184.31 398 184.35 396 184.9 394 185.19 392 185.15 389.98 185.55 387.96 185.85 385.94 186.47 383.92 186.83 381.9 186.78 379.88 187.24 377.86 187.5 375.84 187.96 373.82 188.49 371.8 188.42 369.82 188.78 367.84 189.23 365.87 189.56 363.89 189.96 361.91 190.14 359.93 190.32 357.96 190.72 355.98 191.1 354" fill="none" stroke="#ffa500" stroke-width="1.3" stroke-linejoin="round"/>
<path d="M211.81 356 213.81 356 213.33 358 213.44 360 213.02 362 213.02 364 212.49 366 212.66 368 212.03 370.23 211.83 372.45 211.6 374.67 211.2 376.9 210.95 374.67 210.84 372.45 210.81 370.23 210.6 368 210.81 366 210.9 364 211.18 362 211.27 360 211.5 358Z" fill="none" stroke="#ffa500" stroke-width="1.2" stroke-linejoin="round"/>
<path d="M209.4 381 210.79 381 210.89 383.33 211.05 385.67 210.79 388 209.16 388 209.41 385.67 209.36 383.33Z" fill="none" stroke="#ffa500" stroke-width="1.2" stroke-linejoin="round"/>
<path d="M174.52 354 174.43 356 173.99 358 174.13 360 173.76 362 173.6 364 173.67 366 173.66 368 173.74 370 173.2 372 173.42 374 173.19 376 172.89 378 173.26 380 173.01 382 172.59 384 172.93 386 172.38 388 172.27 390 172.27 392 172.47 394 171.82 396 172.17 398 171.86 400 171.42 402 171.56 404 171.36 406 171.28 408 171.23 410 171.06 412 171.1 414 170.49 416 170.72 418 170.35 420 170.3 422 170.1 424 169.89 426 169.22 428 169.07 430 169.08 432 168.82 434 168.24 436 168.29 438 167.73 440 167.45 442 167.41 444 166.98 446 167.26 448.11 167.51 450.23 167.82 452.34 167.95 454.45 168.19 456.56 168.87 458.67 169.05 460.79 169.4 462.9 169.58 464.91 169.37 466.92 169.48 468.93 169.62 470.94 169.74 472.95 170.11 474.96 170 476.97 170.08 478.98 170.37 480.99 170.22 483 170.21 485.01 170.58 487.02 170.64 489.03 170.42 491.04 170.64 493.06 170.34 495.07 170.58 497.08 170.71 499.09 170.56 501.1 171.14 498.99 171.8 496.88 172.31 494.77 172.59 492.66 173.42 490.55 173.58 488.44 174.6 486.33 174.69 484.22 175.24 482.11 175.73 480 175.18 483 174.93 480.91 175.25 478.83 175.61 476.74 175.74 474.65 175.38 472.57 175.79 470.48 175.98 468.39 176.19 466.31 176.13 464.22 176.27 462.13 176.24 460.05 176.4 457.96 176.83 455.87 176.72 453.79 176.93 451.7 177.25 449.59 177.35 447.49 177.57 445.38 178.31 443.27 178.28 441.17 178.4 439.06 178.92 436.96 178.78 434.85 179.15 432.74 179.8 430.64 180 428.53 180.1 426.43 180.04 424.32 180.41 422.21 180.49 420.11 180.84 418 180.77 416 180.87 414 181.19 412 180.93 410 180.99 408 181.45 406 181.17 404 181.21 402 181.11 400 181.54 398 181.51 396 181.48 394 181.55 392 181.3 390 181.43 388 181.65 386 181.89 384 181.85 382 181.79 380 181.76 378 181.52 376 182.04 374 181.62 372 181.69 370 182.05 368 182.15 366 182.17 364 182.02 362 181.91 360 181.86 358 182.36 356 182.2 354" fill="none" stroke="#ff0000" stroke-width="1.4" stroke-linejoin="round"/>
<path d="M156.67 354 156.21 356 156.52 358 156.21 360 156.12 362 156.18 364 155.86 366 156.06 368 155.88 370 156.12 372 156.05 374.09 156.31 376.18 156.37 378.26 156.1 380.35 156.13 382.44 156.55 384.52 156.35 386.61 156.17 388.7 156.95 391.35 158.27 394 160.34 396.5 160.01 394.44 160.23 392.38 160.19 390.31 160.11 388.25 160.37 386.19 160.33 384.12 159.83 382.06 159.8 380 159.97 378 160.23 376 160.14 374 160.22 372 160.16 370 159.98 368 160.34 366 159.91 364 160.32 362 160.06 360 160.24 358 160.54 356 160.3 354" fill="none" stroke="#ff0000" stroke-width="1.3" stroke-linejoin="round"/>
<path d="M154.7 388.7 154.2 396 154.7 404.4" fill="none" stroke="#ff0000" stroke-width="1.4" stroke-linejoin="round"/>
<path d="M151.9 365 151.9 377.4" fill="none" stroke="#ff0000" stroke-width="1.6" stroke-linejoin="round"/>
<path d="M147.4 394 147.4 403.2" fill="none" stroke="#ff0000" stroke-width="1.6" stroke-linejoin="round"/>
<path d="M153 407.7 153 413.3" fill="none" stroke="#ff0000" stroke-width="1.6" stroke-linejoin="round"/>
<path d="M142.32 418 141.93 420 142.02 422 142.04 424 141.58 426 141.57 428 141.32 430 141.5 432 141.29 434 141.24 436 141 438 141.09 440 140.67 442 140.93 444 140.81 446 140.4 448 140.23 450 140.3 452 139.83 454 139.97 456 139.53 458 139.62 460 139.26 462.09 139.27 464.18 139.3 466.27 138.67 468.36 138.94 470.45 138.65 472.55 138.41 474.64 138.25 476.73 137.95 478.82 137.91 480.91 137.9 483" fill="none" stroke="#ff0000" stroke-width="1.4" stroke-linejoin="round"/>
<path d="M146.87 418 146.61 420 146.96 422 147.16 424 147.2 426 147.18 428 147.17 430 146.72 432 147.06 434 146.53 436 146.81 438 146.71 440 146.43 442.14 146.23 444.29 145.9 446.43 145.94 448.57 145.67 450.71 145.43 452.86 145.29 455 145.49 457 145.38 459 144.76 461 144.51 463 144.6 465" fill="none" stroke="#ff0000" stroke-width="1.4" stroke-linejoin="round"/>
<path d="M136 487 136.5 491" fill="none" stroke="#ff0000" stroke-width="1.6" stroke-linejoin="round"/>
<circle cx="167.6" cy="369" r="1" fill="#ff0000"/><circle cx="170.4" cy="369" r="0.8" fill="#ff0000"/><circle cx="47.9" cy="424" r="0.9" fill="#ff0000"/>
</g>
<rect x="46.7" y="356" width="285.9" height="189.5" fill="none" stroke="#8a8a8a" stroke-width="0.9"/>
<line x1="43.9" x2="46.7" y1="369" y2="369" stroke="#8a8a8a" stroke-width="0.8"/>
<text x="40.6" y="372.5" font-size="10.2" text-anchor="end" >150</text>
<line x1="43.9" x2="46.7" y1="396.2" y2="396.2" stroke="#8a8a8a" stroke-width="0.8"/>
<text x="40.6" y="399.7" font-size="10.2" text-anchor="end" >100</text>
<line x1="43.9" x2="46.7" y1="423.6" y2="423.6" stroke="#8a8a8a" stroke-width="0.8"/>
<text x="40.6" y="427.1" font-size="10.2" text-anchor="end" >50</text>
<line x1="43.9" x2="46.7" y1="451" y2="451" stroke="#8a8a8a" stroke-width="0.8"/>
<text x="40.6" y="454.5" font-size="10.2" text-anchor="end" >0</text>
<line x1="43.9" x2="46.7" y1="478" y2="478" stroke="#8a8a8a" stroke-width="0.8"/>
<text x="40.6" y="481.5" font-size="10.2" text-anchor="end" >−50</text>
<line x1="43.9" x2="46.7" y1="505.1" y2="505.1" stroke="#8a8a8a" stroke-width="0.8"/>
<text x="40.6" y="508.6" font-size="10.2" text-anchor="end" >−100</text>
<line x1="43.9" x2="46.7" y1="532.6" y2="532.6" stroke="#8a8a8a" stroke-width="0.8"/>
<text x="40.6" y="536.1" font-size="10.2" text-anchor="end" >−150</text>
<line x1="111.2" x2="111.2" y1="545.5" y2="548.3" stroke="#8a8a8a" stroke-width="0.8"/>
<text x="111.2" y="560.1" font-size="10.2" text-anchor="middle" >−0.2</text>
<line x1="189.5" x2="189.5" y1="545.5" y2="548.3" stroke="#8a8a8a" stroke-width="0.8"/>
<text x="189.5" y="560.1" font-size="10.2" text-anchor="middle" >0</text>
<line x1="268.3" x2="268.3" y1="545.5" y2="548.3" stroke="#8a8a8a" stroke-width="0.8"/>
<text x="268.3" y="560.1" font-size="10.2" text-anchor="middle" >0.2</text>
<text transform="translate(8.6,451.2) rotate(-90)" font-size="11.15" text-anchor="middle">Offset in ascending node epoch (s)</text>
<text x="187" y="576.7" font-size="11.3" text-anchor="middle" >Offset in orbital period (s)</text>
<line x1="94.9" x2="284.3" y1="451" y2="451" stroke="#1e1ef2" stroke-width="1.5"/>
<line x1="189.5" x2="189.5" y1="389.8" y2="511.5" stroke="#1e1ef2" stroke-width="1.5"/>
<path d="M172 448.7L176.6 453.3M172 453.3L176.6 448.7" stroke="#20e0e8" stroke-width="1.3"/>
<rect x="399.4" y="50.5" width="284.6" height="189.7" fill="none" stroke="#8a8a8a" stroke-width="0.9"/>
<line x1="523.5" x2="523.5" y1="50.5" y2="240.2" stroke="#ffa500" stroke-width="1.3"/>
<line x1="557.2" x2="557.2" y1="50.5" y2="240.2" stroke="#ff1a1a" stroke-width="1.4"/>
<line x1="579.9" x2="579.9" y1="50.5" y2="240.2" stroke="#30f0f8" stroke-width="2.0"/>
<line x1="597.5" x2="597.5" y1="50.5" y2="240.2" stroke="#9a0000" stroke-width="1.4"/>
<line x1="399.4" x2="684" y1="115.4" y2="115.4" stroke="#ffa500" stroke-width="1.4" stroke-dasharray="4.8,2.8"/>
<line x1="399.4" x2="684" y1="145.6" y2="145.6" stroke="#ff2020" stroke-width="1.5" stroke-dasharray="4.8,2.8"/>
<line x1="399.4" x2="684" y1="168.19" y2="168.19" stroke="#30f0f8" stroke-width="1.5" stroke-dasharray="4.8,2.8"/>
<line x1="399.4" x2="684" y1="188.8" y2="188.8" stroke="#a84040" stroke-width="1.8" stroke-dasharray="4.8,2.8"/>
<polyline points="412.3,59.2 434.6,59.2 445.1,60.5 455.6,64.4 471.4,72.8 487.1,83.4 500,94.3 506.9,100.4 513,106.4 517.3,109.9 523.3,115.6 528.5,121.1 533.7,126.3 538,130.1 540.6,131.5 545.8,136.6 550.1,140.4 553.5,142.7 557,145.3 560.4,149.6 564.8,154.2 569.1,159.1 573.4,162.5 576,164.3 579.4,167.2 582.9,168.1 588.1,171.2 589.8,172.9 592.4,179.8 595,185 597.6,188.4 601.1,192.6 603.5,198.2 614.4,201.6 616.1,204.7 618,211.3 644.6,218.5 672,232" fill="none" stroke="#111" stroke-width="1.3" stroke-linejoin="round"/>
<line x1="416.5" x2="416.5" y1="240.2" y2="243" stroke="#8a8a8a" stroke-width="0.8"/>
<text x="416.5" y="254.8" font-size="9.8" text-anchor="middle" >2.5</text>
<line x1="465.7" x2="465.7" y1="240.2" y2="243" stroke="#8a8a8a" stroke-width="0.8"/>
<text x="465.7" y="254.8" font-size="9.8" text-anchor="middle" >5.0</text>
<line x1="514.9" x2="514.9" y1="240.2" y2="243" stroke="#8a8a8a" stroke-width="0.8"/>
<text x="514.9" y="254.8" font-size="9.8" text-anchor="middle" >7.5</text>
<line x1="564.1" x2="564.1" y1="240.2" y2="243" stroke="#8a8a8a" stroke-width="0.8"/>
<text x="564.1" y="254.8" font-size="9.8" text-anchor="middle" >10.0</text>
<line x1="613.3" x2="613.3" y1="240.2" y2="243" stroke="#8a8a8a" stroke-width="0.8"/>
<text x="613.3" y="254.8" font-size="9.8" text-anchor="middle" >12.5</text>
<line x1="662.5" x2="662.5" y1="240.2" y2="243" stroke="#8a8a8a" stroke-width="0.8"/>
<text x="662.5" y="254.8" font-size="9.8" text-anchor="middle" >15.0</text>
<line x1="396.6" x2="399.4" y1="59.2" y2="59.2" stroke="#8a8a8a" stroke-width="0.8"/>
<text x="388.3" y="62.6" font-size="9.4" text-anchor="end" >10</text>
<text x="388.5" y="57.8" font-size="6.3" textLength="4.5" lengthAdjust="spacingAndGlyphs">0</text>
<line x1="397.7" x2="399.4" y1="89.4" y2="89.4" stroke="#8a8a8a" stroke-width="0.6"/>
<line x1="397.7" x2="399.4" y1="81.79" y2="81.79" stroke="#8a8a8a" stroke-width="0.6"/>
<line x1="397.7" x2="399.4" y1="76.39" y2="76.39" stroke="#8a8a8a" stroke-width="0.6"/>
<line x1="397.7" x2="399.4" y1="72.2" y2="72.2" stroke="#8a8a8a" stroke-width="0.6"/>
<line x1="397.7" x2="399.4" y1="68.78" y2="68.78" stroke="#8a8a8a" stroke-width="0.6"/>
<line x1="397.7" x2="399.4" y1="65.89" y2="65.89" stroke="#8a8a8a" stroke-width="0.6"/>
<line x1="397.7" x2="399.4" y1="63.39" y2="63.39" stroke="#8a8a8a" stroke-width="0.6"/>
<line x1="397.7" x2="399.4" y1="61.18" y2="61.18" stroke="#8a8a8a" stroke-width="0.6"/>
<line x1="396.6" x2="399.4" y1="102.4" y2="102.4" stroke="#8a8a8a" stroke-width="0.8"/>
<text x="387.9" y="105.8" font-size="9.4" text-anchor="end" >10</text>
<text x="388.1" y="101" font-size="6.3" textLength="4.9" lengthAdjust="spacingAndGlyphs">−1</text>
<line x1="397.7" x2="399.4" y1="132.6" y2="132.6" stroke="#8a8a8a" stroke-width="0.6"/>
<line x1="397.7" x2="399.4" y1="124.99" y2="124.99" stroke="#8a8a8a" stroke-width="0.6"/>
<line x1="397.7" x2="399.4" y1="119.59" y2="119.59" stroke="#8a8a8a" stroke-width="0.6"/>
<line x1="397.7" x2="399.4" y1="115.4" y2="115.4" stroke="#8a8a8a" stroke-width="0.6"/>
<line x1="397.7" x2="399.4" y1="111.98" y2="111.98" stroke="#8a8a8a" stroke-width="0.6"/>
<line x1="397.7" x2="399.4" y1="109.09" y2="109.09" stroke="#8a8a8a" stroke-width="0.6"/>
<line x1="397.7" x2="399.4" y1="106.59" y2="106.59" stroke="#8a8a8a" stroke-width="0.6"/>
<line x1="397.7" x2="399.4" y1="104.38" y2="104.38" stroke="#8a8a8a" stroke-width="0.6"/>
<line x1="396.6" x2="399.4" y1="145.6" y2="145.6" stroke="#8a8a8a" stroke-width="0.8"/>
<text x="386.6" y="149" font-size="9.4" text-anchor="end" >10</text>
<text x="386.8" y="144.2" font-size="6.3" textLength="6.2" lengthAdjust="spacingAndGlyphs">−2</text>
<line x1="397.7" x2="399.4" y1="175.8" y2="175.8" stroke="#8a8a8a" stroke-width="0.6"/>
<line x1="397.7" x2="399.4" y1="168.19" y2="168.19" stroke="#8a8a8a" stroke-width="0.6"/>
<line x1="397.7" x2="399.4" y1="162.79" y2="162.79" stroke="#8a8a8a" stroke-width="0.6"/>
<line x1="397.7" x2="399.4" y1="158.6" y2="158.6" stroke="#8a8a8a" stroke-width="0.6"/>
<line x1="397.7" x2="399.4" y1="155.18" y2="155.18" stroke="#8a8a8a" stroke-width="0.6"/>
<line x1="397.7" x2="399.4" y1="152.29" y2="152.29" stroke="#8a8a8a" stroke-width="0.6"/>
<line x1="397.7" x2="399.4" y1="149.79" y2="149.79" stroke="#8a8a8a" stroke-width="0.6"/>
<line x1="397.7" x2="399.4" y1="147.58" y2="147.58" stroke="#8a8a8a" stroke-width="0.6"/>
<line x1="396.6" x2="399.4" y1="188.8" y2="188.8" stroke="#8a8a8a" stroke-width="0.8"/>
<text x="386.6" y="192.2" font-size="9.4" text-anchor="end" >10</text>
<text x="386.8" y="187.4" font-size="6.3" textLength="6.2" lengthAdjust="spacingAndGlyphs">−3</text>
<line x1="397.7" x2="399.4" y1="219" y2="219" stroke="#8a8a8a" stroke-width="0.6"/>
<line x1="397.7" x2="399.4" y1="211.39" y2="211.39" stroke="#8a8a8a" stroke-width="0.6"/>
<line x1="397.7" x2="399.4" y1="205.99" y2="205.99" stroke="#8a8a8a" stroke-width="0.6"/>
<line x1="397.7" x2="399.4" y1="201.8" y2="201.8" stroke="#8a8a8a" stroke-width="0.6"/>
<line x1="397.7" x2="399.4" y1="198.38" y2="198.38" stroke="#8a8a8a" stroke-width="0.6"/>
<line x1="397.7" x2="399.4" y1="195.49" y2="195.49" stroke="#8a8a8a" stroke-width="0.6"/>
<line x1="397.7" x2="399.4" y1="192.99" y2="192.99" stroke="#8a8a8a" stroke-width="0.6"/>
<line x1="397.7" x2="399.4" y1="190.78" y2="190.78" stroke="#8a8a8a" stroke-width="0.6"/>
<line x1="396.6" x2="399.4" y1="232" y2="232" stroke="#8a8a8a" stroke-width="0.8"/>
<text x="386.6" y="235.4" font-size="9.4" text-anchor="end" >10</text>
<text x="386.8" y="230.6" font-size="6.3" textLength="6.2" lengthAdjust="spacingAndGlyphs">−4</text>
<line x1="397.7" x2="399.4" y1="238.69" y2="238.69" stroke="#8a8a8a" stroke-width="0.6"/>
<line x1="397.7" x2="399.4" y1="236.19" y2="236.19" stroke="#8a8a8a" stroke-width="0.6"/>
<line x1="397.7" x2="399.4" y1="233.98" y2="233.98" stroke="#8a8a8a" stroke-width="0.6"/>
<text transform="translate(366.3,145.4) rotate(-90)" font-size="11.2" text-anchor="middle">False-alarm probability</text>
<text x="519" y="268" font-size="11" font-style="italic">δ</text>
<text x="525.38" y="268" font-size="11">log</text>
<path transform="translate(543.35,260.6) scale(1)" d="M6.3 1.2 C6.0 -0.1 4.4 -0.1 3.9 1.4 L2.7 5.6 C2.4 6.7 1.4 7.6 0.6 7.3 C-0.1 7.0 0.6 6.1 1.8 6.4 C3.2 6.8 4.6 7.5 6.5 6.6" fill="none" stroke="#262626" stroke-width="1.15" stroke-linecap="round"/>
<text x="550.61" y="270.6" font-size="7.92">max</text>
<rect x="399.6" y="355.9" width="284.8" height="189.6" fill="none" stroke="#8a8a8a" stroke-width="0.9"/>
<line x1="527.3" x2="527.3" y1="355.9" y2="545.5" stroke="#ffa500" stroke-width="1.3"/>
<line x1="561" x2="561" y1="355.9" y2="545.5" stroke="#ff3030" stroke-width="1.8"/>
<line x1="614.8" x2="614.8" y1="355.9" y2="545.5" stroke="#30f0f8" stroke-width="1.5"/>
<line x1="623" x2="623" y1="355.9" y2="545.5" stroke="#a84040" stroke-width="1.8"/>
<line x1="399.6" x2="684.4" y1="420.83" y2="420.83" stroke="#ffa500" stroke-width="1.4" stroke-dasharray="4.8,2.8"/>
<line x1="399.6" x2="684.4" y1="451.2" y2="451.2" stroke="#ff3030" stroke-width="1.6" stroke-dasharray="4.8,2.8"/>
<line x1="399.6" x2="684.4" y1="490.44" y2="490.44" stroke="#30f0f8" stroke-width="1.5" stroke-dasharray="4.8,2.8"/>
<line x1="399.6" x2="684.4" y1="494.65" y2="494.65" stroke="#902020" stroke-width="1.6" stroke-dasharray="4.8,2.8"/>
<polyline points="412,364.4 420,364.6 430.5,365.2 441,366.9 451.5,370.4 462,375.7 472.6,381.6 483.1,388.6 493.6,396.5 504.1,404.1 514.6,411.9 526.9,420.7 530,422.8 537.6,428.5 543.3,434.2 549,438 554.7,442.8 561.3,450.4 568,455.1 575.6,459.9 585.1,465.2 591.7,469.8 595.5,475.1 601.2,477.9 605,482.7 609.8,485.5 614.5,489.9 617.4,491.8 622.7,494.1 625,500.7 629.7,503.6 630.7,511.2 633.5,514 640,517.3 669.9,524 671.8,537.2" fill="none" stroke="#111" stroke-width="1.3" stroke-linejoin="round"/>
<line x1="408" x2="408" y1="545.5" y2="548.3" stroke="#8a8a8a" stroke-width="0.8"/>
<text x="408" y="560.1" font-size="9.8" text-anchor="middle" >2</text>
<line x1="452.3" x2="452.3" y1="545.5" y2="548.3" stroke="#8a8a8a" stroke-width="0.8"/>
<text x="452.3" y="560.1" font-size="9.8" text-anchor="middle" >4</text>
<line x1="496.6" x2="496.6" y1="545.5" y2="548.3" stroke="#8a8a8a" stroke-width="0.8"/>
<text x="496.6" y="560.1" font-size="9.8" text-anchor="middle" >6</text>
<line x1="540.9" x2="540.9" y1="545.5" y2="548.3" stroke="#8a8a8a" stroke-width="0.8"/>
<text x="540.9" y="560.1" font-size="9.8" text-anchor="middle" >8</text>
<line x1="585.2" x2="585.2" y1="545.5" y2="548.3" stroke="#8a8a8a" stroke-width="0.8"/>
<text x="585.2" y="560.1" font-size="9.8" text-anchor="middle" >10</text>
<line x1="629.5" x2="629.5" y1="545.5" y2="548.3" stroke="#8a8a8a" stroke-width="0.8"/>
<text x="629.5" y="560.1" font-size="9.8" text-anchor="middle" >12</text>
<line x1="673.8" x2="673.8" y1="545.5" y2="548.3" stroke="#8a8a8a" stroke-width="0.8"/>
<text x="673.8" y="560.1" font-size="9.8" text-anchor="middle" >14</text>
<line x1="396.8" x2="399.6" y1="364.3" y2="364.3" stroke="#8a8a8a" stroke-width="0.8"/>
<text x="388.3" y="367.7" font-size="9.4" text-anchor="end" >10</text>
<text x="388.5" y="362.9" font-size="6.3" textLength="4.5" lengthAdjust="spacingAndGlyphs">0</text>
<line x1="397.9" x2="399.6" y1="394.67" y2="394.67" stroke="#8a8a8a" stroke-width="0.6"/>
<line x1="397.9" x2="399.6" y1="387.02" y2="387.02" stroke="#8a8a8a" stroke-width="0.6"/>
<line x1="397.9" x2="399.6" y1="381.59" y2="381.59" stroke="#8a8a8a" stroke-width="0.6"/>
<line x1="397.9" x2="399.6" y1="377.38" y2="377.38" stroke="#8a8a8a" stroke-width="0.6"/>
<line x1="397.9" x2="399.6" y1="373.94" y2="373.94" stroke="#8a8a8a" stroke-width="0.6"/>
<line x1="397.9" x2="399.6" y1="371.03" y2="371.03" stroke="#8a8a8a" stroke-width="0.6"/>
<line x1="397.9" x2="399.6" y1="368.51" y2="368.51" stroke="#8a8a8a" stroke-width="0.6"/>
<line x1="397.9" x2="399.6" y1="366.29" y2="366.29" stroke="#8a8a8a" stroke-width="0.6"/>
<line x1="396.8" x2="399.6" y1="407.75" y2="407.75" stroke="#8a8a8a" stroke-width="0.8"/>
<text x="387.9" y="411.15" font-size="9.4" text-anchor="end" >10</text>
<text x="388.1" y="406.35" font-size="6.3" textLength="4.9" lengthAdjust="spacingAndGlyphs">−1</text>
<line x1="397.9" x2="399.6" y1="438.12" y2="438.12" stroke="#8a8a8a" stroke-width="0.6"/>
<line x1="397.9" x2="399.6" y1="430.47" y2="430.47" stroke="#8a8a8a" stroke-width="0.6"/>
<line x1="397.9" x2="399.6" y1="425.04" y2="425.04" stroke="#8a8a8a" stroke-width="0.6"/>
<line x1="397.9" x2="399.6" y1="420.83" y2="420.83" stroke="#8a8a8a" stroke-width="0.6"/>
<line x1="397.9" x2="399.6" y1="417.39" y2="417.39" stroke="#8a8a8a" stroke-width="0.6"/>
<line x1="397.9" x2="399.6" y1="414.48" y2="414.48" stroke="#8a8a8a" stroke-width="0.6"/>
<line x1="397.9" x2="399.6" y1="411.96" y2="411.96" stroke="#8a8a8a" stroke-width="0.6"/>
<line x1="397.9" x2="399.6" y1="409.74" y2="409.74" stroke="#8a8a8a" stroke-width="0.6"/>
<line x1="396.8" x2="399.6" y1="451.2" y2="451.2" stroke="#8a8a8a" stroke-width="0.8"/>
<text x="386.6" y="454.6" font-size="9.4" text-anchor="end" >10</text>
<text x="386.8" y="449.8" font-size="6.3" textLength="6.2" lengthAdjust="spacingAndGlyphs">−2</text>
<line x1="397.9" x2="399.6" y1="481.57" y2="481.57" stroke="#8a8a8a" stroke-width="0.6"/>
<line x1="397.9" x2="399.6" y1="473.92" y2="473.92" stroke="#8a8a8a" stroke-width="0.6"/>
<line x1="397.9" x2="399.6" y1="468.49" y2="468.49" stroke="#8a8a8a" stroke-width="0.6"/>
<line x1="397.9" x2="399.6" y1="464.28" y2="464.28" stroke="#8a8a8a" stroke-width="0.6"/>
<line x1="397.9" x2="399.6" y1="460.84" y2="460.84" stroke="#8a8a8a" stroke-width="0.6"/>
<line x1="397.9" x2="399.6" y1="457.93" y2="457.93" stroke="#8a8a8a" stroke-width="0.6"/>
<line x1="397.9" x2="399.6" y1="455.41" y2="455.41" stroke="#8a8a8a" stroke-width="0.6"/>
<line x1="397.9" x2="399.6" y1="453.19" y2="453.19" stroke="#8a8a8a" stroke-width="0.6"/>
<line x1="396.8" x2="399.6" y1="494.65" y2="494.65" stroke="#8a8a8a" stroke-width="0.8"/>
<text x="386.6" y="498.05" font-size="9.4" text-anchor="end" >10</text>
<text x="386.8" y="493.25" font-size="6.3" textLength="6.2" lengthAdjust="spacingAndGlyphs">−3</text>
<line x1="397.9" x2="399.6" y1="525.02" y2="525.02" stroke="#8a8a8a" stroke-width="0.6"/>
<line x1="397.9" x2="399.6" y1="517.37" y2="517.37" stroke="#8a8a8a" stroke-width="0.6"/>
<line x1="397.9" x2="399.6" y1="511.94" y2="511.94" stroke="#8a8a8a" stroke-width="0.6"/>
<line x1="397.9" x2="399.6" y1="507.73" y2="507.73" stroke="#8a8a8a" stroke-width="0.6"/>
<line x1="397.9" x2="399.6" y1="504.29" y2="504.29" stroke="#8a8a8a" stroke-width="0.6"/>
<line x1="397.9" x2="399.6" y1="501.38" y2="501.38" stroke="#8a8a8a" stroke-width="0.6"/>
<line x1="397.9" x2="399.6" y1="498.86" y2="498.86" stroke="#8a8a8a" stroke-width="0.6"/>
<line x1="397.9" x2="399.6" y1="496.64" y2="496.64" stroke="#8a8a8a" stroke-width="0.6"/>
<line x1="396.8" x2="399.6" y1="538.1" y2="538.1" stroke="#8a8a8a" stroke-width="0.8"/>
<text x="386.6" y="541.5" font-size="9.4" text-anchor="end" >10</text>
<text x="386.8" y="536.7" font-size="6.3" textLength="6.2" lengthAdjust="spacingAndGlyphs">−4</text>
<line x1="397.9" x2="399.6" y1="544.83" y2="544.83" stroke="#8a8a8a" stroke-width="0.6"/>
<line x1="397.9" x2="399.6" y1="542.31" y2="542.31" stroke="#8a8a8a" stroke-width="0.6"/>
<line x1="397.9" x2="399.6" y1="540.09" y2="540.09" stroke="#8a8a8a" stroke-width="0.6"/>
<text transform="translate(366.3,450.7) rotate(-90)" font-size="11.2" text-anchor="middle">False-alarm probability</text>
<text x="519" y="573.3" font-size="11" font-style="italic">δ</text>
<text x="525.38" y="573.3" font-size="11">log</text>
<path transform="translate(543.35,565.9) scale(1)" d="M6.3 1.2 C6.0 -0.1 4.4 -0.1 3.9 1.4 L2.7 5.6 C2.4 6.7 1.4 7.6 0.6 7.3 C-0.1 7.0 0.6 6.1 1.8 6.4 C3.2 6.8 4.6 7.5 6.5 6.6" fill="none" stroke="#262626" stroke-width="1.15" stroke-linecap="round"/>
<text x="550.61" y="575.9" font-size="7.92">max</text>
</svg></body></html>
